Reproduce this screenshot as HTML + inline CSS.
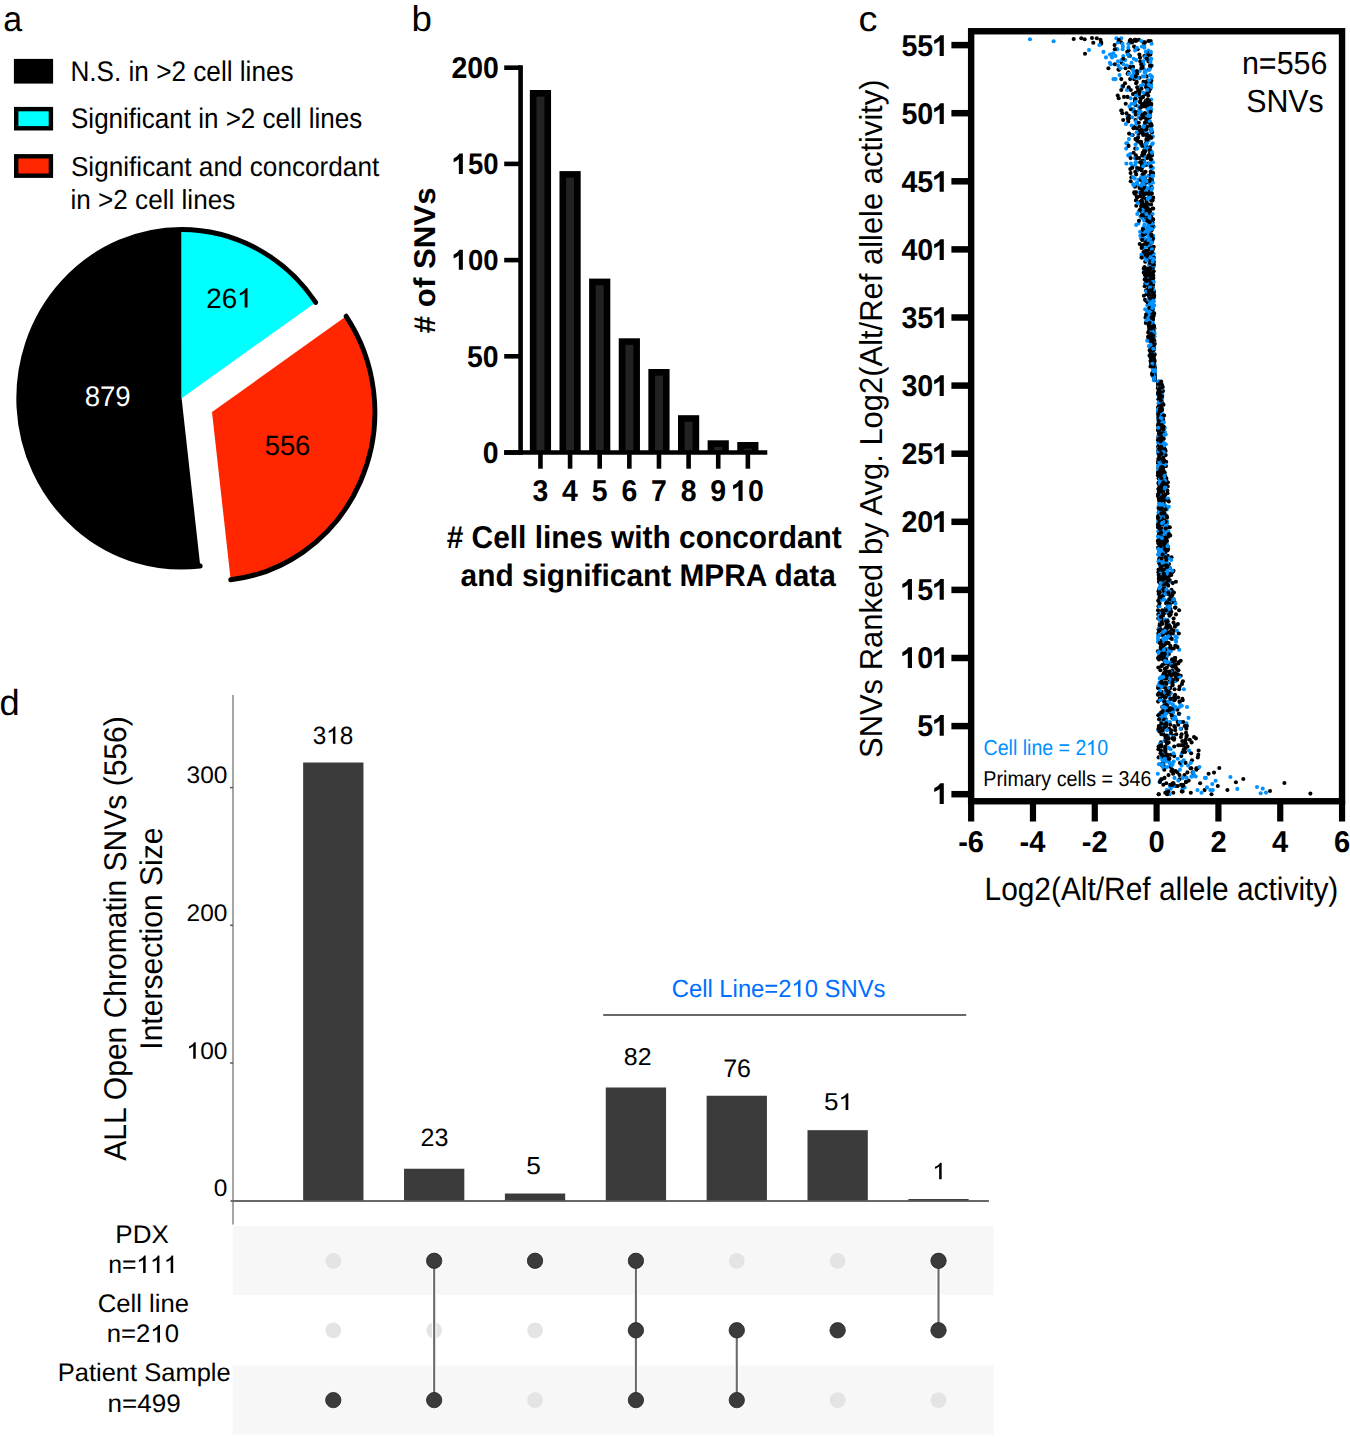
<!DOCTYPE html><html><head><meta charset="utf-8"><style>html,body{margin:0;padding:0;background:#fff;}body{width:1350px;height:1438px;overflow:hidden;}svg{display:block;}text{font-family:"Liberation Sans", sans-serif;text-rendering:geometricPrecision;}</style></head><body>
<svg width="1350" height="1438" viewBox="0 0 1350 1438">
<rect width="1350" height="1438" fill="#fff"/>
<text transform="translate(3.37,31.05) scale(0.9617,1)" font-size="35.27" font-weight="normal" fill="#000">a</text>
<text transform="translate(411.62,31.24) scale(1.0208,1)" font-size="35.92" font-weight="normal" fill="#000">b</text>
<text transform="translate(858.39,31.05) scale(1.0747,1)" font-size="35.27" font-weight="normal" fill="#000">c</text>
<text transform="translate(-0.55,715.34) scale(1.0009,1)" font-size="36.19" font-weight="normal" fill="#000">d</text>
<rect x="16" y="61" width="35" height="20.5" fill="#000" stroke="#000" stroke-width="4.2"/>
<rect x="16.2" y="109.1" width="34.7" height="19.2" fill="#00ffff" stroke="#000" stroke-width="4.4"/>
<rect x="16.2" y="156.3" width="34.7" height="19.4" fill="#ff2600" stroke="#000" stroke-width="4.4"/>
<text transform="translate(70.41,81.32) scale(0.9198,1)" font-size="28.44" font-weight="normal" fill="#000">N.S. in &gt;2 cell lines</text>
<text transform="translate(71.03,127.55) scale(0.9176,1)" font-size="28.34" font-weight="normal" fill="#000">Significant in &gt;2 cell lines</text>
<text transform="translate(70.92,175.55) scale(0.9555,1)" font-size="27.38" font-weight="normal" fill="#000">Significant and concordant</text>
<text transform="translate(70.40,208.73) scale(0.9515,1)" font-size="27.48" font-weight="normal" fill="#000">in &gt;2 cell lines</text>
<g transform="translate(181.6,398.3) scale(1,1.0363)">
<path d="M0.00,0.00 L18.67,161.83 A162.90,162.90 0 1 1 -0.00,-162.90 Z" fill="#000"/>
<path d="M18.67,161.83 A162.90,162.90 0 1 1 -0.00,-162.90" fill="none" stroke="#000" stroke-width="4.8" stroke-linecap="round"/>
<path d="M0.00,0.00 L0.00,-162.90 A162.90,162.90 0 0 1 134.09,-92.50 Z" fill="#00ffff"/>
<path d="M0.00,-162.90 A162.90,162.90 0 0 1 134.09,-92.50" fill="none" stroke="#000" stroke-width="4.8" stroke-linecap="round"/>
<path d="M30.41,13.32 L164.50,-79.18 A162.90,162.90 0 0 1 49.08,175.15 Z" fill="#ff2600"/>
<path d="M164.50,-79.18 A162.90,162.90 0 0 1 49.08,175.15" fill="none" stroke="#000" stroke-width="4.8" stroke-linecap="round"/>
</g>
<g transform="translate(206.21,307.62) scale(0.9921,1)" fill="#000">
<text font-size="28.03" font-weight="normal">26&#8199;</text>
<polygon points="38.75,-0.00 41.62,-0.00 41.62,-19.28 39.94,-19.28 39.09,-18.02 37.75,-16.72 35.97,-15.49 33.91,-14.46 33.91,-12.12 35.28,-12.64 36.72,-13.36 37.95,-14.15 38.75,-14.80"/>
</g>
<text transform="translate(84.66,405.92) scale(0.9756,1)" font-size="28.31" font-weight="normal" fill="#fff">879</text>
<text transform="translate(264.71,455.12) scale(0.9804,1)" font-size="27.89" font-weight="normal" fill="#000">556</text>
<line x1="520.6" y1="65.3" x2="520.6" y2="454.8" stroke="#000" stroke-width="4.6"/>
<line x1="504.2" y1="452.5" x2="767.3" y2="452.5" stroke="#000" stroke-width="4.5"/>
<line x1="504.2" y1="452.50" x2="520.6" y2="452.50" stroke="#000" stroke-width="4.6"/>
<line x1="504.2" y1="356.30" x2="520.6" y2="356.30" stroke="#000" stroke-width="4.6"/>
<line x1="504.2" y1="260.10" x2="520.6" y2="260.10" stroke="#000" stroke-width="4.6"/>
<line x1="504.2" y1="163.90" x2="520.6" y2="163.90" stroke="#000" stroke-width="4.6"/>
<line x1="504.2" y1="67.70" x2="520.6" y2="67.70" stroke="#000" stroke-width="4.6"/>
<rect x="529.85" y="90.00" width="21.20" height="362.50" fill="#000"/>
<rect x="536.45" y="96.60" width="8.00" height="353.60" fill="#222"/>
<line x1="540.45" y1="452.5" x2="540.45" y2="468.7" stroke="#000" stroke-width="4.6"/>
<rect x="559.48" y="171.10" width="21.20" height="281.40" fill="#000"/>
<rect x="566.08" y="177.70" width="8.00" height="272.50" fill="#222"/>
<line x1="570.08" y1="452.5" x2="570.08" y2="468.7" stroke="#000" stroke-width="4.6"/>
<rect x="589.11" y="278.60" width="21.20" height="173.90" fill="#000"/>
<rect x="595.71" y="285.20" width="8.00" height="165.00" fill="#222"/>
<line x1="599.71" y1="452.5" x2="599.71" y2="468.7" stroke="#000" stroke-width="4.6"/>
<rect x="618.74" y="338.30" width="21.20" height="114.20" fill="#000"/>
<rect x="625.34" y="344.90" width="8.00" height="105.30" fill="#222"/>
<line x1="629.34" y1="452.5" x2="629.34" y2="468.7" stroke="#000" stroke-width="4.6"/>
<rect x="648.37" y="369.00" width="21.20" height="83.50" fill="#000"/>
<rect x="654.97" y="375.60" width="8.00" height="74.60" fill="#222"/>
<line x1="658.97" y1="452.5" x2="658.97" y2="468.7" stroke="#000" stroke-width="4.6"/>
<rect x="678.00" y="415.20" width="21.20" height="37.30" fill="#000"/>
<rect x="684.60" y="421.80" width="8.00" height="28.40" fill="#222"/>
<line x1="688.60" y1="452.5" x2="688.60" y2="468.7" stroke="#000" stroke-width="4.6"/>
<rect x="707.63" y="440.30" width="21.20" height="12.20" fill="#000"/>
<rect x="714.23" y="446.90" width="8.00" height="3.30" fill="#222"/>
<line x1="718.23" y1="452.5" x2="718.23" y2="468.7" stroke="#000" stroke-width="4.6"/>
<rect x="737.26" y="442.00" width="21.20" height="10.50" fill="#000"/>
<rect x="743.86" y="448.60" width="8.00" height="1.60" fill="#222"/>
<line x1="747.86" y1="452.5" x2="747.86" y2="468.7" stroke="#000" stroke-width="4.6"/>
<text transform="translate(451.41,78.00) scale(0.9432,1)" font-size="30.14" font-weight="bold" fill="#000">200</text>
<g transform="translate(452.73,174.00) scale(0.9207,1)" fill="#000">
<text font-size="29.86" font-weight="bold">&#8199;50</text>
<polygon points="6.63,0.00 10.98,0.00 10.98,-20.54 7.41,-20.54 4.81,-17.71 0.95,-15.59 0.95,-11.71 4.23,-13.19 6.63,-14.89"/>
</g>
<g transform="translate(452.73,269.71) scale(0.9521,1)" fill="#000">
<text font-size="28.87" font-weight="bold">&#8199;00</text>
<polygon points="6.41,0.00 10.62,0.00 10.62,-19.86 7.16,-19.86 4.65,-17.13 0.92,-15.07 0.92,-11.32 4.09,-12.76 6.41,-14.39"/>
</g>
<text transform="translate(466.98,366.68) scale(0.9444,1)" font-size="30.10" font-weight="bold" fill="#000">50</text>
<text transform="translate(482.76,462.88) scale(0.9444,1)" font-size="30.10" font-weight="bold" fill="#000">0</text>
<text transform="translate(532.60,501.08) scale(0.9444,1)" font-size="30.10" font-weight="bold" fill="#000">3</text>
<text transform="translate(561.96,501.08) scale(0.9444,1)" font-size="30.10" font-weight="bold" fill="#000">4</text>
<text transform="translate(591.67,500.93) scale(0.9444,1)" font-size="30.10" font-weight="bold" fill="#000">5</text>
<text transform="translate(621.38,501.08) scale(0.9444,1)" font-size="30.10" font-weight="bold" fill="#000">6</text>
<text transform="translate(651.02,501.08) scale(0.9444,1)" font-size="30.10" font-weight="bold" fill="#000">7</text>
<text transform="translate(680.66,501.08) scale(0.9444,1)" font-size="30.10" font-weight="bold" fill="#000">8</text>
<text transform="translate(710.30,501.08) scale(0.9444,1)" font-size="30.10" font-weight="bold" fill="#000">9</text>
<g transform="translate(732.17,501.08) scale(0.9444,1)" fill="#000">
<text font-size="30.10" font-weight="bold">&#8199;0</text>
<polygon points="6.69,0.00 11.07,0.00 11.07,-20.71 7.47,-20.71 4.85,-17.86 0.96,-15.71 0.96,-11.80 4.26,-13.30 6.69,-15.01"/>
</g>
<text transform="translate(446.65,547.58) scale(0.9429,1)" font-size="31.70" font-weight="bold" fill="#000"># Cell lines with concordant</text>
<text transform="translate(460.60,585.74) scale(0.9559,1)" font-size="31.23" font-weight="bold" fill="#000">and significant MPRA data</text>
<text transform="translate(434.70,333.17) rotate(-90) scale(1.0381,1)" font-size="30.07" font-weight="bold" fill="#000"># of SNVs</text>
<g>
<circle cx="1152.4" cy="329.8" r="2.05" fill="#000"/>
<circle cx="1121.3" cy="79.1" r="2.05" fill="#000"/>
<circle cx="1145.6" cy="114.6" r="2.05" fill="#000"/>
<circle cx="1158.0" cy="638.9" r="2.05" fill="#0091ff"/>
<circle cx="1151.7" cy="321.6" r="2.05" fill="#0091ff"/>
<circle cx="1148.4" cy="50.5" r="2.05" fill="#0091ff"/>
<circle cx="1145.7" cy="163.6" r="2.05" fill="#0091ff"/>
<circle cx="1149.9" cy="117.3" r="2.05" fill="#000"/>
<circle cx="1138.3" cy="141.8" r="2.05" fill="#000"/>
<circle cx="1152.9" cy="325.7" r="2.05" fill="#000"/>
<circle cx="1182.9" cy="681.2" r="2.05" fill="#000"/>
<circle cx="1151.7" cy="252.1" r="2.05" fill="#000"/>
<circle cx="1140.6" cy="86.0" r="2.05" fill="#0091ff"/>
<circle cx="1175.6" cy="786.0" r="2.05" fill="#000"/>
<circle cx="1149.6" cy="306.6" r="2.05" fill="#000"/>
<circle cx="1160.6" cy="600.8" r="2.05" fill="#0091ff"/>
<circle cx="1110.8" cy="64.2" r="2.05" fill="#0091ff"/>
<circle cx="1165.8" cy="565.4" r="2.05" fill="#0091ff"/>
<circle cx="1174.6" cy="602.2" r="2.05" fill="#000"/>
<circle cx="1165.4" cy="674.3" r="2.05" fill="#000"/>
<circle cx="1162.2" cy="421.0" r="2.05" fill="#0091ff"/>
<circle cx="1160.9" cy="464.6" r="2.05" fill="#0091ff"/>
<circle cx="1159.0" cy="436.0" r="2.05" fill="#000"/>
<circle cx="1159.2" cy="542.2" r="2.05" fill="#000"/>
<circle cx="1159.6" cy="396.5" r="2.05" fill="#000"/>
<circle cx="1161.3" cy="531.3" r="2.05" fill="#000"/>
<circle cx="1152.4" cy="268.5" r="2.05" fill="#000"/>
<circle cx="1170.7" cy="765.6" r="2.05" fill="#0091ff"/>
<circle cx="1175.8" cy="673.0" r="2.05" fill="#000"/>
<circle cx="1126.4" cy="143.2" r="2.05" fill="#0091ff"/>
<circle cx="1148.0" cy="204.5" r="2.05" fill="#000"/>
<circle cx="1168.2" cy="585.8" r="2.05" fill="#000"/>
<circle cx="1161.2" cy="577.6" r="2.05" fill="#000"/>
<circle cx="1164.3" cy="564.0" r="2.05" fill="#000"/>
<circle cx="1158.2" cy="395.1" r="2.05" fill="#0091ff"/>
<circle cx="1185.8" cy="739.7" r="2.05" fill="#000"/>
<circle cx="1150.8" cy="350.2" r="2.05" fill="#0091ff"/>
<circle cx="1219.3" cy="768.0" r="2.05" fill="#000"/>
<circle cx="1149.8" cy="265.7" r="2.05" fill="#0091ff"/>
<circle cx="1172.9" cy="708.4" r="2.05" fill="#000"/>
<circle cx="1160.7" cy="389.7" r="2.05" fill="#000"/>
<circle cx="1151.1" cy="188.1" r="2.05" fill="#000"/>
<circle cx="1158.5" cy="606.2" r="2.05" fill="#000"/>
<circle cx="1260.7" cy="793.3" r="2.05" fill="#0091ff"/>
<circle cx="1133.5" cy="73.7" r="2.05" fill="#0091ff"/>
<circle cx="1158.1" cy="636.2" r="2.05" fill="#0091ff"/>
<circle cx="1145.5" cy="317.5" r="2.05" fill="#000"/>
<circle cx="1164.4" cy="613.1" r="2.05" fill="#000"/>
<circle cx="1196.4" cy="768.3" r="2.05" fill="#000"/>
<circle cx="1169.3" cy="758.8" r="2.05" fill="#000"/>
<circle cx="1177.4" cy="709.8" r="2.05" fill="#000"/>
<circle cx="1230.4" cy="777.0" r="2.05" fill="#0091ff"/>
<circle cx="1159.5" cy="404.7" r="2.05" fill="#000"/>
<circle cx="1152.1" cy="317.5" r="2.05" fill="#000"/>
<circle cx="1176.3" cy="645.7" r="2.05" fill="#0091ff"/>
<circle cx="1158.8" cy="393.8" r="2.05" fill="#000"/>
<circle cx="1159.8" cy="713.8" r="2.05" fill="#0091ff"/>
<circle cx="1151.5" cy="335.2" r="2.05" fill="#000"/>
<circle cx="1159.8" cy="624.0" r="2.05" fill="#000"/>
<circle cx="1148.4" cy="41.0" r="2.05" fill="#000"/>
<circle cx="1174.6" cy="689.3" r="2.05" fill="#000"/>
<circle cx="1161.3" cy="490.5" r="2.05" fill="#000"/>
<circle cx="1137.7" cy="185.4" r="2.05" fill="#0091ff"/>
<circle cx="1161.7" cy="519.1" r="2.05" fill="#000"/>
<circle cx="1154.1" cy="336.6" r="2.05" fill="#000"/>
<circle cx="1154.8" cy="365.2" r="2.05" fill="#0091ff"/>
<circle cx="1173.7" cy="786.0" r="2.05" fill="#0091ff"/>
<circle cx="1158.6" cy="629.4" r="2.05" fill="#000"/>
<circle cx="1146.4" cy="279.4" r="2.05" fill="#000"/>
<circle cx="1152.5" cy="320.2" r="2.05" fill="#000"/>
<circle cx="1158.2" cy="387.0" r="2.05" fill="#000"/>
<circle cx="1148.5" cy="107.8" r="2.05" fill="#0091ff"/>
<circle cx="1160.3" cy="397.9" r="2.05" fill="#000"/>
<circle cx="1143.7" cy="103.7" r="2.05" fill="#000"/>
<circle cx="1165.8" cy="538.1" r="2.05" fill="#0091ff"/>
<circle cx="1139.4" cy="54.6" r="2.05" fill="#000"/>
<circle cx="1165.8" cy="609.0" r="2.05" fill="#000"/>
<circle cx="1130.6" cy="98.2" r="2.05" fill="#0091ff"/>
<circle cx="1159.7" cy="437.4" r="2.05" fill="#000"/>
<circle cx="1159.0" cy="655.3" r="2.05" fill="#0091ff"/>
<circle cx="1154.5" cy="367.9" r="2.05" fill="#000"/>
<circle cx="1163.1" cy="634.8" r="2.05" fill="#000"/>
<circle cx="1150.6" cy="249.4" r="2.05" fill="#000"/>
<circle cx="1169.7" cy="573.6" r="2.05" fill="#000"/>
<circle cx="1161.5" cy="598.1" r="2.05" fill="#000"/>
<circle cx="1154.0" cy="369.3" r="2.05" fill="#000"/>
<circle cx="1139.0" cy="110.5" r="2.05" fill="#0091ff"/>
<circle cx="1160.0" cy="641.7" r="2.05" fill="#0091ff"/>
<circle cx="1168.9" cy="613.1" r="2.05" fill="#000"/>
<circle cx="1159.9" cy="510.9" r="2.05" fill="#0091ff"/>
<circle cx="1150.4" cy="88.7" r="2.05" fill="#000"/>
<circle cx="1149.3" cy="286.2" r="2.05" fill="#000"/>
<circle cx="1106.0" cy="57.4" r="2.05" fill="#0091ff"/>
<circle cx="1148.6" cy="241.2" r="2.05" fill="#0091ff"/>
<circle cx="1163.0" cy="449.6" r="2.05" fill="#0091ff"/>
<circle cx="1122.3" cy="86.0" r="2.05" fill="#0091ff"/>
<circle cx="1167.0" cy="517.7" r="2.05" fill="#000"/>
<circle cx="1153.3" cy="370.6" r="2.05" fill="#0091ff"/>
<circle cx="1152.7" cy="287.5" r="2.05" fill="#000"/>
<circle cx="1151.6" cy="305.2" r="2.05" fill="#0091ff"/>
<circle cx="1167.2" cy="523.2" r="2.05" fill="#0091ff"/>
<circle cx="1141.5" cy="207.2" r="2.05" fill="#000"/>
<circle cx="1149.0" cy="256.2" r="2.05" fill="#0091ff"/>
<circle cx="1151.1" cy="87.3" r="2.05" fill="#0091ff"/>
<circle cx="1205.9" cy="777.9" r="2.05" fill="#0091ff"/>
<circle cx="1151.3" cy="189.5" r="2.05" fill="#000"/>
<circle cx="1147.5" cy="133.6" r="2.05" fill="#0091ff"/>
<circle cx="1169.7" cy="711.1" r="2.05" fill="#0091ff"/>
<circle cx="1198.3" cy="754.7" r="2.05" fill="#000"/>
<circle cx="1159.9" cy="542.2" r="2.05" fill="#000"/>
<circle cx="1161.7" cy="397.9" r="2.05" fill="#000"/>
<circle cx="1149.8" cy="105.0" r="2.05" fill="#000"/>
<circle cx="1173.5" cy="622.6" r="2.05" fill="#000"/>
<circle cx="1170.2" cy="712.5" r="2.05" fill="#000"/>
<circle cx="1174.0" cy="630.8" r="2.05" fill="#000"/>
<circle cx="1166.1" cy="632.1" r="2.05" fill="#000"/>
<circle cx="1158.5" cy="506.8" r="2.05" fill="#0091ff"/>
<circle cx="1120.9" cy="110.5" r="2.05" fill="#0091ff"/>
<circle cx="1170.3" cy="688.0" r="2.05" fill="#000"/>
<circle cx="1158.3" cy="531.3" r="2.05" fill="#0091ff"/>
<circle cx="1171.7" cy="660.7" r="2.05" fill="#0091ff"/>
<circle cx="1162.0" cy="512.3" r="2.05" fill="#000"/>
<circle cx="1151.3" cy="193.6" r="2.05" fill="#000"/>
<circle cx="1154.4" cy="340.7" r="2.05" fill="#000"/>
<circle cx="1159.5" cy="498.6" r="2.05" fill="#000"/>
<circle cx="1158.8" cy="452.3" r="2.05" fill="#0091ff"/>
<circle cx="1152.5" cy="222.2" r="2.05" fill="#0091ff"/>
<circle cx="1145.0" cy="250.8" r="2.05" fill="#000"/>
<circle cx="1158.0" cy="516.4" r="2.05" fill="#000"/>
<circle cx="1134.0" cy="126.8" r="2.05" fill="#000"/>
<circle cx="1163.2" cy="686.6" r="2.05" fill="#000"/>
<circle cx="1146.3" cy="258.9" r="2.05" fill="#0091ff"/>
<circle cx="1152.9" cy="373.3" r="2.05" fill="#0091ff"/>
<circle cx="1143.8" cy="160.9" r="2.05" fill="#000"/>
<circle cx="1158.2" cy="384.2" r="2.05" fill="#000"/>
<circle cx="1153.5" cy="357.0" r="2.05" fill="#0091ff"/>
<circle cx="1138.1" cy="136.4" r="2.05" fill="#0091ff"/>
<circle cx="1142.5" cy="182.7" r="2.05" fill="#0091ff"/>
<circle cx="1150.8" cy="155.4" r="2.05" fill="#000"/>
<circle cx="1163.9" cy="523.2" r="2.05" fill="#0091ff"/>
<circle cx="1169.3" cy="711.1" r="2.05" fill="#0091ff"/>
<circle cx="1160.0" cy="412.8" r="2.05" fill="#000"/>
<circle cx="1118.7" cy="98.2" r="2.05" fill="#000"/>
<circle cx="1144.8" cy="145.9" r="2.05" fill="#000"/>
<circle cx="1152.9" cy="358.4" r="2.05" fill="#000"/>
<circle cx="1165.6" cy="451.0" r="2.05" fill="#000"/>
<circle cx="1165.5" cy="609.0" r="2.05" fill="#000"/>
<circle cx="1159.5" cy="682.5" r="2.05" fill="#0091ff"/>
<circle cx="1154.8" cy="372.0" r="2.05" fill="#000"/>
<circle cx="1205.0" cy="777.9" r="2.05" fill="#0091ff"/>
<circle cx="1179.2" cy="649.8" r="2.05" fill="#0091ff"/>
<circle cx="1158.6" cy="468.7" r="2.05" fill="#000"/>
<circle cx="1121.1" cy="42.4" r="2.05" fill="#000"/>
<circle cx="1165.2" cy="701.6" r="2.05" fill="#000"/>
<circle cx="1140.8" cy="167.7" r="2.05" fill="#0091ff"/>
<circle cx="1162.6" cy="583.1" r="2.05" fill="#000"/>
<circle cx="1160.9" cy="540.9" r="2.05" fill="#000"/>
<circle cx="1164.0" cy="585.8" r="2.05" fill="#000"/>
<circle cx="1166.2" cy="648.5" r="2.05" fill="#0091ff"/>
<circle cx="1162.4" cy="644.4" r="2.05" fill="#000"/>
<circle cx="1158.3" cy="633.5" r="2.05" fill="#000"/>
<circle cx="1163.6" cy="765.6" r="2.05" fill="#000"/>
<circle cx="1154.1" cy="380.2" r="2.05" fill="#0091ff"/>
<circle cx="1151.3" cy="248.0" r="2.05" fill="#000"/>
<circle cx="1179.9" cy="702.9" r="2.05" fill="#0091ff"/>
<circle cx="1164.7" cy="497.3" r="2.05" fill="#0091ff"/>
<circle cx="1151.1" cy="303.9" r="2.05" fill="#0091ff"/>
<circle cx="1144.5" cy="150.0" r="2.05" fill="#000"/>
<circle cx="1134.9" cy="100.9" r="2.05" fill="#000"/>
<circle cx="1160.4" cy="414.2" r="2.05" fill="#0091ff"/>
<circle cx="1160.1" cy="407.4" r="2.05" fill="#0091ff"/>
<circle cx="1161.9" cy="490.5" r="2.05" fill="#000"/>
<circle cx="1161.3" cy="523.2" r="2.05" fill="#000"/>
<circle cx="1143.2" cy="197.6" r="2.05" fill="#000"/>
<circle cx="1165.4" cy="553.1" r="2.05" fill="#0091ff"/>
<circle cx="1134.2" cy="192.2" r="2.05" fill="#000"/>
<circle cx="1168.3" cy="624.0" r="2.05" fill="#0091ff"/>
<circle cx="1175.7" cy="664.8" r="2.05" fill="#000"/>
<circle cx="1185.1" cy="752.0" r="2.05" fill="#000"/>
<circle cx="1165.7" cy="455.1" r="2.05" fill="#000"/>
<circle cx="1151.5" cy="297.1" r="2.05" fill="#000"/>
<circle cx="1158.4" cy="618.5" r="2.05" fill="#0091ff"/>
<circle cx="1153.0" cy="322.9" r="2.05" fill="#0091ff"/>
<circle cx="1137.2" cy="197.6" r="2.05" fill="#000"/>
<circle cx="1150.2" cy="258.9" r="2.05" fill="#000"/>
<circle cx="1167.1" cy="558.6" r="2.05" fill="#000"/>
<circle cx="1172.4" cy="717.9" r="2.05" fill="#000"/>
<circle cx="1154.9" cy="374.7" r="2.05" fill="#0091ff"/>
<circle cx="1145.4" cy="283.4" r="2.05" fill="#000"/>
<circle cx="1147.2" cy="126.8" r="2.05" fill="#000"/>
<circle cx="1166.8" cy="790.1" r="2.05" fill="#0091ff"/>
<circle cx="1168.5" cy="775.1" r="2.05" fill="#000"/>
<circle cx="1153.5" cy="376.1" r="2.05" fill="#000"/>
<circle cx="1138.2" cy="106.4" r="2.05" fill="#0091ff"/>
<circle cx="1172.9" cy="712.5" r="2.05" fill="#000"/>
<circle cx="1167.8" cy="584.5" r="2.05" fill="#000"/>
<circle cx="1143.9" cy="295.7" r="2.05" fill="#000"/>
<circle cx="1148.1" cy="190.8" r="2.05" fill="#000"/>
<circle cx="1150.3" cy="212.6" r="2.05" fill="#000"/>
<circle cx="1140.1" cy="196.3" r="2.05" fill="#000"/>
<circle cx="1163.3" cy="784.7" r="2.05" fill="#000"/>
<circle cx="1152.5" cy="199.0" r="2.05" fill="#000"/>
<circle cx="1153.4" cy="226.2" r="2.05" fill="#000"/>
<circle cx="1158.5" cy="591.3" r="2.05" fill="#000"/>
<circle cx="1165.3" cy="505.5" r="2.05" fill="#0091ff"/>
<circle cx="1153.4" cy="332.5" r="2.05" fill="#0091ff"/>
<circle cx="1137.2" cy="170.4" r="2.05" fill="#000"/>
<circle cx="1161.0" cy="489.1" r="2.05" fill="#000"/>
<circle cx="1146.9" cy="256.2" r="2.05" fill="#0091ff"/>
<circle cx="1152.5" cy="200.4" r="2.05" fill="#000"/>
<circle cx="1158.1" cy="641.7" r="2.05" fill="#0091ff"/>
<circle cx="1168.1" cy="689.3" r="2.05" fill="#000"/>
<circle cx="1144.8" cy="177.2" r="2.05" fill="#000"/>
<circle cx="1166.5" cy="568.1" r="2.05" fill="#000"/>
<circle cx="1161.8" cy="385.6" r="2.05" fill="#000"/>
<circle cx="1163.1" cy="485.0" r="2.05" fill="#0091ff"/>
<circle cx="1165.8" cy="719.3" r="2.05" fill="#000"/>
<circle cx="1130.2" cy="154.1" r="2.05" fill="#0091ff"/>
<circle cx="1162.5" cy="678.4" r="2.05" fill="#0091ff"/>
<circle cx="1149.2" cy="290.3" r="2.05" fill="#000"/>
<circle cx="1174.2" cy="756.1" r="2.05" fill="#000"/>
<circle cx="1141.8" cy="115.9" r="2.05" fill="#000"/>
<circle cx="1161.3" cy="746.5" r="2.05" fill="#000"/>
<circle cx="1173.5" cy="783.3" r="2.05" fill="#000"/>
<circle cx="1183.8" cy="749.3" r="2.05" fill="#000"/>
<circle cx="1159.0" cy="456.4" r="2.05" fill="#000"/>
<circle cx="1139.5" cy="188.1" r="2.05" fill="#000"/>
<circle cx="1162.5" cy="713.8" r="2.05" fill="#000"/>
<circle cx="1085.0" cy="53.7" r="2.05" fill="#000"/>
<circle cx="1141.2" cy="205.8" r="2.05" fill="#000"/>
<circle cx="1150.9" cy="174.5" r="2.05" fill="#000"/>
<circle cx="1176.3" cy="734.3" r="2.05" fill="#000"/>
<circle cx="1193.8" cy="775.1" r="2.05" fill="#000"/>
<circle cx="1159.9" cy="387.0" r="2.05" fill="#000"/>
<circle cx="1160.7" cy="716.6" r="2.05" fill="#000"/>
<circle cx="1151.5" cy="351.6" r="2.05" fill="#0091ff"/>
<circle cx="1153.6" cy="329.8" r="2.05" fill="#0091ff"/>
<circle cx="1162.4" cy="542.2" r="2.05" fill="#000"/>
<circle cx="1158.2" cy="463.2" r="2.05" fill="#000"/>
<circle cx="1151.2" cy="84.6" r="2.05" fill="#0091ff"/>
<circle cx="1158.3" cy="407.4" r="2.05" fill="#000"/>
<circle cx="1147.7" cy="148.6" r="2.05" fill="#000"/>
<circle cx="1170.3" cy="637.6" r="2.05" fill="#0091ff"/>
<circle cx="1182.4" cy="698.9" r="2.05" fill="#000"/>
<circle cx="1153.0" cy="219.4" r="2.05" fill="#000"/>
<circle cx="1148.1" cy="58.7" r="2.05" fill="#0091ff"/>
<circle cx="1158.7" cy="393.8" r="2.05" fill="#000"/>
<circle cx="1161.3" cy="475.5" r="2.05" fill="#000"/>
<circle cx="1135.3" cy="99.6" r="2.05" fill="#000"/>
<circle cx="1167.7" cy="486.4" r="2.05" fill="#000"/>
<circle cx="1163.8" cy="696.1" r="2.05" fill="#000"/>
<circle cx="1159.5" cy="606.2" r="2.05" fill="#0091ff"/>
<circle cx="1149.3" cy="303.9" r="2.05" fill="#0091ff"/>
<circle cx="1158.9" cy="445.5" r="2.05" fill="#000"/>
<circle cx="1150.6" cy="332.5" r="2.05" fill="#000"/>
<circle cx="1162.9" cy="591.3" r="2.05" fill="#0091ff"/>
<circle cx="1148.0" cy="53.3" r="2.05" fill="#000"/>
<circle cx="1145.5" cy="212.6" r="2.05" fill="#0091ff"/>
<circle cx="1152.0" cy="348.8" r="2.05" fill="#000"/>
<circle cx="1197.8" cy="757.4" r="2.05" fill="#000"/>
<circle cx="1148.9" cy="239.9" r="2.05" fill="#000"/>
<circle cx="1159.0" cy="407.4" r="2.05" fill="#0091ff"/>
<circle cx="1158.3" cy="459.1" r="2.05" fill="#000"/>
<circle cx="1172.4" cy="698.9" r="2.05" fill="#000"/>
<circle cx="1140.5" cy="216.7" r="2.05" fill="#0091ff"/>
<circle cx="1158.9" cy="406.0" r="2.05" fill="#000"/>
<circle cx="1161.3" cy="557.2" r="2.05" fill="#000"/>
<circle cx="1210.3" cy="790.1" r="2.05" fill="#0091ff"/>
<circle cx="1165.9" cy="629.4" r="2.05" fill="#000"/>
<circle cx="1149.9" cy="114.6" r="2.05" fill="#000"/>
<circle cx="1162.8" cy="498.6" r="2.05" fill="#000"/>
<circle cx="1162.8" cy="570.8" r="2.05" fill="#0091ff"/>
<circle cx="1159.0" cy="452.3" r="2.05" fill="#000"/>
<circle cx="1169.6" cy="762.9" r="2.05" fill="#0091ff"/>
<circle cx="1162.2" cy="621.2" r="2.05" fill="#0091ff"/>
<circle cx="1161.0" cy="401.9" r="2.05" fill="#000"/>
<circle cx="1157.9" cy="651.2" r="2.05" fill="#000"/>
<circle cx="1132.3" cy="166.3" r="2.05" fill="#0091ff"/>
<circle cx="1150.4" cy="339.3" r="2.05" fill="#000"/>
<circle cx="1168.9" cy="576.3" r="2.05" fill="#000"/>
<circle cx="1149.8" cy="226.2" r="2.05" fill="#000"/>
<circle cx="1143.2" cy="160.9" r="2.05" fill="#0091ff"/>
<circle cx="1140.1" cy="102.3" r="2.05" fill="#000"/>
<circle cx="1160.5" cy="429.2" r="2.05" fill="#000"/>
<circle cx="1144.5" cy="267.1" r="2.05" fill="#000"/>
<circle cx="1159.2" cy="436.0" r="2.05" fill="#0091ff"/>
<circle cx="1146.6" cy="203.1" r="2.05" fill="#0091ff"/>
<circle cx="1145.9" cy="218.1" r="2.05" fill="#0091ff"/>
<circle cx="1153.1" cy="263.0" r="2.05" fill="#000"/>
<circle cx="1166.4" cy="532.7" r="2.05" fill="#000"/>
<circle cx="1153.8" cy="337.9" r="2.05" fill="#0091ff"/>
<circle cx="1159.2" cy="504.1" r="2.05" fill="#0091ff"/>
<circle cx="1152.7" cy="280.7" r="2.05" fill="#000"/>
<circle cx="1139.9" cy="96.9" r="2.05" fill="#000"/>
<circle cx="1170.3" cy="693.4" r="2.05" fill="#000"/>
<circle cx="1158.8" cy="543.6" r="2.05" fill="#000"/>
<circle cx="1165.2" cy="554.5" r="2.05" fill="#000"/>
<circle cx="1153.3" cy="227.6" r="2.05" fill="#0091ff"/>
<circle cx="1160.6" cy="431.9" r="2.05" fill="#000"/>
<circle cx="1160.2" cy="574.9" r="2.05" fill="#000"/>
<circle cx="1153.9" cy="291.6" r="2.05" fill="#000"/>
<circle cx="1171.5" cy="589.9" r="2.05" fill="#000"/>
<circle cx="1142.4" cy="160.9" r="2.05" fill="#000"/>
<circle cx="1152.3" cy="329.8" r="2.05" fill="#000"/>
<circle cx="1159.1" cy="493.2" r="2.05" fill="#000"/>
<circle cx="1145.7" cy="278.0" r="2.05" fill="#0091ff"/>
<circle cx="1172.4" cy="769.7" r="2.05" fill="#000"/>
<circle cx="1167.0" cy="693.4" r="2.05" fill="#000"/>
<circle cx="1132.5" cy="77.8" r="2.05" fill="#000"/>
<circle cx="1160.4" cy="670.3" r="2.05" fill="#000"/>
<circle cx="1162.9" cy="613.1" r="2.05" fill="#000"/>
<circle cx="1149.9" cy="333.8" r="2.05" fill="#000"/>
<circle cx="1144.5" cy="178.6" r="2.05" fill="#000"/>
<circle cx="1150.2" cy="230.3" r="2.05" fill="#0091ff"/>
<circle cx="1153.2" cy="235.8" r="2.05" fill="#0091ff"/>
<circle cx="1171.7" cy="629.4" r="2.05" fill="#000"/>
<circle cx="1160.7" cy="448.3" r="2.05" fill="#000"/>
<circle cx="1147.2" cy="260.3" r="2.05" fill="#000"/>
<circle cx="1161.3" cy="490.5" r="2.05" fill="#000"/>
<circle cx="1159.0" cy="387.0" r="2.05" fill="#000"/>
<circle cx="1158.4" cy="652.6" r="2.05" fill="#0091ff"/>
<circle cx="1152.9" cy="269.8" r="2.05" fill="#0091ff"/>
<circle cx="1101.2" cy="42.4" r="2.05" fill="#000"/>
<circle cx="1138.5" cy="179.9" r="2.05" fill="#0091ff"/>
<circle cx="1173.5" cy="735.6" r="2.05" fill="#000"/>
<circle cx="1162.6" cy="644.4" r="2.05" fill="#000"/>
<circle cx="1145.2" cy="309.3" r="2.05" fill="#0091ff"/>
<circle cx="1151.9" cy="342.0" r="2.05" fill="#000"/>
<circle cx="1145.9" cy="219.4" r="2.05" fill="#000"/>
<circle cx="1170.5" cy="609.0" r="2.05" fill="#000"/>
<circle cx="1151.5" cy="288.9" r="2.05" fill="#000"/>
<circle cx="1146.8" cy="254.8" r="2.05" fill="#0091ff"/>
<circle cx="1164.6" cy="513.6" r="2.05" fill="#000"/>
<circle cx="1143.1" cy="96.9" r="2.05" fill="#000"/>
<circle cx="1127.6" cy="73.7" r="2.05" fill="#000"/>
<circle cx="1159.9" cy="446.9" r="2.05" fill="#000"/>
<circle cx="1164.4" cy="655.3" r="2.05" fill="#0091ff"/>
<circle cx="1158.7" cy="594.0" r="2.05" fill="#000"/>
<circle cx="1151.7" cy="342.0" r="2.05" fill="#000"/>
<circle cx="1135.4" cy="105.0" r="2.05" fill="#000"/>
<circle cx="1176.0" cy="719.3" r="2.05" fill="#0091ff"/>
<circle cx="1186.5" cy="723.4" r="2.05" fill="#0091ff"/>
<circle cx="1164.4" cy="702.9" r="2.05" fill="#0091ff"/>
<circle cx="1135.9" cy="200.4" r="2.05" fill="#000"/>
<circle cx="1151.2" cy="190.8" r="2.05" fill="#0091ff"/>
<circle cx="1145.5" cy="229.0" r="2.05" fill="#000"/>
<circle cx="1140.3" cy="235.8" r="2.05" fill="#0091ff"/>
<circle cx="1158.9" cy="581.7" r="2.05" fill="#000"/>
<circle cx="1128.2" cy="155.4" r="2.05" fill="#0091ff"/>
<circle cx="1145.2" cy="186.7" r="2.05" fill="#0091ff"/>
<circle cx="1103.5" cy="51.9" r="2.05" fill="#0091ff"/>
<circle cx="1139.6" cy="77.8" r="2.05" fill="#000"/>
<circle cx="1137.2" cy="87.3" r="2.05" fill="#000"/>
<circle cx="1135.4" cy="139.1" r="2.05" fill="#000"/>
<circle cx="1183.9" cy="689.3" r="2.05" fill="#0091ff"/>
<circle cx="1166.4" cy="720.7" r="2.05" fill="#0091ff"/>
<circle cx="1148.3" cy="288.9" r="2.05" fill="#000"/>
<circle cx="1140.3" cy="61.4" r="2.05" fill="#000"/>
<circle cx="1159.1" cy="430.5" r="2.05" fill="#0091ff"/>
<circle cx="1163.2" cy="613.1" r="2.05" fill="#000"/>
<circle cx="1165.3" cy="792.8" r="2.05" fill="#000"/>
<circle cx="1145.5" cy="171.8" r="2.05" fill="#000"/>
<circle cx="1142.0" cy="231.7" r="2.05" fill="#000"/>
<circle cx="1154.6" cy="333.8" r="2.05" fill="#0091ff"/>
<circle cx="1161.9" cy="595.3" r="2.05" fill="#0091ff"/>
<circle cx="1169.1" cy="625.3" r="2.05" fill="#000"/>
<circle cx="1159.6" cy="512.3" r="2.05" fill="#0091ff"/>
<circle cx="1159.3" cy="719.3" r="2.05" fill="#0091ff"/>
<circle cx="1144.4" cy="234.4" r="2.05" fill="#000"/>
<circle cx="1137.4" cy="170.4" r="2.05" fill="#0091ff"/>
<circle cx="1144.3" cy="173.1" r="2.05" fill="#000"/>
<circle cx="1134.7" cy="73.7" r="2.05" fill="#0091ff"/>
<circle cx="1144.4" cy="151.3" r="2.05" fill="#0091ff"/>
<circle cx="1180.7" cy="745.2" r="2.05" fill="#000"/>
<circle cx="1159.0" cy="589.9" r="2.05" fill="#000"/>
<circle cx="1160.4" cy="388.3" r="2.05" fill="#000"/>
<circle cx="1170.0" cy="604.9" r="2.05" fill="#0091ff"/>
<circle cx="1152.4" cy="174.5" r="2.05" fill="#000"/>
<circle cx="1150.9" cy="238.5" r="2.05" fill="#0091ff"/>
<circle cx="1180.9" cy="737.0" r="2.05" fill="#000"/>
<circle cx="1168.5" cy="735.6" r="2.05" fill="#0091ff"/>
<circle cx="1159.3" cy="554.5" r="2.05" fill="#000"/>
<circle cx="1152.0" cy="179.9" r="2.05" fill="#000"/>
<circle cx="1131.6" cy="125.5" r="2.05" fill="#0091ff"/>
<circle cx="1147.2" cy="158.1" r="2.05" fill="#000"/>
<circle cx="1131.5" cy="62.8" r="2.05" fill="#0091ff"/>
<circle cx="1169.4" cy="681.2" r="2.05" fill="#000"/>
<circle cx="1165.8" cy="574.9" r="2.05" fill="#0091ff"/>
<circle cx="1148.7" cy="317.5" r="2.05" fill="#0091ff"/>
<circle cx="1143.5" cy="252.1" r="2.05" fill="#000"/>
<circle cx="1148.8" cy="253.5" r="2.05" fill="#000"/>
<circle cx="1162.8" cy="630.8" r="2.05" fill="#000"/>
<circle cx="1164.9" cy="508.2" r="2.05" fill="#000"/>
<circle cx="1165.8" cy="652.6" r="2.05" fill="#0091ff"/>
<circle cx="1152.5" cy="223.5" r="2.05" fill="#0091ff"/>
<circle cx="1171.9" cy="715.2" r="2.05" fill="#0091ff"/>
<circle cx="1174.6" cy="660.7" r="2.05" fill="#000"/>
<circle cx="1114.9" cy="64.2" r="2.05" fill="#000"/>
<circle cx="1166.7" cy="653.9" r="2.05" fill="#000"/>
<circle cx="1161.8" cy="757.4" r="2.05" fill="#000"/>
<circle cx="1128.4" cy="43.7" r="2.05" fill="#0091ff"/>
<circle cx="1148.8" cy="204.5" r="2.05" fill="#000"/>
<circle cx="1164.1" cy="501.4" r="2.05" fill="#000"/>
<circle cx="1158.1" cy="412.8" r="2.05" fill="#0091ff"/>
<circle cx="1186.0" cy="781.9" r="2.05" fill="#000"/>
<circle cx="1176.9" cy="630.8" r="2.05" fill="#0091ff"/>
<circle cx="1172.1" cy="659.4" r="2.05" fill="#000"/>
<circle cx="1152.6" cy="214.0" r="2.05" fill="#0091ff"/>
<circle cx="1159.3" cy="510.9" r="2.05" fill="#000"/>
<circle cx="1154.3" cy="359.7" r="2.05" fill="#0091ff"/>
<circle cx="1161.8" cy="572.2" r="2.05" fill="#0091ff"/>
<circle cx="1166.3" cy="783.3" r="2.05" fill="#000"/>
<circle cx="1192.0" cy="760.2" r="2.05" fill="#000"/>
<circle cx="1109.9" cy="62.8" r="2.05" fill="#0091ff"/>
<circle cx="1168.9" cy="653.9" r="2.05" fill="#000"/>
<circle cx="1142.7" cy="162.2" r="2.05" fill="#0091ff"/>
<circle cx="1160.7" cy="483.7" r="2.05" fill="#000"/>
<circle cx="1133.6" cy="152.7" r="2.05" fill="#000"/>
<circle cx="1150.2" cy="273.9" r="2.05" fill="#000"/>
<circle cx="1161.9" cy="561.3" r="2.05" fill="#0091ff"/>
<circle cx="1172.0" cy="764.2" r="2.05" fill="#000"/>
<circle cx="1153.4" cy="294.3" r="2.05" fill="#000"/>
<circle cx="1158.6" cy="629.4" r="2.05" fill="#0091ff"/>
<circle cx="1162.4" cy="664.8" r="2.05" fill="#0091ff"/>
<circle cx="1165.8" cy="444.2" r="2.05" fill="#0091ff"/>
<circle cx="1149.4" cy="219.4" r="2.05" fill="#000"/>
<circle cx="1144.0" cy="272.6" r="2.05" fill="#000"/>
<circle cx="1158.3" cy="715.2" r="2.05" fill="#000"/>
<circle cx="1151.9" cy="152.7" r="2.05" fill="#000"/>
<circle cx="1159.4" cy="423.7" r="2.05" fill="#000"/>
<circle cx="1159.3" cy="395.1" r="2.05" fill="#000"/>
<circle cx="1159.5" cy="471.4" r="2.05" fill="#000"/>
<circle cx="1153.6" cy="363.8" r="2.05" fill="#0091ff"/>
<circle cx="1151.8" cy="283.4" r="2.05" fill="#0091ff"/>
<circle cx="1177.5" cy="647.1" r="2.05" fill="#000"/>
<circle cx="1158.4" cy="472.8" r="2.05" fill="#0091ff"/>
<circle cx="1184.7" cy="787.4" r="2.05" fill="#0091ff"/>
<circle cx="1165.5" cy="487.8" r="2.05" fill="#0091ff"/>
<circle cx="1150.6" cy="352.9" r="2.05" fill="#000"/>
<circle cx="1153.7" cy="294.3" r="2.05" fill="#000"/>
<circle cx="1160.1" cy="418.3" r="2.05" fill="#0091ff"/>
<circle cx="1158.1" cy="494.6" r="2.05" fill="#000"/>
<circle cx="1179.3" cy="713.8" r="2.05" fill="#000"/>
<circle cx="1152.9" cy="314.8" r="2.05" fill="#000"/>
<circle cx="1146.1" cy="208.5" r="2.05" fill="#000"/>
<circle cx="1161.7" cy="429.2" r="2.05" fill="#000"/>
<circle cx="1150.6" cy="346.1" r="2.05" fill="#0091ff"/>
<circle cx="1166.4" cy="589.9" r="2.05" fill="#0091ff"/>
<circle cx="1159.4" cy="408.8" r="2.05" fill="#0091ff"/>
<circle cx="1135.6" cy="144.5" r="2.05" fill="#0091ff"/>
<circle cx="1159.8" cy="500.0" r="2.05" fill="#000"/>
<circle cx="1154.9" cy="377.4" r="2.05" fill="#000"/>
<circle cx="1165.2" cy="651.2" r="2.05" fill="#0091ff"/>
<circle cx="1136.2" cy="174.5" r="2.05" fill="#000"/>
<circle cx="1164.8" cy="716.6" r="2.05" fill="#0091ff"/>
<circle cx="1143.6" cy="212.6" r="2.05" fill="#000"/>
<circle cx="1160.4" cy="505.5" r="2.05" fill="#0091ff"/>
<circle cx="1152.1" cy="227.6" r="2.05" fill="#000"/>
<circle cx="1164.8" cy="668.9" r="2.05" fill="#000"/>
<circle cx="1163.3" cy="547.7" r="2.05" fill="#0091ff"/>
<circle cx="1151.2" cy="105.0" r="2.05" fill="#000"/>
<circle cx="1158.1" cy="527.2" r="2.05" fill="#000"/>
<circle cx="1173.7" cy="599.4" r="2.05" fill="#000"/>
<circle cx="1151.5" cy="322.9" r="2.05" fill="#000"/>
<circle cx="1146.3" cy="199.0" r="2.05" fill="#000"/>
<circle cx="1147.7" cy="302.5" r="2.05" fill="#0091ff"/>
<circle cx="1122.9" cy="46.5" r="2.05" fill="#0091ff"/>
<circle cx="1159.7" cy="501.4" r="2.05" fill="#000"/>
<circle cx="1171.1" cy="648.5" r="2.05" fill="#0091ff"/>
<circle cx="1143.3" cy="257.6" r="2.05" fill="#0091ff"/>
<circle cx="1148.7" cy="233.1" r="2.05" fill="#000"/>
<circle cx="1175.3" cy="645.7" r="2.05" fill="#000"/>
<circle cx="1138.9" cy="117.3" r="2.05" fill="#0091ff"/>
<circle cx="1160.8" cy="656.6" r="2.05" fill="#000"/>
<circle cx="1284.4" cy="783.0" r="2.05" fill="#000"/>
<circle cx="1158.0" cy="688.0" r="2.05" fill="#000"/>
<circle cx="1141.0" cy="144.5" r="2.05" fill="#0091ff"/>
<circle cx="1160.9" cy="742.4" r="2.05" fill="#000"/>
<circle cx="1154.1" cy="305.2" r="2.05" fill="#0091ff"/>
<circle cx="1168.6" cy="580.4" r="2.05" fill="#000"/>
<circle cx="1122.6" cy="87.3" r="2.05" fill="#0091ff"/>
<circle cx="1144.3" cy="154.1" r="2.05" fill="#000"/>
<circle cx="1140.3" cy="100.9" r="2.05" fill="#000"/>
<circle cx="1170.1" cy="633.5" r="2.05" fill="#000"/>
<circle cx="1173.8" cy="648.5" r="2.05" fill="#000"/>
<circle cx="1158.9" cy="410.1" r="2.05" fill="#000"/>
<circle cx="1163.1" cy="584.5" r="2.05" fill="#000"/>
<circle cx="1171.3" cy="602.2" r="2.05" fill="#000"/>
<circle cx="1169.5" cy="615.8" r="2.05" fill="#000"/>
<circle cx="1169.8" cy="637.6" r="2.05" fill="#000"/>
<circle cx="1151.2" cy="152.7" r="2.05" fill="#0091ff"/>
<circle cx="1163.7" cy="535.4" r="2.05" fill="#000"/>
<circle cx="1153.0" cy="258.9" r="2.05" fill="#000"/>
<circle cx="1134.1" cy="46.5" r="2.05" fill="#000"/>
<circle cx="1208.6" cy="773.8" r="2.05" fill="#000"/>
<circle cx="1158.4" cy="471.4" r="2.05" fill="#000"/>
<circle cx="1150.4" cy="302.5" r="2.05" fill="#0091ff"/>
<circle cx="1163.9" cy="520.4" r="2.05" fill="#000"/>
<circle cx="1237.3" cy="788.9" r="2.05" fill="#0091ff"/>
<circle cx="1162.3" cy="438.7" r="2.05" fill="#000"/>
<circle cx="1162.1" cy="624.0" r="2.05" fill="#000"/>
<circle cx="1159.7" cy="508.2" r="2.05" fill="#000"/>
<circle cx="1158.9" cy="411.5" r="2.05" fill="#000"/>
<circle cx="1158.6" cy="569.5" r="2.05" fill="#000"/>
<circle cx="1154.9" cy="367.9" r="2.05" fill="#000"/>
<circle cx="1166.3" cy="478.2" r="2.05" fill="#000"/>
<circle cx="1160.2" cy="561.3" r="2.05" fill="#0091ff"/>
<circle cx="1151.3" cy="290.3" r="2.05" fill="#0091ff"/>
<circle cx="1170.2" cy="595.3" r="2.05" fill="#000"/>
<circle cx="1191.6" cy="742.4" r="2.05" fill="#000"/>
<circle cx="1160.4" cy="617.1" r="2.05" fill="#000"/>
<circle cx="1161.7" cy="502.7" r="2.05" fill="#000"/>
<circle cx="1161.6" cy="715.2" r="2.05" fill="#0091ff"/>
<circle cx="1162.4" cy="643.0" r="2.05" fill="#000"/>
<circle cx="1161.2" cy="422.4" r="2.05" fill="#000"/>
<circle cx="1167.9" cy="690.7" r="2.05" fill="#000"/>
<circle cx="1169.7" cy="648.5" r="2.05" fill="#000"/>
<circle cx="1152.5" cy="344.7" r="2.05" fill="#000"/>
<circle cx="1161.6" cy="400.6" r="2.05" fill="#000"/>
<circle cx="1163.7" cy="579.0" r="2.05" fill="#000"/>
<circle cx="1163.6" cy="433.3" r="2.05" fill="#0091ff"/>
<circle cx="1135.2" cy="148.6" r="2.05" fill="#000"/>
<circle cx="1160.8" cy="445.5" r="2.05" fill="#000"/>
<circle cx="1211.5" cy="794.2" r="2.05" fill="#000"/>
<circle cx="1160.2" cy="509.5" r="2.05" fill="#000"/>
<circle cx="1160.8" cy="479.6" r="2.05" fill="#000"/>
<circle cx="1153.3" cy="297.1" r="2.05" fill="#000"/>
<circle cx="1161.7" cy="681.2" r="2.05" fill="#000"/>
<circle cx="1159.3" cy="630.8" r="2.05" fill="#000"/>
<circle cx="1166.7" cy="653.9" r="2.05" fill="#0091ff"/>
<circle cx="1149.8" cy="111.8" r="2.05" fill="#0091ff"/>
<circle cx="1158.7" cy="508.2" r="2.05" fill="#000"/>
<circle cx="1173.8" cy="592.6" r="2.05" fill="#000"/>
<circle cx="1161.4" cy="692.1" r="2.05" fill="#0091ff"/>
<circle cx="1158.7" cy="794.2" r="2.05" fill="#000"/>
<circle cx="1152.5" cy="309.3" r="2.05" fill="#0091ff"/>
<circle cx="1151.1" cy="363.8" r="2.05" fill="#000"/>
<circle cx="1123.3" cy="56.0" r="2.05" fill="#0091ff"/>
<circle cx="1175.0" cy="716.6" r="2.05" fill="#0091ff"/>
<circle cx="1137.7" cy="49.2" r="2.05" fill="#000"/>
<circle cx="1153.1" cy="344.7" r="2.05" fill="#000"/>
<circle cx="1162.1" cy="692.1" r="2.05" fill="#000"/>
<circle cx="1145.5" cy="204.5" r="2.05" fill="#000"/>
<circle cx="1163.9" cy="455.1" r="2.05" fill="#000"/>
<circle cx="1169.8" cy="568.1" r="2.05" fill="#000"/>
<circle cx="1161.7" cy="640.3" r="2.05" fill="#000"/>
<circle cx="1158.1" cy="418.3" r="2.05" fill="#0091ff"/>
<circle cx="1161.4" cy="655.3" r="2.05" fill="#000"/>
<circle cx="1159.7" cy="385.6" r="2.05" fill="#000"/>
<circle cx="1163.7" cy="675.7" r="2.05" fill="#000"/>
<circle cx="1145.8" cy="100.9" r="2.05" fill="#000"/>
<circle cx="1179.7" cy="707.0" r="2.05" fill="#0091ff"/>
<circle cx="1158.6" cy="489.1" r="2.05" fill="#000"/>
<circle cx="1169.3" cy="728.8" r="2.05" fill="#000"/>
<circle cx="1151.2" cy="263.0" r="2.05" fill="#000"/>
<circle cx="1170.7" cy="651.2" r="2.05" fill="#0091ff"/>
<circle cx="1171.3" cy="611.7" r="2.05" fill="#000"/>
<circle cx="1159.2" cy="559.9" r="2.05" fill="#000"/>
<circle cx="1162.4" cy="585.8" r="2.05" fill="#000"/>
<circle cx="1164.5" cy="482.3" r="2.05" fill="#0091ff"/>
<circle cx="1113.4" cy="79.1" r="2.05" fill="#0091ff"/>
<circle cx="1127.4" cy="115.9" r="2.05" fill="#0091ff"/>
<circle cx="1173.6" cy="666.2" r="2.05" fill="#000"/>
<circle cx="1143.5" cy="81.9" r="2.05" fill="#000"/>
<circle cx="1149.5" cy="340.7" r="2.05" fill="#000"/>
<circle cx="1164.0" cy="434.6" r="2.05" fill="#000"/>
<circle cx="1166.6" cy="628.0" r="2.05" fill="#0091ff"/>
<circle cx="1136.0" cy="158.1" r="2.05" fill="#000"/>
<circle cx="1161.6" cy="551.8" r="2.05" fill="#000"/>
<circle cx="1197.7" cy="768.3" r="2.05" fill="#000"/>
<circle cx="1151.9" cy="65.5" r="2.05" fill="#0091ff"/>
<circle cx="1180.7" cy="675.7" r="2.05" fill="#000"/>
<circle cx="1157.9" cy="440.1" r="2.05" fill="#000"/>
<circle cx="1162.1" cy="656.6" r="2.05" fill="#000"/>
<circle cx="1134.6" cy="39.7" r="2.05" fill="#000"/>
<circle cx="1150.1" cy="152.7" r="2.05" fill="#000"/>
<circle cx="1141.1" cy="132.3" r="2.05" fill="#000"/>
<circle cx="1164.2" cy="768.3" r="2.05" fill="#0091ff"/>
<circle cx="1160.2" cy="780.6" r="2.05" fill="#0091ff"/>
<circle cx="1134.0" cy="79.1" r="2.05" fill="#000"/>
<circle cx="1160.4" cy="557.2" r="2.05" fill="#000"/>
<circle cx="1166.9" cy="649.8" r="2.05" fill="#0091ff"/>
<circle cx="1160.1" cy="574.9" r="2.05" fill="#000"/>
<circle cx="1175.3" cy="681.2" r="2.05" fill="#0091ff"/>
<circle cx="1164.8" cy="427.8" r="2.05" fill="#0091ff"/>
<circle cx="1165.5" cy="711.1" r="2.05" fill="#0091ff"/>
<circle cx="1161.6" cy="611.7" r="2.05" fill="#000"/>
<circle cx="1158.9" cy="513.6" r="2.05" fill="#000"/>
<circle cx="1153.0" cy="365.2" r="2.05" fill="#0091ff"/>
<circle cx="1150.7" cy="125.5" r="2.05" fill="#000"/>
<circle cx="1166.4" cy="609.0" r="2.05" fill="#0091ff"/>
<circle cx="1172.2" cy="595.3" r="2.05" fill="#000"/>
<circle cx="1160.1" cy="557.2" r="2.05" fill="#0091ff"/>
<circle cx="1161.3" cy="434.6" r="2.05" fill="#0091ff"/>
<circle cx="1160.8" cy="495.9" r="2.05" fill="#000"/>
<circle cx="1166.7" cy="566.7" r="2.05" fill="#000"/>
<circle cx="1150.2" cy="357.0" r="2.05" fill="#0091ff"/>
<circle cx="1146.8" cy="269.8" r="2.05" fill="#000"/>
<circle cx="1135.6" cy="92.8" r="2.05" fill="#000"/>
<circle cx="1159.2" cy="464.6" r="2.05" fill="#0091ff"/>
<circle cx="1153.7" cy="328.4" r="2.05" fill="#000"/>
<circle cx="1146.6" cy="76.4" r="2.05" fill="#000"/>
<circle cx="1147.3" cy="148.6" r="2.05" fill="#0091ff"/>
<circle cx="1159.2" cy="399.2" r="2.05" fill="#000"/>
<circle cx="1141.5" cy="203.1" r="2.05" fill="#000"/>
<circle cx="1172.6" cy="663.4" r="2.05" fill="#000"/>
<circle cx="1178.2" cy="663.4" r="2.05" fill="#000"/>
<circle cx="1168.5" cy="603.5" r="2.05" fill="#0091ff"/>
<circle cx="1161.6" cy="430.5" r="2.05" fill="#0091ff"/>
<circle cx="1152.5" cy="314.8" r="2.05" fill="#000"/>
<circle cx="1135.7" cy="114.6" r="2.05" fill="#000"/>
<circle cx="1163.1" cy="530.0" r="2.05" fill="#0091ff"/>
<circle cx="1167.0" cy="500.0" r="2.05" fill="#000"/>
<circle cx="1162.3" cy="444.2" r="2.05" fill="#0091ff"/>
<circle cx="1163.0" cy="588.5" r="2.05" fill="#0091ff"/>
<circle cx="1153.3" cy="352.9" r="2.05" fill="#0091ff"/>
<circle cx="1135.5" cy="120.0" r="2.05" fill="#000"/>
<circle cx="1159.7" cy="512.3" r="2.05" fill="#0091ff"/>
<circle cx="1148.4" cy="223.5" r="2.05" fill="#0091ff"/>
<circle cx="1170.8" cy="693.4" r="2.05" fill="#0091ff"/>
<circle cx="1154.9" cy="380.2" r="2.05" fill="#000"/>
<circle cx="1161.2" cy="422.4" r="2.05" fill="#000"/>
<circle cx="1186.0" cy="781.9" r="2.05" fill="#000"/>
<circle cx="1153.5" cy="359.7" r="2.05" fill="#000"/>
<circle cx="1167.9" cy="606.2" r="2.05" fill="#000"/>
<circle cx="1167.6" cy="600.8" r="2.05" fill="#000"/>
<circle cx="1159.4" cy="404.7" r="2.05" fill="#000"/>
<circle cx="1160.1" cy="596.7" r="2.05" fill="#000"/>
<circle cx="1167.7" cy="555.9" r="2.05" fill="#000"/>
<circle cx="1150.4" cy="216.7" r="2.05" fill="#000"/>
<circle cx="1158.9" cy="498.6" r="2.05" fill="#000"/>
<circle cx="1158.9" cy="534.1" r="2.05" fill="#000"/>
<circle cx="1159.6" cy="416.9" r="2.05" fill="#000"/>
<circle cx="1142.3" cy="245.3" r="2.05" fill="#000"/>
<circle cx="1166.2" cy="483.7" r="2.05" fill="#000"/>
<circle cx="1145.8" cy="143.2" r="2.05" fill="#000"/>
<circle cx="1125.7" cy="103.7" r="2.05" fill="#000"/>
<circle cx="1172.4" cy="670.3" r="2.05" fill="#000"/>
<circle cx="1125.3" cy="60.1" r="2.05" fill="#0091ff"/>
<circle cx="1153.4" cy="342.0" r="2.05" fill="#000"/>
<circle cx="1165.6" cy="697.5" r="2.05" fill="#000"/>
<circle cx="1145.6" cy="241.2" r="2.05" fill="#000"/>
<circle cx="1164.0" cy="415.6" r="2.05" fill="#000"/>
<circle cx="1150.3" cy="279.4" r="2.05" fill="#000"/>
<circle cx="1162.1" cy="482.3" r="2.05" fill="#000"/>
<circle cx="1162.2" cy="765.6" r="2.05" fill="#000"/>
<circle cx="1149.9" cy="269.8" r="2.05" fill="#000"/>
<circle cx="1147.7" cy="239.9" r="2.05" fill="#000"/>
<circle cx="1152.3" cy="253.5" r="2.05" fill="#000"/>
<circle cx="1158.1" cy="701.6" r="2.05" fill="#000"/>
<circle cx="1166.4" cy="737.0" r="2.05" fill="#000"/>
<circle cx="1162.3" cy="530.0" r="2.05" fill="#000"/>
<circle cx="1161.4" cy="508.2" r="2.05" fill="#000"/>
<circle cx="1161.0" cy="504.1" r="2.05" fill="#000"/>
<circle cx="1168.0" cy="643.0" r="2.05" fill="#000"/>
<circle cx="1146.2" cy="283.4" r="2.05" fill="#0091ff"/>
<circle cx="1151.9" cy="298.4" r="2.05" fill="#000"/>
<circle cx="1142.9" cy="212.6" r="2.05" fill="#000"/>
<circle cx="1147.4" cy="246.7" r="2.05" fill="#0091ff"/>
<circle cx="1161.4" cy="587.2" r="2.05" fill="#0091ff"/>
<circle cx="1167.9" cy="604.9" r="2.05" fill="#0091ff"/>
<circle cx="1163.2" cy="564.0" r="2.05" fill="#000"/>
<circle cx="1196.3" cy="769.7" r="2.05" fill="#000"/>
<circle cx="1170.9" cy="591.3" r="2.05" fill="#000"/>
<circle cx="1146.9" cy="103.7" r="2.05" fill="#000"/>
<circle cx="1168.0" cy="607.6" r="2.05" fill="#0091ff"/>
<circle cx="1165.7" cy="539.5" r="2.05" fill="#000"/>
<circle cx="1146.8" cy="106.4" r="2.05" fill="#0091ff"/>
<circle cx="1145.1" cy="275.3" r="2.05" fill="#000"/>
<circle cx="1159.5" cy="694.8" r="2.05" fill="#000"/>
<circle cx="1182.4" cy="788.8" r="2.05" fill="#0091ff"/>
<circle cx="1158.8" cy="715.2" r="2.05" fill="#000"/>
<circle cx="1158.7" cy="554.5" r="2.05" fill="#000"/>
<circle cx="1159.0" cy="525.9" r="2.05" fill="#000"/>
<circle cx="1129.9" cy="66.9" r="2.05" fill="#000"/>
<circle cx="1159.7" cy="678.4" r="2.05" fill="#0091ff"/>
<circle cx="1178.3" cy="745.2" r="2.05" fill="#000"/>
<circle cx="1163.5" cy="404.7" r="2.05" fill="#000"/>
<circle cx="1186.4" cy="737.0" r="2.05" fill="#000"/>
<circle cx="1164.2" cy="591.3" r="2.05" fill="#0091ff"/>
<circle cx="1136.2" cy="60.1" r="2.05" fill="#0091ff"/>
<circle cx="1173.5" cy="570.8" r="2.05" fill="#000"/>
<circle cx="1126.4" cy="163.6" r="2.05" fill="#0091ff"/>
<circle cx="1145.3" cy="126.8" r="2.05" fill="#000"/>
<circle cx="1175.0" cy="727.5" r="2.05" fill="#000"/>
<circle cx="1167.3" cy="490.5" r="2.05" fill="#000"/>
<circle cx="1143.9" cy="233.1" r="2.05" fill="#000"/>
<circle cx="1163.0" cy="659.4" r="2.05" fill="#000"/>
<circle cx="1150.2" cy="282.1" r="2.05" fill="#000"/>
<circle cx="1149.6" cy="237.1" r="2.05" fill="#0091ff"/>
<circle cx="1140.9" cy="211.3" r="2.05" fill="#000"/>
<circle cx="1143.3" cy="61.4" r="2.05" fill="#0091ff"/>
<circle cx="1150.4" cy="320.2" r="2.05" fill="#0091ff"/>
<circle cx="1151.5" cy="186.7" r="2.05" fill="#000"/>
<circle cx="1166.6" cy="735.6" r="2.05" fill="#000"/>
<circle cx="1160.3" cy="408.8" r="2.05" fill="#0091ff"/>
<circle cx="1160.1" cy="587.2" r="2.05" fill="#0091ff"/>
<circle cx="1160.3" cy="401.9" r="2.05" fill="#000"/>
<circle cx="1147.3" cy="83.2" r="2.05" fill="#000"/>
<circle cx="1144.4" cy="56.0" r="2.05" fill="#000"/>
<circle cx="1153.3" cy="254.8" r="2.05" fill="#0091ff"/>
<circle cx="1154.0" cy="369.3" r="2.05" fill="#0091ff"/>
<circle cx="1171.5" cy="557.2" r="2.05" fill="#000"/>
<circle cx="1133.0" cy="94.1" r="2.05" fill="#000"/>
<circle cx="1161.3" cy="509.5" r="2.05" fill="#000"/>
<circle cx="1148.6" cy="192.2" r="2.05" fill="#000"/>
<circle cx="1204.6" cy="790.1" r="2.05" fill="#000"/>
<circle cx="1137.0" cy="148.6" r="2.05" fill="#0091ff"/>
<circle cx="1158.9" cy="437.4" r="2.05" fill="#000"/>
<circle cx="1153.0" cy="278.0" r="2.05" fill="#0091ff"/>
<circle cx="1149.5" cy="355.6" r="2.05" fill="#000"/>
<circle cx="1174.3" cy="709.8" r="2.05" fill="#0091ff"/>
<circle cx="1150.4" cy="53.3" r="2.05" fill="#0091ff"/>
<circle cx="1217.8" cy="786.0" r="2.05" fill="#000"/>
<circle cx="1179.5" cy="779.2" r="2.05" fill="#000"/>
<circle cx="1162.8" cy="549.0" r="2.05" fill="#000"/>
<circle cx="1153.3" cy="365.2" r="2.05" fill="#0091ff"/>
<circle cx="1161.2" cy="460.5" r="2.05" fill="#000"/>
<circle cx="1160.6" cy="651.2" r="2.05" fill="#0091ff"/>
<circle cx="1138.2" cy="113.2" r="2.05" fill="#000"/>
<circle cx="1145.9" cy="215.4" r="2.05" fill="#0091ff"/>
<circle cx="1148.7" cy="256.2" r="2.05" fill="#0091ff"/>
<circle cx="1153.9" cy="362.4" r="2.05" fill="#000"/>
<circle cx="1151.7" cy="337.9" r="2.05" fill="#000"/>
<circle cx="1167.3" cy="705.7" r="2.05" fill="#0091ff"/>
<circle cx="1160.9" cy="727.5" r="2.05" fill="#0091ff"/>
<circle cx="1146.2" cy="290.3" r="2.05" fill="#000"/>
<circle cx="1162.2" cy="408.8" r="2.05" fill="#0091ff"/>
<circle cx="1159.4" cy="486.4" r="2.05" fill="#0091ff"/>
<circle cx="1151.0" cy="348.8" r="2.05" fill="#000"/>
<circle cx="1164.7" cy="431.9" r="2.05" fill="#0091ff"/>
<circle cx="1153.5" cy="299.8" r="2.05" fill="#0091ff"/>
<circle cx="1144.8" cy="244.0" r="2.05" fill="#000"/>
<circle cx="1160.7" cy="731.5" r="2.05" fill="#000"/>
<circle cx="1153.9" cy="291.6" r="2.05" fill="#000"/>
<circle cx="1160.3" cy="470.0" r="2.05" fill="#000"/>
<circle cx="1166.7" cy="693.4" r="2.05" fill="#000"/>
<circle cx="1160.7" cy="389.7" r="2.05" fill="#000"/>
<circle cx="1149.0" cy="324.3" r="2.05" fill="#000"/>
<circle cx="1148.4" cy="282.1" r="2.05" fill="#000"/>
<circle cx="1182.7" cy="788.8" r="2.05" fill="#0091ff"/>
<circle cx="1166.0" cy="466.0" r="2.05" fill="#000"/>
<circle cx="1152.0" cy="132.3" r="2.05" fill="#000"/>
<circle cx="1142.1" cy="192.2" r="2.05" fill="#000"/>
<circle cx="1140.0" cy="201.7" r="2.05" fill="#000"/>
<circle cx="1163.0" cy="391.0" r="2.05" fill="#000"/>
<circle cx="1161.0" cy="536.8" r="2.05" fill="#0091ff"/>
<circle cx="1160.1" cy="429.2" r="2.05" fill="#0091ff"/>
<circle cx="1148.8" cy="181.3" r="2.05" fill="#0091ff"/>
<circle cx="1161.3" cy="391.0" r="2.05" fill="#0091ff"/>
<circle cx="1172.9" cy="783.3" r="2.05" fill="#000"/>
<circle cx="1141.9" cy="46.5" r="2.05" fill="#0091ff"/>
<circle cx="1122.5" cy="43.7" r="2.05" fill="#0091ff"/>
<circle cx="1164.1" cy="587.2" r="2.05" fill="#0091ff"/>
<circle cx="1168.9" cy="696.1" r="2.05" fill="#000"/>
<circle cx="1133.1" cy="184.0" r="2.05" fill="#0091ff"/>
<circle cx="1148.4" cy="275.3" r="2.05" fill="#0091ff"/>
<circle cx="1142.8" cy="76.4" r="2.05" fill="#0091ff"/>
<circle cx="1166.0" cy="671.6" r="2.05" fill="#000"/>
<circle cx="1143.9" cy="165.0" r="2.05" fill="#000"/>
<circle cx="1172.4" cy="572.2" r="2.05" fill="#000"/>
<circle cx="1160.1" cy="743.8" r="2.05" fill="#0091ff"/>
<circle cx="1149.1" cy="280.7" r="2.05" fill="#000"/>
<circle cx="1163.3" cy="675.7" r="2.05" fill="#000"/>
<circle cx="1152.7" cy="354.3" r="2.05" fill="#000"/>
<circle cx="1160.5" cy="621.2" r="2.05" fill="#0091ff"/>
<circle cx="1152.5" cy="328.4" r="2.05" fill="#000"/>
<circle cx="1164.1" cy="591.3" r="2.05" fill="#000"/>
<circle cx="1163.7" cy="723.4" r="2.05" fill="#0091ff"/>
<circle cx="1167.7" cy="546.3" r="2.05" fill="#000"/>
<circle cx="1146.4" cy="220.8" r="2.05" fill="#0091ff"/>
<circle cx="1161.6" cy="436.0" r="2.05" fill="#000"/>
<circle cx="1179.5" cy="775.1" r="2.05" fill="#000"/>
<circle cx="1161.3" cy="494.6" r="2.05" fill="#000"/>
<circle cx="1133.5" cy="128.2" r="2.05" fill="#000"/>
<circle cx="1172.7" cy="716.6" r="2.05" fill="#0091ff"/>
<circle cx="1173.3" cy="792.8" r="2.05" fill="#000"/>
<circle cx="1160.0" cy="457.8" r="2.05" fill="#0091ff"/>
<circle cx="1145.1" cy="147.2" r="2.05" fill="#000"/>
<circle cx="1147.7" cy="102.3" r="2.05" fill="#000"/>
<circle cx="1176.1" cy="641.7" r="2.05" fill="#0091ff"/>
<circle cx="1168.7" cy="663.4" r="2.05" fill="#000"/>
<circle cx="1179.5" cy="701.6" r="2.05" fill="#000"/>
<circle cx="1148.0" cy="105.0" r="2.05" fill="#000"/>
<circle cx="1165.2" cy="619.9" r="2.05" fill="#000"/>
<circle cx="1158.4" cy="749.3" r="2.05" fill="#000"/>
<circle cx="1154.0" cy="369.3" r="2.05" fill="#0091ff"/>
<circle cx="1186.3" cy="728.8" r="2.05" fill="#000"/>
<circle cx="1164.9" cy="644.4" r="2.05" fill="#000"/>
<circle cx="1152.8" cy="361.1" r="2.05" fill="#000"/>
<circle cx="1145.4" cy="105.0" r="2.05" fill="#000"/>
<circle cx="1145.6" cy="83.2" r="2.05" fill="#000"/>
<circle cx="1162.9" cy="524.5" r="2.05" fill="#0091ff"/>
<circle cx="1164.5" cy="777.9" r="2.05" fill="#000"/>
<circle cx="1152.7" cy="362.4" r="2.05" fill="#000"/>
<circle cx="1129.1" cy="115.9" r="2.05" fill="#000"/>
<circle cx="1154.4" cy="328.4" r="2.05" fill="#000"/>
<circle cx="1200.1" cy="783.3" r="2.05" fill="#000"/>
<circle cx="1165.7" cy="434.6" r="2.05" fill="#0091ff"/>
<circle cx="1162.1" cy="696.1" r="2.05" fill="#000"/>
<circle cx="1183.2" cy="784.7" r="2.05" fill="#000"/>
<circle cx="1136.9" cy="182.7" r="2.05" fill="#0091ff"/>
<circle cx="1185.9" cy="743.8" r="2.05" fill="#000"/>
<circle cx="1147.2" cy="284.8" r="2.05" fill="#000"/>
<circle cx="1139.5" cy="126.8" r="2.05" fill="#000"/>
<circle cx="1128.6" cy="50.5" r="2.05" fill="#000"/>
<circle cx="1150.7" cy="276.6" r="2.05" fill="#000"/>
<circle cx="1138.9" cy="39.7" r="2.05" fill="#000"/>
<circle cx="1151.2" cy="178.6" r="2.05" fill="#0091ff"/>
<circle cx="1144.7" cy="273.9" r="2.05" fill="#000"/>
<circle cx="1150.6" cy="336.6" r="2.05" fill="#0091ff"/>
<circle cx="1073.7" cy="39.0" r="2.05" fill="#000"/>
<circle cx="1172.2" cy="648.5" r="2.05" fill="#000"/>
<circle cx="1171.0" cy="732.9" r="2.05" fill="#000"/>
<circle cx="1166.8" cy="633.5" r="2.05" fill="#000"/>
<circle cx="1161.6" cy="395.1" r="2.05" fill="#0091ff"/>
<circle cx="1135.6" cy="77.8" r="2.05" fill="#0091ff"/>
<circle cx="1160.5" cy="474.1" r="2.05" fill="#000"/>
<circle cx="1121.6" cy="62.8" r="2.05" fill="#000"/>
<circle cx="1172.2" cy="570.8" r="2.05" fill="#0091ff"/>
<circle cx="1152.1" cy="144.5" r="2.05" fill="#0091ff"/>
<circle cx="1138.8" cy="113.2" r="2.05" fill="#0091ff"/>
<circle cx="1081.3" cy="38.3" r="2.05" fill="#000"/>
<circle cx="1159.5" cy="781.9" r="2.05" fill="#0091ff"/>
<circle cx="1127.7" cy="118.6" r="2.05" fill="#000"/>
<circle cx="1153.7" cy="290.3" r="2.05" fill="#0091ff"/>
<circle cx="1142.7" cy="106.4" r="2.05" fill="#000"/>
<circle cx="1141.8" cy="185.4" r="2.05" fill="#000"/>
<circle cx="1158.1" cy="393.8" r="2.05" fill="#0091ff"/>
<circle cx="1170.0" cy="786.0" r="2.05" fill="#0091ff"/>
<circle cx="1151.8" cy="342.0" r="2.05" fill="#000"/>
<circle cx="1117.9" cy="42.4" r="2.05" fill="#0091ff"/>
<circle cx="1173.1" cy="602.2" r="2.05" fill="#000"/>
<circle cx="1159.8" cy="516.4" r="2.05" fill="#000"/>
<circle cx="1163.4" cy="448.3" r="2.05" fill="#000"/>
<circle cx="1175.1" cy="607.6" r="2.05" fill="#000"/>
<circle cx="1119.0" cy="69.6" r="2.05" fill="#000"/>
<circle cx="1116.4" cy="38.3" r="2.05" fill="#0091ff"/>
<circle cx="1160.1" cy="455.1" r="2.05" fill="#000"/>
<circle cx="1144.1" cy="220.8" r="2.05" fill="#0091ff"/>
<circle cx="1151.3" cy="151.3" r="2.05" fill="#0091ff"/>
<circle cx="1148.5" cy="320.2" r="2.05" fill="#0091ff"/>
<circle cx="1159.8" cy="656.6" r="2.05" fill="#000"/>
<circle cx="1163.2" cy="762.9" r="2.05" fill="#000"/>
<circle cx="1167.4" cy="619.9" r="2.05" fill="#0091ff"/>
<circle cx="1163.6" cy="700.2" r="2.05" fill="#0091ff"/>
<circle cx="1158.2" cy="451.0" r="2.05" fill="#000"/>
<circle cx="1186.9" cy="726.1" r="2.05" fill="#000"/>
<circle cx="1175.3" cy="658.0" r="2.05" fill="#0091ff"/>
<circle cx="1136.2" cy="224.9" r="2.05" fill="#0091ff"/>
<circle cx="1170.1" cy="688.0" r="2.05" fill="#000"/>
<circle cx="1163.2" cy="419.7" r="2.05" fill="#000"/>
<circle cx="1170.2" cy="535.4" r="2.05" fill="#000"/>
<circle cx="1149.9" cy="147.2" r="2.05" fill="#0091ff"/>
<circle cx="1137.1" cy="167.7" r="2.05" fill="#000"/>
<circle cx="1153.6" cy="336.6" r="2.05" fill="#000"/>
<circle cx="1159.3" cy="551.8" r="2.05" fill="#000"/>
<circle cx="1158.6" cy="757.4" r="2.05" fill="#000"/>
<circle cx="1163.0" cy="426.5" r="2.05" fill="#000"/>
<circle cx="1140.8" cy="87.3" r="2.05" fill="#0091ff"/>
<circle cx="1145.1" cy="113.2" r="2.05" fill="#000"/>
<circle cx="1162.2" cy="707.0" r="2.05" fill="#000"/>
<circle cx="1154.0" cy="378.8" r="2.05" fill="#000"/>
<circle cx="1159.5" cy="407.4" r="2.05" fill="#000"/>
<circle cx="1157.9" cy="425.1" r="2.05" fill="#000"/>
<circle cx="1182.6" cy="700.2" r="2.05" fill="#000"/>
<circle cx="1146.5" cy="294.3" r="2.05" fill="#000"/>
<circle cx="1145.0" cy="299.8" r="2.05" fill="#000"/>
<circle cx="1169.9" cy="580.4" r="2.05" fill="#000"/>
<circle cx="1159.0" cy="478.2" r="2.05" fill="#000"/>
<circle cx="1151.7" cy="273.9" r="2.05" fill="#000"/>
<circle cx="1154.6" cy="343.4" r="2.05" fill="#000"/>
<circle cx="1151.7" cy="76.4" r="2.05" fill="#0091ff"/>
<circle cx="1136.3" cy="124.1" r="2.05" fill="#0091ff"/>
<circle cx="1148.9" cy="331.1" r="2.05" fill="#000"/>
<circle cx="1123.2" cy="86.0" r="2.05" fill="#000"/>
<circle cx="1159.2" cy="611.7" r="2.05" fill="#0091ff"/>
<circle cx="1153.6" cy="265.7" r="2.05" fill="#000"/>
<circle cx="1163.3" cy="645.7" r="2.05" fill="#000"/>
<circle cx="1157.9" cy="495.9" r="2.05" fill="#000"/>
<circle cx="1160.8" cy="720.7" r="2.05" fill="#0091ff"/>
<circle cx="1168.7" cy="599.4" r="2.05" fill="#0091ff"/>
<circle cx="1159.7" cy="399.2" r="2.05" fill="#000"/>
<circle cx="1128.8" cy="43.7" r="2.05" fill="#0091ff"/>
<circle cx="1140.7" cy="192.2" r="2.05" fill="#000"/>
<circle cx="1138.8" cy="95.5" r="2.05" fill="#0091ff"/>
<circle cx="1153.2" cy="197.6" r="2.05" fill="#000"/>
<circle cx="1161.7" cy="596.7" r="2.05" fill="#000"/>
<circle cx="1150.8" cy="348.8" r="2.05" fill="#0091ff"/>
<circle cx="1159.0" cy="433.3" r="2.05" fill="#000"/>
<circle cx="1142.8" cy="237.1" r="2.05" fill="#000"/>
<circle cx="1147.0" cy="321.6" r="2.05" fill="#0091ff"/>
<circle cx="1127.3" cy="143.2" r="2.05" fill="#0091ff"/>
<circle cx="1150.2" cy="324.3" r="2.05" fill="#000"/>
<circle cx="1160.0" cy="487.8" r="2.05" fill="#000"/>
<circle cx="1169.9" cy="722.0" r="2.05" fill="#0091ff"/>
<circle cx="1153.2" cy="275.3" r="2.05" fill="#000"/>
<circle cx="1146.4" cy="139.1" r="2.05" fill="#000"/>
<circle cx="1126.2" cy="148.6" r="2.05" fill="#0091ff"/>
<circle cx="1166.3" cy="726.1" r="2.05" fill="#000"/>
<circle cx="1153.7" cy="348.8" r="2.05" fill="#000"/>
<circle cx="1150.4" cy="66.9" r="2.05" fill="#000"/>
<circle cx="1164.5" cy="550.4" r="2.05" fill="#000"/>
<circle cx="1165.1" cy="663.4" r="2.05" fill="#000"/>
<circle cx="1160.1" cy="596.7" r="2.05" fill="#000"/>
<circle cx="1165.2" cy="709.8" r="2.05" fill="#0091ff"/>
<circle cx="1150.2" cy="260.3" r="2.05" fill="#0091ff"/>
<circle cx="1197.5" cy="790.1" r="2.05" fill="#0091ff"/>
<circle cx="1149.5" cy="321.6" r="2.05" fill="#0091ff"/>
<circle cx="1121.5" cy="60.1" r="2.05" fill="#0091ff"/>
<circle cx="1144.4" cy="186.7" r="2.05" fill="#000"/>
<circle cx="1158.1" cy="393.8" r="2.05" fill="#000"/>
<circle cx="1135.9" cy="155.4" r="2.05" fill="#000"/>
<circle cx="1143.7" cy="179.9" r="2.05" fill="#0091ff"/>
<circle cx="1158.5" cy="399.2" r="2.05" fill="#000"/>
<circle cx="1146.9" cy="280.7" r="2.05" fill="#0091ff"/>
<circle cx="1174.9" cy="660.7" r="2.05" fill="#000"/>
<circle cx="1130.8" cy="90.0" r="2.05" fill="#000"/>
<circle cx="1166.2" cy="603.5" r="2.05" fill="#000"/>
<circle cx="1142.2" cy="167.7" r="2.05" fill="#000"/>
<circle cx="1151.2" cy="358.4" r="2.05" fill="#000"/>
<circle cx="1160.4" cy="579.0" r="2.05" fill="#0091ff"/>
<circle cx="1145.3" cy="151.3" r="2.05" fill="#000"/>
<circle cx="1159.0" cy="659.4" r="2.05" fill="#000"/>
<circle cx="1143.9" cy="151.3" r="2.05" fill="#000"/>
<circle cx="1149.7" cy="320.2" r="2.05" fill="#000"/>
<circle cx="1144.7" cy="286.2" r="2.05" fill="#000"/>
<circle cx="1133.4" cy="111.8" r="2.05" fill="#0091ff"/>
<circle cx="1152.8" cy="249.4" r="2.05" fill="#000"/>
<circle cx="1170.0" cy="708.4" r="2.05" fill="#000"/>
<circle cx="1150.0" cy="309.3" r="2.05" fill="#0091ff"/>
<circle cx="1151.7" cy="283.4" r="2.05" fill="#000"/>
<circle cx="1151.6" cy="321.6" r="2.05" fill="#0091ff"/>
<circle cx="1140.1" cy="231.7" r="2.05" fill="#0091ff"/>
<circle cx="1164.8" cy="538.1" r="2.05" fill="#000"/>
<circle cx="1165.1" cy="638.9" r="2.05" fill="#0091ff"/>
<circle cx="1170.6" cy="581.7" r="2.05" fill="#0091ff"/>
<circle cx="1160.6" cy="581.7" r="2.05" fill="#000"/>
<circle cx="1160.8" cy="559.9" r="2.05" fill="#0091ff"/>
<circle cx="1147.7" cy="56.0" r="2.05" fill="#000"/>
<circle cx="1158.3" cy="641.7" r="2.05" fill="#0091ff"/>
<circle cx="1152.5" cy="239.9" r="2.05" fill="#000"/>
<circle cx="1149.1" cy="69.6" r="2.05" fill="#000"/>
<circle cx="1162.2" cy="504.1" r="2.05" fill="#000"/>
<circle cx="1151.6" cy="230.3" r="2.05" fill="#000"/>
<circle cx="1164.8" cy="472.8" r="2.05" fill="#000"/>
<circle cx="1148.6" cy="140.4" r="2.05" fill="#0091ff"/>
<circle cx="1160.9" cy="520.4" r="2.05" fill="#000"/>
<circle cx="1149.0" cy="230.3" r="2.05" fill="#0091ff"/>
<circle cx="1148.0" cy="302.5" r="2.05" fill="#0091ff"/>
<circle cx="1150.3" cy="244.0" r="2.05" fill="#000"/>
<circle cx="1159.7" cy="491.8" r="2.05" fill="#000"/>
<circle cx="1144.2" cy="45.1" r="2.05" fill="#0091ff"/>
<circle cx="1148.6" cy="244.0" r="2.05" fill="#000"/>
<circle cx="1144.3" cy="114.6" r="2.05" fill="#0091ff"/>
<circle cx="1170.7" cy="788.8" r="2.05" fill="#0091ff"/>
<circle cx="1161.1" cy="726.1" r="2.05" fill="#0091ff"/>
<circle cx="1141.4" cy="162.2" r="2.05" fill="#000"/>
<circle cx="1189.8" cy="739.7" r="2.05" fill="#000"/>
<circle cx="1154.0" cy="331.1" r="2.05" fill="#000"/>
<circle cx="1144.4" cy="147.2" r="2.05" fill="#0091ff"/>
<circle cx="1160.8" cy="557.2" r="2.05" fill="#0091ff"/>
<circle cx="1152.7" cy="374.7" r="2.05" fill="#000"/>
<circle cx="1151.6" cy="267.1" r="2.05" fill="#000"/>
<circle cx="1160.1" cy="399.2" r="2.05" fill="#000"/>
<circle cx="1158.8" cy="726.1" r="2.05" fill="#000"/>
<circle cx="1162.5" cy="549.0" r="2.05" fill="#000"/>
<circle cx="1150.3" cy="298.4" r="2.05" fill="#000"/>
<circle cx="1161.8" cy="619.9" r="2.05" fill="#000"/>
<circle cx="1153.4" cy="238.5" r="2.05" fill="#0091ff"/>
<circle cx="1151.3" cy="130.9" r="2.05" fill="#000"/>
<circle cx="1167.5" cy="550.4" r="2.05" fill="#000"/>
<circle cx="1147.9" cy="253.5" r="2.05" fill="#0091ff"/>
<circle cx="1179.2" cy="689.3" r="2.05" fill="#000"/>
<circle cx="1132.7" cy="135.0" r="2.05" fill="#000"/>
<circle cx="1158.7" cy="794.2" r="2.05" fill="#000"/>
<circle cx="1131.7" cy="68.3" r="2.05" fill="#000"/>
<circle cx="1160.6" cy="530.0" r="2.05" fill="#000"/>
<circle cx="1158.9" cy="410.1" r="2.05" fill="#0091ff"/>
<circle cx="1164.3" cy="489.1" r="2.05" fill="#0091ff"/>
<circle cx="1158.6" cy="467.3" r="2.05" fill="#000"/>
<circle cx="1165.0" cy="449.6" r="2.05" fill="#000"/>
<circle cx="1153.2" cy="295.7" r="2.05" fill="#0091ff"/>
<circle cx="1162.8" cy="387.0" r="2.05" fill="#000"/>
<circle cx="1142.5" cy="174.5" r="2.05" fill="#000"/>
<circle cx="1151.1" cy="222.2" r="2.05" fill="#0091ff"/>
<circle cx="1151.4" cy="80.5" r="2.05" fill="#000"/>
<circle cx="1148.2" cy="163.6" r="2.05" fill="#000"/>
<circle cx="1184.5" cy="775.1" r="2.05" fill="#000"/>
<circle cx="1125.5" cy="68.3" r="2.05" fill="#000"/>
<circle cx="1160.2" cy="698.9" r="2.05" fill="#000"/>
<circle cx="1151.1" cy="204.5" r="2.05" fill="#000"/>
<circle cx="1145.9" cy="102.3" r="2.05" fill="#0091ff"/>
<circle cx="1165.2" cy="712.5" r="2.05" fill="#0091ff"/>
<circle cx="1163.6" cy="640.3" r="2.05" fill="#000"/>
<circle cx="1164.4" cy="735.6" r="2.05" fill="#0091ff"/>
<circle cx="1161.1" cy="562.7" r="2.05" fill="#0091ff"/>
<circle cx="1154.3" cy="369.3" r="2.05" fill="#000"/>
<circle cx="1121.3" cy="38.3" r="2.05" fill="#0091ff"/>
<circle cx="1144.0" cy="248.0" r="2.05" fill="#0091ff"/>
<circle cx="1146.0" cy="86.0" r="2.05" fill="#0091ff"/>
<circle cx="1159.8" cy="587.2" r="2.05" fill="#0091ff"/>
<circle cx="1153.6" cy="372.0" r="2.05" fill="#000"/>
<circle cx="1164.9" cy="629.4" r="2.05" fill="#000"/>
<circle cx="1158.6" cy="453.7" r="2.05" fill="#000"/>
<circle cx="1151.4" cy="284.8" r="2.05" fill="#000"/>
<circle cx="1181.8" cy="705.7" r="2.05" fill="#0091ff"/>
<circle cx="1176.5" cy="625.3" r="2.05" fill="#0091ff"/>
<circle cx="1181.3" cy="756.1" r="2.05" fill="#000"/>
<circle cx="1133.6" cy="109.1" r="2.05" fill="#0091ff"/>
<circle cx="1158.1" cy="446.9" r="2.05" fill="#000"/>
<circle cx="1165.2" cy="545.0" r="2.05" fill="#0091ff"/>
<circle cx="1158.4" cy="618.5" r="2.05" fill="#000"/>
<circle cx="1153.7" cy="373.3" r="2.05" fill="#0091ff"/>
<circle cx="1169.0" cy="664.8" r="2.05" fill="#000"/>
<circle cx="1140.4" cy="107.8" r="2.05" fill="#000"/>
<circle cx="1148.2" cy="294.3" r="2.05" fill="#000"/>
<circle cx="1159.0" cy="539.5" r="2.05" fill="#000"/>
<circle cx="1152.0" cy="343.4" r="2.05" fill="#000"/>
<circle cx="1153.5" cy="362.4" r="2.05" fill="#000"/>
<circle cx="1127.0" cy="90.0" r="2.05" fill="#0091ff"/>
<circle cx="1138.5" cy="223.5" r="2.05" fill="#0091ff"/>
<circle cx="1158.8" cy="688.0" r="2.05" fill="#000"/>
<circle cx="1158.7" cy="399.2" r="2.05" fill="#0091ff"/>
<circle cx="1151.4" cy="159.5" r="2.05" fill="#000"/>
<circle cx="1158.4" cy="416.9" r="2.05" fill="#000"/>
<circle cx="1227.4" cy="790.0" r="2.05" fill="#000"/>
<circle cx="1148.3" cy="118.6" r="2.05" fill="#000"/>
<circle cx="1158.0" cy="547.7" r="2.05" fill="#000"/>
<circle cx="1154.1" cy="378.8" r="2.05" fill="#0091ff"/>
<circle cx="1158.6" cy="426.5" r="2.05" fill="#000"/>
<circle cx="1141.2" cy="185.4" r="2.05" fill="#0091ff"/>
<circle cx="1165.0" cy="701.6" r="2.05" fill="#0091ff"/>
<circle cx="1139.7" cy="244.0" r="2.05" fill="#000"/>
<circle cx="1164.8" cy="727.5" r="2.05" fill="#000"/>
<circle cx="1160.8" cy="539.5" r="2.05" fill="#000"/>
<circle cx="1164.8" cy="551.8" r="2.05" fill="#000"/>
<circle cx="1158.3" cy="614.4" r="2.05" fill="#000"/>
<circle cx="1151.1" cy="200.4" r="2.05" fill="#000"/>
<circle cx="1153.7" cy="372.0" r="2.05" fill="#000"/>
<circle cx="1149.1" cy="83.2" r="2.05" fill="#000"/>
<circle cx="1167.7" cy="628.0" r="2.05" fill="#000"/>
<circle cx="1139.5" cy="130.9" r="2.05" fill="#000"/>
<circle cx="1199.4" cy="767.0" r="2.05" fill="#0091ff"/>
<circle cx="1158.8" cy="478.2" r="2.05" fill="#000"/>
<circle cx="1170.6" cy="787.4" r="2.05" fill="#0091ff"/>
<circle cx="1165.9" cy="720.7" r="2.05" fill="#0091ff"/>
<circle cx="1142.9" cy="207.2" r="2.05" fill="#000"/>
<circle cx="1163.4" cy="719.3" r="2.05" fill="#000"/>
<circle cx="1160.8" cy="397.9" r="2.05" fill="#0091ff"/>
<circle cx="1152.3" cy="327.0" r="2.05" fill="#000"/>
<circle cx="1158.0" cy="382.9" r="2.05" fill="#000"/>
<circle cx="1159.9" cy="565.4" r="2.05" fill="#0091ff"/>
<circle cx="1147.2" cy="268.5" r="2.05" fill="#000"/>
<circle cx="1153.0" cy="369.3" r="2.05" fill="#0091ff"/>
<circle cx="1132.3" cy="167.7" r="2.05" fill="#000"/>
<circle cx="1154.8" cy="376.1" r="2.05" fill="#0091ff"/>
<circle cx="1154.5" cy="336.6" r="2.05" fill="#0091ff"/>
<circle cx="1150.4" cy="347.5" r="2.05" fill="#0091ff"/>
<circle cx="1143.4" cy="117.3" r="2.05" fill="#000"/>
<circle cx="1151.9" cy="193.6" r="2.05" fill="#000"/>
<circle cx="1150.1" cy="175.9" r="2.05" fill="#0091ff"/>
<circle cx="1171.3" cy="771.0" r="2.05" fill="#000"/>
<circle cx="1163.4" cy="505.5" r="2.05" fill="#000"/>
<circle cx="1148.1" cy="80.5" r="2.05" fill="#000"/>
<circle cx="1159.5" cy="731.5" r="2.05" fill="#0091ff"/>
<circle cx="1172.8" cy="784.7" r="2.05" fill="#000"/>
<circle cx="1150.6" cy="361.1" r="2.05" fill="#000"/>
<circle cx="1164.0" cy="705.7" r="2.05" fill="#000"/>
<circle cx="1167.5" cy="493.2" r="2.05" fill="#000"/>
<circle cx="1159.3" cy="588.5" r="2.05" fill="#0091ff"/>
<circle cx="1160.4" cy="545.0" r="2.05" fill="#000"/>
<circle cx="1151.8" cy="77.8" r="2.05" fill="#0091ff"/>
<circle cx="1158.1" cy="442.8" r="2.05" fill="#0091ff"/>
<circle cx="1152.2" cy="280.7" r="2.05" fill="#000"/>
<circle cx="1166.1" cy="479.6" r="2.05" fill="#000"/>
<circle cx="1169.6" cy="604.9" r="2.05" fill="#000"/>
<circle cx="1161.2" cy="579.0" r="2.05" fill="#000"/>
<circle cx="1153.8" cy="359.7" r="2.05" fill="#000"/>
<circle cx="1169.5" cy="794.2" r="2.05" fill="#0091ff"/>
<circle cx="1159.0" cy="453.7" r="2.05" fill="#0091ff"/>
<circle cx="1145.7" cy="84.6" r="2.05" fill="#000"/>
<circle cx="1153.9" cy="314.8" r="2.05" fill="#0091ff"/>
<circle cx="1162.2" cy="395.1" r="2.05" fill="#000"/>
<circle cx="1116.5" cy="49.2" r="2.05" fill="#000"/>
<circle cx="1158.4" cy="411.5" r="2.05" fill="#000"/>
<circle cx="1147.3" cy="256.2" r="2.05" fill="#000"/>
<circle cx="1180.1" cy="722.0" r="2.05" fill="#000"/>
<circle cx="1148.0" cy="156.8" r="2.05" fill="#000"/>
<circle cx="1162.5" cy="456.4" r="2.05" fill="#0091ff"/>
<circle cx="1169.8" cy="636.2" r="2.05" fill="#000"/>
<circle cx="1139.2" cy="94.1" r="2.05" fill="#000"/>
<circle cx="1160.8" cy="442.8" r="2.05" fill="#0091ff"/>
<circle cx="1179.2" cy="713.8" r="2.05" fill="#0091ff"/>
<circle cx="1160.2" cy="397.9" r="2.05" fill="#000"/>
<circle cx="1154.1" cy="363.8" r="2.05" fill="#0091ff"/>
<circle cx="1148.8" cy="254.8" r="2.05" fill="#000"/>
<circle cx="1160.8" cy="445.5" r="2.05" fill="#000"/>
<circle cx="1153.7" cy="246.7" r="2.05" fill="#000"/>
<circle cx="1151.3" cy="254.8" r="2.05" fill="#0091ff"/>
<circle cx="1159.2" cy="618.5" r="2.05" fill="#0091ff"/>
<circle cx="1214.0" cy="772.6" r="2.05" fill="#000"/>
<circle cx="1124.0" cy="96.9" r="2.05" fill="#000"/>
<circle cx="1144.7" cy="113.2" r="2.05" fill="#000"/>
<circle cx="1149.9" cy="248.0" r="2.05" fill="#000"/>
<circle cx="1169.8" cy="697.5" r="2.05" fill="#0091ff"/>
<circle cx="1164.8" cy="516.4" r="2.05" fill="#0091ff"/>
<circle cx="1153.3" cy="361.1" r="2.05" fill="#0091ff"/>
<circle cx="1178.3" cy="780.6" r="2.05" fill="#0091ff"/>
<circle cx="1169.8" cy="527.2" r="2.05" fill="#000"/>
<circle cx="1163.7" cy="576.3" r="2.05" fill="#000"/>
<circle cx="1158.4" cy="554.5" r="2.05" fill="#0091ff"/>
<circle cx="1174.4" cy="697.5" r="2.05" fill="#000"/>
<circle cx="1160.6" cy="480.9" r="2.05" fill="#0091ff"/>
<circle cx="1153.3" cy="325.7" r="2.05" fill="#000"/>
<circle cx="1159.7" cy="698.9" r="2.05" fill="#000"/>
<circle cx="1159.6" cy="628.0" r="2.05" fill="#000"/>
<circle cx="1133.9" cy="73.7" r="2.05" fill="#0091ff"/>
<circle cx="1171.6" cy="673.0" r="2.05" fill="#000"/>
<circle cx="1149.0" cy="196.3" r="2.05" fill="#0091ff"/>
<circle cx="1186.8" cy="735.6" r="2.05" fill="#000"/>
<circle cx="1139.6" cy="91.4" r="2.05" fill="#000"/>
<circle cx="1158.9" cy="381.5" r="2.05" fill="#000"/>
<circle cx="1158.8" cy="579.0" r="2.05" fill="#000"/>
<circle cx="1161.9" cy="779.2" r="2.05" fill="#000"/>
<circle cx="1147.4" cy="165.0" r="2.05" fill="#0091ff"/>
<circle cx="1148.9" cy="175.9" r="2.05" fill="#0091ff"/>
<circle cx="1166.1" cy="659.4" r="2.05" fill="#000"/>
<circle cx="1173.6" cy="737.0" r="2.05" fill="#0091ff"/>
<circle cx="1167.3" cy="521.8" r="2.05" fill="#0091ff"/>
<circle cx="1168.8" cy="506.8" r="2.05" fill="#0091ff"/>
<circle cx="1160.7" cy="750.6" r="2.05" fill="#000"/>
<circle cx="1181.9" cy="753.3" r="2.05" fill="#0091ff"/>
<circle cx="1159.4" cy="459.1" r="2.05" fill="#0091ff"/>
<circle cx="1144.6" cy="189.5" r="2.05" fill="#000"/>
<circle cx="1152.8" cy="376.1" r="2.05" fill="#0091ff"/>
<circle cx="1136.0" cy="100.9" r="2.05" fill="#0091ff"/>
<circle cx="1151.3" cy="103.7" r="2.05" fill="#000"/>
<circle cx="1160.9" cy="485.0" r="2.05" fill="#000"/>
<circle cx="1151.8" cy="125.5" r="2.05" fill="#0091ff"/>
<circle cx="1162.4" cy="455.1" r="2.05" fill="#0091ff"/>
<circle cx="1188.7" cy="780.6" r="2.05" fill="#000"/>
<circle cx="1161.3" cy="392.4" r="2.05" fill="#000"/>
<circle cx="1163.3" cy="564.0" r="2.05" fill="#000"/>
<circle cx="1145.9" cy="145.9" r="2.05" fill="#000"/>
<circle cx="1169.8" cy="602.2" r="2.05" fill="#0091ff"/>
<circle cx="1148.4" cy="337.9" r="2.05" fill="#000"/>
<circle cx="1146.5" cy="272.6" r="2.05" fill="#000"/>
<circle cx="1164.9" cy="662.1" r="2.05" fill="#000"/>
<circle cx="1152.1" cy="351.6" r="2.05" fill="#000"/>
<circle cx="1139.7" cy="71.0" r="2.05" fill="#0091ff"/>
<circle cx="1191.4" cy="776.5" r="2.05" fill="#0091ff"/>
<circle cx="1149.1" cy="312.1" r="2.05" fill="#000"/>
<circle cx="1161.2" cy="415.6" r="2.05" fill="#000"/>
<circle cx="1174.2" cy="666.2" r="2.05" fill="#000"/>
<circle cx="1150.4" cy="309.3" r="2.05" fill="#000"/>
<circle cx="1159.2" cy="419.7" r="2.05" fill="#000"/>
<circle cx="1154.7" cy="369.3" r="2.05" fill="#0091ff"/>
<circle cx="1159.7" cy="427.8" r="2.05" fill="#000"/>
<circle cx="1110.0" cy="54.6" r="2.05" fill="#0091ff"/>
<circle cx="1154.1" cy="331.1" r="2.05" fill="#0091ff"/>
<circle cx="1181.9" cy="722.0" r="2.05" fill="#0091ff"/>
<circle cx="1166.9" cy="705.7" r="2.05" fill="#000"/>
<circle cx="1160.8" cy="542.2" r="2.05" fill="#000"/>
<circle cx="1163.1" cy="753.3" r="2.05" fill="#0091ff"/>
<circle cx="1145.4" cy="165.0" r="2.05" fill="#000"/>
<circle cx="1160.6" cy="401.9" r="2.05" fill="#000"/>
<circle cx="1171.6" cy="679.8" r="2.05" fill="#0091ff"/>
<circle cx="1151.7" cy="310.7" r="2.05" fill="#000"/>
<circle cx="1181.5" cy="765.6" r="2.05" fill="#0091ff"/>
<circle cx="1163.3" cy="581.7" r="2.05" fill="#000"/>
<circle cx="1169.7" cy="711.1" r="2.05" fill="#0091ff"/>
<circle cx="1169.0" cy="564.0" r="2.05" fill="#000"/>
<circle cx="1160.1" cy="547.7" r="2.05" fill="#0091ff"/>
<circle cx="1153.3" cy="367.9" r="2.05" fill="#0091ff"/>
<circle cx="1154.3" cy="378.8" r="2.05" fill="#000"/>
<circle cx="1178.1" cy="697.5" r="2.05" fill="#000"/>
<circle cx="1148.4" cy="175.9" r="2.05" fill="#0091ff"/>
<circle cx="1147.0" cy="283.4" r="2.05" fill="#0091ff"/>
<circle cx="1158.7" cy="448.3" r="2.05" fill="#0091ff"/>
<circle cx="1150.3" cy="136.4" r="2.05" fill="#000"/>
<circle cx="1153.2" cy="267.1" r="2.05" fill="#000"/>
<circle cx="1166.9" cy="693.4" r="2.05" fill="#000"/>
<circle cx="1164.2" cy="678.4" r="2.05" fill="#0091ff"/>
<circle cx="1164.5" cy="540.9" r="2.05" fill="#000"/>
<circle cx="1146.9" cy="252.1" r="2.05" fill="#000"/>
<circle cx="1147.7" cy="139.1" r="2.05" fill="#000"/>
<circle cx="1154.1" cy="344.7" r="2.05" fill="#000"/>
<circle cx="1148.8" cy="122.7" r="2.05" fill="#000"/>
<circle cx="1158.6" cy="512.3" r="2.05" fill="#0091ff"/>
<circle cx="1141.4" cy="66.9" r="2.05" fill="#0091ff"/>
<circle cx="1142.8" cy="234.4" r="2.05" fill="#000"/>
<circle cx="1145.9" cy="81.9" r="2.05" fill="#000"/>
<circle cx="1159.4" cy="400.6" r="2.05" fill="#000"/>
<circle cx="1128.3" cy="47.8" r="2.05" fill="#0091ff"/>
<circle cx="1162.6" cy="561.3" r="2.05" fill="#0091ff"/>
<circle cx="1166.8" cy="656.6" r="2.05" fill="#0091ff"/>
<circle cx="1146.0" cy="233.1" r="2.05" fill="#000"/>
<circle cx="1151.9" cy="249.4" r="2.05" fill="#000"/>
<circle cx="1160.5" cy="414.2" r="2.05" fill="#000"/>
<circle cx="1126.5" cy="113.2" r="2.05" fill="#000"/>
<circle cx="1144.2" cy="156.8" r="2.05" fill="#0091ff"/>
<circle cx="1185.1" cy="742.4" r="2.05" fill="#000"/>
<circle cx="1159.7" cy="626.7" r="2.05" fill="#0091ff"/>
<circle cx="1160.3" cy="764.2" r="2.05" fill="#000"/>
<circle cx="1150.1" cy="218.1" r="2.05" fill="#000"/>
<circle cx="1170.8" cy="767.0" r="2.05" fill="#000"/>
<circle cx="1181.8" cy="791.5" r="2.05" fill="#000"/>
<circle cx="1150.7" cy="81.9" r="2.05" fill="#000"/>
<circle cx="1158.3" cy="407.4" r="2.05" fill="#000"/>
<circle cx="1158.6" cy="686.6" r="2.05" fill="#000"/>
<circle cx="1149.8" cy="184.0" r="2.05" fill="#0091ff"/>
<circle cx="1136.7" cy="128.2" r="2.05" fill="#000"/>
<circle cx="1164.5" cy="535.4" r="2.05" fill="#000"/>
<circle cx="1167.0" cy="760.2" r="2.05" fill="#0091ff"/>
<circle cx="1151.1" cy="331.1" r="2.05" fill="#0091ff"/>
<circle cx="1173.5" cy="719.3" r="2.05" fill="#0091ff"/>
<circle cx="1166.9" cy="573.6" r="2.05" fill="#0091ff"/>
<circle cx="1133.7" cy="58.7" r="2.05" fill="#0091ff"/>
<circle cx="1158.7" cy="449.6" r="2.05" fill="#000"/>
<circle cx="1160.9" cy="652.6" r="2.05" fill="#0091ff"/>
<circle cx="1151.2" cy="335.2" r="2.05" fill="#0091ff"/>
<circle cx="1140.7" cy="111.8" r="2.05" fill="#0091ff"/>
<circle cx="1149.0" cy="80.5" r="2.05" fill="#0091ff"/>
<circle cx="1154.0" cy="325.7" r="2.05" fill="#000"/>
<circle cx="1135.4" cy="98.2" r="2.05" fill="#000"/>
<circle cx="1158.9" cy="468.7" r="2.05" fill="#000"/>
<circle cx="1162.9" cy="565.4" r="2.05" fill="#000"/>
<circle cx="1167.9" cy="757.4" r="2.05" fill="#000"/>
<circle cx="1121.6" cy="110.5" r="2.05" fill="#000"/>
<circle cx="1123.5" cy="64.2" r="2.05" fill="#0091ff"/>
<circle cx="1151.0" cy="110.5" r="2.05" fill="#0091ff"/>
<circle cx="1159.1" cy="456.4" r="2.05" fill="#0091ff"/>
<circle cx="1160.4" cy="457.8" r="2.05" fill="#0091ff"/>
<circle cx="1165.7" cy="521.8" r="2.05" fill="#000"/>
<circle cx="1118.5" cy="69.6" r="2.05" fill="#000"/>
<circle cx="1161.3" cy="479.6" r="2.05" fill="#000"/>
<circle cx="1172.4" cy="683.9" r="2.05" fill="#000"/>
<circle cx="1161.6" cy="516.4" r="2.05" fill="#000"/>
<circle cx="1143.9" cy="227.6" r="2.05" fill="#0091ff"/>
<circle cx="1131.6" cy="135.0" r="2.05" fill="#0091ff"/>
<circle cx="1142.8" cy="117.3" r="2.05" fill="#000"/>
<circle cx="1151.3" cy="362.4" r="2.05" fill="#000"/>
<circle cx="1166.1" cy="705.7" r="2.05" fill="#000"/>
<circle cx="1152.9" cy="374.7" r="2.05" fill="#0091ff"/>
<circle cx="1154.4" cy="378.8" r="2.05" fill="#0091ff"/>
<circle cx="1136.0" cy="162.2" r="2.05" fill="#0091ff"/>
<circle cx="1162.4" cy="588.5" r="2.05" fill="#000"/>
<circle cx="1145.5" cy="124.1" r="2.05" fill="#0091ff"/>
<circle cx="1165.0" cy="521.8" r="2.05" fill="#000"/>
<circle cx="1166.5" cy="579.0" r="2.05" fill="#000"/>
<circle cx="1158.7" cy="391.0" r="2.05" fill="#000"/>
<circle cx="1150.0" cy="147.2" r="2.05" fill="#000"/>
<circle cx="1160.3" cy="449.6" r="2.05" fill="#000"/>
<circle cx="1160.9" cy="622.6" r="2.05" fill="#0091ff"/>
<circle cx="1158.8" cy="408.8" r="2.05" fill="#0091ff"/>
<circle cx="1172.3" cy="671.6" r="2.05" fill="#000"/>
<circle cx="1162.2" cy="551.8" r="2.05" fill="#0091ff"/>
<circle cx="1190.6" cy="768.3" r="2.05" fill="#000"/>
<circle cx="1170.2" cy="678.4" r="2.05" fill="#0091ff"/>
<circle cx="1161.8" cy="622.6" r="2.05" fill="#000"/>
<circle cx="1159.3" cy="494.6" r="2.05" fill="#0091ff"/>
<circle cx="1183.8" cy="760.2" r="2.05" fill="#0091ff"/>
<circle cx="1164.6" cy="692.1" r="2.05" fill="#0091ff"/>
<circle cx="1168.2" cy="613.1" r="2.05" fill="#000"/>
<circle cx="1146.5" cy="201.7" r="2.05" fill="#000"/>
<circle cx="1148.8" cy="181.3" r="2.05" fill="#000"/>
<circle cx="1164.2" cy="573.6" r="2.05" fill="#0091ff"/>
<circle cx="1168.5" cy="738.4" r="2.05" fill="#000"/>
<circle cx="1235.9" cy="782.2" r="2.05" fill="#000"/>
<circle cx="1166.6" cy="611.7" r="2.05" fill="#0091ff"/>
<circle cx="1167.8" cy="600.8" r="2.05" fill="#0091ff"/>
<circle cx="1146.5" cy="118.6" r="2.05" fill="#000"/>
<circle cx="1161.2" cy="577.6" r="2.05" fill="#000"/>
<circle cx="1167.7" cy="754.7" r="2.05" fill="#000"/>
<circle cx="1177.4" cy="772.4" r="2.05" fill="#000"/>
<circle cx="1152.8" cy="136.4" r="2.05" fill="#0091ff"/>
<circle cx="1150.7" cy="41.0" r="2.05" fill="#000"/>
<circle cx="1172.5" cy="592.6" r="2.05" fill="#000"/>
<circle cx="1151.2" cy="128.2" r="2.05" fill="#0091ff"/>
<circle cx="1163.0" cy="472.8" r="2.05" fill="#000"/>
<circle cx="1162.3" cy="570.8" r="2.05" fill="#0091ff"/>
<circle cx="1163.4" cy="542.2" r="2.05" fill="#000"/>
<circle cx="1179.4" cy="677.1" r="2.05" fill="#0091ff"/>
<circle cx="1151.7" cy="357.0" r="2.05" fill="#000"/>
<circle cx="1164.8" cy="555.9" r="2.05" fill="#0091ff"/>
<circle cx="1161.1" cy="712.5" r="2.05" fill="#000"/>
<circle cx="1152.9" cy="219.4" r="2.05" fill="#000"/>
<circle cx="1150.8" cy="312.1" r="2.05" fill="#0091ff"/>
<circle cx="1167.5" cy="758.8" r="2.05" fill="#000"/>
<circle cx="1177.9" cy="674.3" r="2.05" fill="#000"/>
<circle cx="1163.3" cy="524.5" r="2.05" fill="#000"/>
<circle cx="1188.5" cy="717.9" r="2.05" fill="#0091ff"/>
<circle cx="1164.3" cy="502.7" r="2.05" fill="#0091ff"/>
<circle cx="1161.6" cy="404.7" r="2.05" fill="#000"/>
<circle cx="1146.1" cy="87.3" r="2.05" fill="#000"/>
<circle cx="1158.5" cy="403.3" r="2.05" fill="#0091ff"/>
<circle cx="1166.6" cy="638.9" r="2.05" fill="#0091ff"/>
<circle cx="1178.2" cy="724.7" r="2.05" fill="#000"/>
<circle cx="1089.0" cy="50.0" r="2.05" fill="#0091ff"/>
<circle cx="1144.2" cy="212.6" r="2.05" fill="#000"/>
<circle cx="1164.8" cy="574.9" r="2.05" fill="#0091ff"/>
<circle cx="1159.3" cy="598.1" r="2.05" fill="#000"/>
<circle cx="1167.9" cy="603.5" r="2.05" fill="#0091ff"/>
<circle cx="1153.9" cy="358.4" r="2.05" fill="#000"/>
<circle cx="1140.1" cy="162.2" r="2.05" fill="#000"/>
<circle cx="1152.9" cy="182.7" r="2.05" fill="#0091ff"/>
<circle cx="1160.1" cy="467.3" r="2.05" fill="#000"/>
<circle cx="1161.2" cy="423.7" r="2.05" fill="#0091ff"/>
<circle cx="1149.3" cy="301.2" r="2.05" fill="#0091ff"/>
<circle cx="1153.3" cy="367.9" r="2.05" fill="#0091ff"/>
<circle cx="1143.5" cy="42.4" r="2.05" fill="#000"/>
<circle cx="1164.1" cy="480.9" r="2.05" fill="#000"/>
<circle cx="1145.9" cy="126.8" r="2.05" fill="#000"/>
<circle cx="1164.3" cy="448.3" r="2.05" fill="#000"/>
<circle cx="1165.4" cy="707.0" r="2.05" fill="#0091ff"/>
<circle cx="1153.0" cy="312.1" r="2.05" fill="#0091ff"/>
<circle cx="1136.0" cy="41.0" r="2.05" fill="#000"/>
<circle cx="1161.6" cy="460.5" r="2.05" fill="#000"/>
<circle cx="1159.9" cy="440.1" r="2.05" fill="#0091ff"/>
<circle cx="1160.4" cy="553.1" r="2.05" fill="#0091ff"/>
<circle cx="1175.8" cy="707.0" r="2.05" fill="#0091ff"/>
<circle cx="1147.7" cy="99.6" r="2.05" fill="#000"/>
<circle cx="1162.6" cy="403.3" r="2.05" fill="#000"/>
<circle cx="1165.0" cy="466.0" r="2.05" fill="#000"/>
<circle cx="1163.2" cy="487.8" r="2.05" fill="#000"/>
<circle cx="1168.8" cy="609.0" r="2.05" fill="#000"/>
<circle cx="1149.3" cy="327.0" r="2.05" fill="#0091ff"/>
<circle cx="1175.1" cy="694.8" r="2.05" fill="#000"/>
<circle cx="1143.6" cy="227.6" r="2.05" fill="#0091ff"/>
<circle cx="1127.5" cy="96.9" r="2.05" fill="#000"/>
<circle cx="1149.8" cy="279.4" r="2.05" fill="#000"/>
<circle cx="1158.0" cy="658.0" r="2.05" fill="#000"/>
<circle cx="1153.2" cy="347.5" r="2.05" fill="#0091ff"/>
<circle cx="1163.9" cy="471.4" r="2.05" fill="#000"/>
<circle cx="1174.0" cy="739.7" r="2.05" fill="#000"/>
<circle cx="1162.6" cy="448.3" r="2.05" fill="#000"/>
<circle cx="1158.4" cy="429.2" r="2.05" fill="#000"/>
<circle cx="1149.0" cy="91.4" r="2.05" fill="#000"/>
<circle cx="1137.9" cy="77.8" r="2.05" fill="#0091ff"/>
<circle cx="1141.8" cy="246.7" r="2.05" fill="#000"/>
<circle cx="1173.6" cy="599.4" r="2.05" fill="#0091ff"/>
<circle cx="1141.2" cy="143.2" r="2.05" fill="#000"/>
<circle cx="1154.0" cy="380.2" r="2.05" fill="#0091ff"/>
<circle cx="1257.0" cy="787.0" r="2.05" fill="#0091ff"/>
<circle cx="1153.6" cy="367.9" r="2.05" fill="#0091ff"/>
<circle cx="1266.0" cy="792.6" r="2.05" fill="#0091ff"/>
<circle cx="1151.1" cy="314.8" r="2.05" fill="#000"/>
<circle cx="1157.8" cy="773.8" r="2.05" fill="#0091ff"/>
<circle cx="1144.8" cy="205.8" r="2.05" fill="#000"/>
<circle cx="1148.7" cy="84.6" r="2.05" fill="#0091ff"/>
<circle cx="1158.3" cy="470.0" r="2.05" fill="#0091ff"/>
<circle cx="1166.8" cy="667.5" r="2.05" fill="#000"/>
<circle cx="1163.4" cy="446.9" r="2.05" fill="#000"/>
<circle cx="1158.6" cy="652.6" r="2.05" fill="#0091ff"/>
<circle cx="1159.3" cy="425.1" r="2.05" fill="#000"/>
<circle cx="1166.9" cy="756.1" r="2.05" fill="#000"/>
<circle cx="1144.6" cy="207.2" r="2.05" fill="#000"/>
<circle cx="1175.8" cy="677.1" r="2.05" fill="#000"/>
<circle cx="1165.9" cy="724.7" r="2.05" fill="#000"/>
<circle cx="1147.7" cy="269.8" r="2.05" fill="#000"/>
<circle cx="1169.3" cy="673.0" r="2.05" fill="#000"/>
<circle cx="1182.6" cy="791.5" r="2.05" fill="#000"/>
<circle cx="1177.7" cy="722.0" r="2.05" fill="#000"/>
<circle cx="1161.2" cy="515.0" r="2.05" fill="#0091ff"/>
<circle cx="1150.7" cy="361.1" r="2.05" fill="#000"/>
<circle cx="1170.4" cy="598.1" r="2.05" fill="#0091ff"/>
<circle cx="1149.3" cy="306.6" r="2.05" fill="#000"/>
<circle cx="1160.2" cy="455.1" r="2.05" fill="#000"/>
<circle cx="1128.4" cy="72.3" r="2.05" fill="#000"/>
<circle cx="1133.1" cy="66.9" r="2.05" fill="#000"/>
<circle cx="1165.9" cy="761.5" r="2.05" fill="#0091ff"/>
<circle cx="1160.4" cy="412.8" r="2.05" fill="#0091ff"/>
<circle cx="1195.7" cy="776.5" r="2.05" fill="#0091ff"/>
<circle cx="1148.5" cy="224.9" r="2.05" fill="#0091ff"/>
<circle cx="1169.0" cy="709.8" r="2.05" fill="#000"/>
<circle cx="1164.3" cy="520.4" r="2.05" fill="#000"/>
<circle cx="1142.2" cy="189.5" r="2.05" fill="#000"/>
<circle cx="1165.6" cy="659.4" r="2.05" fill="#000"/>
<circle cx="1133.1" cy="41.0" r="2.05" fill="#000"/>
<circle cx="1173.6" cy="618.5" r="2.05" fill="#000"/>
<circle cx="1185.6" cy="762.9" r="2.05" fill="#000"/>
<circle cx="1122.3" cy="113.2" r="2.05" fill="#000"/>
<circle cx="1129.9" cy="56.0" r="2.05" fill="#000"/>
<circle cx="1158.4" cy="730.2" r="2.05" fill="#0091ff"/>
<circle cx="1147.4" cy="305.2" r="2.05" fill="#0091ff"/>
<circle cx="1152.0" cy="286.2" r="2.05" fill="#0091ff"/>
<circle cx="1151.3" cy="256.2" r="2.05" fill="#0091ff"/>
<circle cx="1150.0" cy="65.5" r="2.05" fill="#000"/>
<circle cx="1163.0" cy="512.3" r="2.05" fill="#000"/>
<circle cx="1145.2" cy="57.4" r="2.05" fill="#0091ff"/>
<circle cx="1310.4" cy="793.6" r="2.05" fill="#000"/>
<circle cx="1178.8" cy="713.8" r="2.05" fill="#000"/>
<circle cx="1151.0" cy="290.3" r="2.05" fill="#000"/>
<circle cx="1161.2" cy="467.3" r="2.05" fill="#000"/>
<circle cx="1158.3" cy="381.5" r="2.05" fill="#0091ff"/>
<circle cx="1162.1" cy="570.8" r="2.05" fill="#000"/>
<circle cx="1147.9" cy="235.8" r="2.05" fill="#0091ff"/>
<circle cx="1152.2" cy="200.4" r="2.05" fill="#000"/>
<circle cx="1180.7" cy="660.7" r="2.05" fill="#000"/>
<circle cx="1149.4" cy="339.3" r="2.05" fill="#000"/>
<circle cx="1168.2" cy="549.0" r="2.05" fill="#000"/>
<circle cx="1161.2" cy="446.9" r="2.05" fill="#000"/>
<circle cx="1146.3" cy="280.7" r="2.05" fill="#000"/>
<circle cx="1158.3" cy="453.7" r="2.05" fill="#0091ff"/>
<circle cx="1169.6" cy="591.3" r="2.05" fill="#0091ff"/>
<circle cx="1166.2" cy="461.9" r="2.05" fill="#000"/>
<circle cx="1270.0" cy="791.0" r="2.05" fill="#000"/>
<circle cx="1161.4" cy="545.0" r="2.05" fill="#000"/>
<circle cx="1170.9" cy="754.7" r="2.05" fill="#000"/>
<circle cx="1171.8" cy="671.6" r="2.05" fill="#000"/>
<circle cx="1169.0" cy="603.5" r="2.05" fill="#000"/>
<circle cx="1113.4" cy="53.3" r="2.05" fill="#0091ff"/>
<circle cx="1150.2" cy="242.6" r="2.05" fill="#000"/>
<circle cx="1148.2" cy="95.5" r="2.05" fill="#000"/>
<circle cx="1141.2" cy="41.0" r="2.05" fill="#0091ff"/>
<circle cx="1148.9" cy="291.6" r="2.05" fill="#0091ff"/>
<circle cx="1136.2" cy="95.5" r="2.05" fill="#0091ff"/>
<circle cx="1181.1" cy="728.8" r="2.05" fill="#000"/>
<circle cx="1136.1" cy="121.4" r="2.05" fill="#0091ff"/>
<circle cx="1170.6" cy="749.3" r="2.05" fill="#0091ff"/>
<circle cx="1160.4" cy="403.3" r="2.05" fill="#000"/>
<circle cx="1159.9" cy="445.5" r="2.05" fill="#000"/>
<circle cx="1154.2" cy="355.6" r="2.05" fill="#000"/>
<circle cx="1163.2" cy="502.7" r="2.05" fill="#000"/>
<circle cx="1140.9" cy="141.8" r="2.05" fill="#000"/>
<circle cx="1162.2" cy="506.8" r="2.05" fill="#0091ff"/>
<circle cx="1145.8" cy="51.9" r="2.05" fill="#0091ff"/>
<circle cx="1160.4" cy="471.4" r="2.05" fill="#000"/>
<circle cx="1148.4" cy="88.7" r="2.05" fill="#000"/>
<circle cx="1139.3" cy="169.0" r="2.05" fill="#000"/>
<circle cx="1135.1" cy="165.0" r="2.05" fill="#0091ff"/>
<circle cx="1149.2" cy="61.4" r="2.05" fill="#0091ff"/>
<circle cx="1131.4" cy="177.2" r="2.05" fill="#000"/>
<circle cx="1143.3" cy="64.2" r="2.05" fill="#0091ff"/>
<circle cx="1160.7" cy="647.1" r="2.05" fill="#000"/>
<circle cx="1147.3" cy="139.1" r="2.05" fill="#000"/>
<circle cx="1135.5" cy="47.8" r="2.05" fill="#000"/>
<circle cx="1164.3" cy="495.9" r="2.05" fill="#000"/>
<circle cx="1161.9" cy="433.3" r="2.05" fill="#000"/>
<circle cx="1160.5" cy="382.9" r="2.05" fill="#000"/>
<circle cx="1148.6" cy="312.1" r="2.05" fill="#0091ff"/>
<circle cx="1135.3" cy="171.8" r="2.05" fill="#000"/>
<circle cx="1175.2" cy="730.2" r="2.05" fill="#000"/>
<circle cx="1161.5" cy="510.9" r="2.05" fill="#0091ff"/>
<circle cx="1161.9" cy="757.4" r="2.05" fill="#0091ff"/>
<circle cx="1150.6" cy="249.4" r="2.05" fill="#000"/>
<circle cx="1165.7" cy="756.1" r="2.05" fill="#000"/>
<circle cx="1147.7" cy="214.0" r="2.05" fill="#000"/>
<circle cx="1150.7" cy="308.0" r="2.05" fill="#0091ff"/>
<circle cx="1146.0" cy="133.6" r="2.05" fill="#000"/>
<circle cx="1160.0" cy="406.0" r="2.05" fill="#000"/>
<circle cx="1144.2" cy="184.0" r="2.05" fill="#0091ff"/>
<circle cx="1162.6" cy="475.5" r="2.05" fill="#000"/>
<circle cx="1153.6" cy="329.8" r="2.05" fill="#000"/>
<circle cx="1151.2" cy="357.0" r="2.05" fill="#000"/>
<circle cx="1160.1" cy="451.0" r="2.05" fill="#0091ff"/>
<circle cx="1153.9" cy="257.6" r="2.05" fill="#000"/>
<circle cx="1162.0" cy="549.0" r="2.05" fill="#0091ff"/>
<circle cx="1145.5" cy="230.3" r="2.05" fill="#0091ff"/>
<circle cx="1173.6" cy="705.7" r="2.05" fill="#0091ff"/>
<circle cx="1152.9" cy="167.7" r="2.05" fill="#0091ff"/>
<circle cx="1132.9" cy="69.6" r="2.05" fill="#0091ff"/>
<circle cx="1158.7" cy="427.8" r="2.05" fill="#000"/>
<circle cx="1147.7" cy="199.0" r="2.05" fill="#0091ff"/>
<circle cx="1162.2" cy="610.3" r="2.05" fill="#000"/>
<circle cx="1145.7" cy="204.5" r="2.05" fill="#000"/>
<circle cx="1144.0" cy="130.9" r="2.05" fill="#000"/>
<circle cx="1163.2" cy="459.1" r="2.05" fill="#000"/>
<circle cx="1153.9" cy="305.2" r="2.05" fill="#0091ff"/>
<circle cx="1150.6" cy="178.6" r="2.05" fill="#000"/>
<circle cx="1152.1" cy="373.3" r="2.05" fill="#000"/>
<circle cx="1172.8" cy="583.1" r="2.05" fill="#000"/>
<circle cx="1151.4" cy="293.0" r="2.05" fill="#0091ff"/>
<circle cx="1161.0" cy="745.2" r="2.05" fill="#000"/>
<circle cx="1167.3" cy="564.0" r="2.05" fill="#000"/>
<circle cx="1152.5" cy="339.3" r="2.05" fill="#000"/>
<circle cx="1159.4" cy="558.6" r="2.05" fill="#000"/>
<circle cx="1159.3" cy="393.8" r="2.05" fill="#000"/>
<circle cx="1158.0" cy="388.3" r="2.05" fill="#000"/>
<circle cx="1168.2" cy="636.2" r="2.05" fill="#0091ff"/>
<circle cx="1162.0" cy="457.8" r="2.05" fill="#000"/>
<circle cx="1180.5" cy="728.8" r="2.05" fill="#0091ff"/>
<circle cx="1160.1" cy="392.4" r="2.05" fill="#000"/>
<circle cx="1159.8" cy="393.8" r="2.05" fill="#000"/>
<circle cx="1170.7" cy="671.6" r="2.05" fill="#0091ff"/>
<circle cx="1168.9" cy="677.1" r="2.05" fill="#0091ff"/>
<circle cx="1162.5" cy="414.2" r="2.05" fill="#0091ff"/>
<circle cx="1118.1" cy="65.5" r="2.05" fill="#0091ff"/>
<circle cx="1149.6" cy="209.9" r="2.05" fill="#000"/>
<circle cx="1151.6" cy="310.7" r="2.05" fill="#0091ff"/>
<circle cx="1161.0" cy="617.1" r="2.05" fill="#000"/>
<circle cx="1151.7" cy="242.6" r="2.05" fill="#000"/>
<circle cx="1164.3" cy="769.7" r="2.05" fill="#000"/>
<circle cx="1172.2" cy="784.7" r="2.05" fill="#000"/>
<circle cx="1142.4" cy="218.1" r="2.05" fill="#0091ff"/>
<circle cx="1194.0" cy="737.0" r="2.05" fill="#000"/>
<circle cx="1169.0" cy="609.0" r="2.05" fill="#0091ff"/>
<circle cx="1165.6" cy="738.4" r="2.05" fill="#000"/>
<circle cx="1165.8" cy="515.0" r="2.05" fill="#0091ff"/>
<circle cx="1166.4" cy="641.7" r="2.05" fill="#0091ff"/>
<circle cx="1158.3" cy="466.0" r="2.05" fill="#0091ff"/>
<circle cx="1166.7" cy="543.6" r="2.05" fill="#0091ff"/>
<circle cx="1161.8" cy="539.5" r="2.05" fill="#000"/>
<circle cx="1150.5" cy="318.9" r="2.05" fill="#000"/>
<circle cx="1149.1" cy="260.3" r="2.05" fill="#0091ff"/>
<circle cx="1159.4" cy="559.9" r="2.05" fill="#000"/>
<circle cx="1193.8" cy="775.1" r="2.05" fill="#0091ff"/>
<circle cx="1148.1" cy="214.0" r="2.05" fill="#0091ff"/>
<circle cx="1150.6" cy="278.0" r="2.05" fill="#000"/>
<circle cx="1159.0" cy="419.7" r="2.05" fill="#0091ff"/>
<circle cx="1170.5" cy="708.4" r="2.05" fill="#000"/>
<circle cx="1160.0" cy="396.5" r="2.05" fill="#000"/>
<circle cx="1144.9" cy="42.4" r="2.05" fill="#000"/>
<circle cx="1153.6" cy="327.0" r="2.05" fill="#000"/>
<circle cx="1148.0" cy="91.4" r="2.05" fill="#000"/>
<circle cx="1144.0" cy="125.5" r="2.05" fill="#0091ff"/>
<circle cx="1165.2" cy="747.9" r="2.05" fill="#000"/>
<circle cx="1159.9" cy="456.4" r="2.05" fill="#000"/>
<circle cx="1177.9" cy="624.0" r="2.05" fill="#000"/>
<circle cx="1160.3" cy="543.6" r="2.05" fill="#000"/>
<circle cx="1159.7" cy="592.6" r="2.05" fill="#000"/>
<circle cx="1163.5" cy="535.4" r="2.05" fill="#000"/>
<circle cx="1161.3" cy="779.2" r="2.05" fill="#000"/>
<circle cx="1141.7" cy="200.4" r="2.05" fill="#000"/>
<circle cx="1146.1" cy="182.7" r="2.05" fill="#000"/>
<circle cx="1148.5" cy="245.3" r="2.05" fill="#0091ff"/>
<circle cx="1143.3" cy="133.6" r="2.05" fill="#000"/>
<circle cx="1168.0" cy="527.2" r="2.05" fill="#000"/>
<circle cx="1153.8" cy="264.4" r="2.05" fill="#000"/>
<circle cx="1175.5" cy="603.5" r="2.05" fill="#0091ff"/>
<circle cx="1141.8" cy="165.0" r="2.05" fill="#000"/>
<circle cx="1145.2" cy="102.3" r="2.05" fill="#000"/>
<circle cx="1146.1" cy="199.0" r="2.05" fill="#000"/>
<circle cx="1135.3" cy="111.8" r="2.05" fill="#000"/>
<circle cx="1158.4" cy="423.7" r="2.05" fill="#000"/>
<circle cx="1142.6" cy="239.9" r="2.05" fill="#0091ff"/>
<circle cx="1147.5" cy="109.1" r="2.05" fill="#0091ff"/>
<circle cx="1186.6" cy="777.9" r="2.05" fill="#0091ff"/>
<circle cx="1161.3" cy="416.9" r="2.05" fill="#000"/>
<circle cx="1160.9" cy="509.5" r="2.05" fill="#000"/>
<circle cx="1158.2" cy="517.7" r="2.05" fill="#000"/>
<circle cx="1153.0" cy="162.2" r="2.05" fill="#0091ff"/>
<circle cx="1169.5" cy="671.6" r="2.05" fill="#000"/>
<circle cx="1151.1" cy="216.7" r="2.05" fill="#000"/>
<circle cx="1164.4" cy="588.5" r="2.05" fill="#000"/>
<circle cx="1160.9" cy="505.5" r="2.05" fill="#0091ff"/>
<circle cx="1166.0" cy="610.3" r="2.05" fill="#000"/>
<circle cx="1142.1" cy="201.7" r="2.05" fill="#000"/>
<circle cx="1146.5" cy="301.2" r="2.05" fill="#000"/>
<circle cx="1165.0" cy="583.1" r="2.05" fill="#0091ff"/>
<circle cx="1167.2" cy="651.2" r="2.05" fill="#0091ff"/>
<circle cx="1144.5" cy="69.6" r="2.05" fill="#0091ff"/>
<circle cx="1172.3" cy="709.8" r="2.05" fill="#000"/>
<circle cx="1139.6" cy="211.3" r="2.05" fill="#000"/>
<circle cx="1138.8" cy="122.7" r="2.05" fill="#000"/>
<circle cx="1172.8" cy="704.3" r="2.05" fill="#0091ff"/>
<circle cx="1160.2" cy="430.5" r="2.05" fill="#000"/>
<circle cx="1160.8" cy="629.4" r="2.05" fill="#000"/>
<circle cx="1154.1" cy="370.6" r="2.05" fill="#0091ff"/>
<circle cx="1101.2" cy="43.7" r="2.05" fill="#000"/>
<circle cx="1158.3" cy="519.1" r="2.05" fill="#000"/>
<circle cx="1162.1" cy="532.7" r="2.05" fill="#0091ff"/>
<circle cx="1153.3" cy="265.7" r="2.05" fill="#0091ff"/>
<circle cx="1148.0" cy="316.1" r="2.05" fill="#0091ff"/>
<circle cx="1160.0" cy="694.8" r="2.05" fill="#0091ff"/>
<circle cx="1159.3" cy="412.8" r="2.05" fill="#0091ff"/>
<circle cx="1163.6" cy="426.5" r="2.05" fill="#000"/>
<circle cx="1166.2" cy="628.0" r="2.05" fill="#000"/>
<circle cx="1165.1" cy="569.5" r="2.05" fill="#000"/>
<circle cx="1190.8" cy="762.9" r="2.05" fill="#0091ff"/>
<circle cx="1158.2" cy="392.4" r="2.05" fill="#000"/>
<circle cx="1159.1" cy="502.7" r="2.05" fill="#0091ff"/>
<circle cx="1149.2" cy="181.3" r="2.05" fill="#000"/>
<circle cx="1153.4" cy="278.0" r="2.05" fill="#000"/>
<circle cx="1144.9" cy="211.3" r="2.05" fill="#0091ff"/>
<circle cx="1149.5" cy="110.5" r="2.05" fill="#0091ff"/>
<circle cx="1152.0" cy="169.0" r="2.05" fill="#0091ff"/>
<circle cx="1167.2" cy="562.7" r="2.05" fill="#0091ff"/>
<circle cx="1169.2" cy="692.1" r="2.05" fill="#000"/>
<circle cx="1162.3" cy="486.4" r="2.05" fill="#000"/>
<circle cx="1186.0" cy="732.9" r="2.05" fill="#000"/>
<circle cx="1159.8" cy="486.4" r="2.05" fill="#000"/>
<circle cx="1147.8" cy="294.3" r="2.05" fill="#000"/>
<circle cx="1167.0" cy="743.8" r="2.05" fill="#000"/>
<circle cx="1175.7" cy="667.5" r="2.05" fill="#000"/>
<circle cx="1163.9" cy="543.6" r="2.05" fill="#0091ff"/>
<circle cx="1146.3" cy="291.6" r="2.05" fill="#0091ff"/>
<circle cx="1158.6" cy="399.2" r="2.05" fill="#000"/>
<circle cx="1092.0" cy="38.0" r="2.05" fill="#000"/>
<circle cx="1150.9" cy="137.7" r="2.05" fill="#000"/>
<circle cx="1158.0" cy="461.9" r="2.05" fill="#000"/>
<circle cx="1173.8" cy="700.2" r="2.05" fill="#0091ff"/>
<circle cx="1169.8" cy="632.1" r="2.05" fill="#000"/>
<circle cx="1159.1" cy="463.2" r="2.05" fill="#000"/>
<circle cx="1182.2" cy="741.1" r="2.05" fill="#000"/>
<circle cx="1164.0" cy="673.0" r="2.05" fill="#000"/>
<circle cx="1167.0" cy="704.3" r="2.05" fill="#000"/>
<circle cx="1153.8" cy="337.9" r="2.05" fill="#0091ff"/>
<circle cx="1160.7" cy="418.3" r="2.05" fill="#0091ff"/>
<circle cx="1153.8" cy="301.2" r="2.05" fill="#0091ff"/>
<circle cx="1147.3" cy="92.8" r="2.05" fill="#000"/>
<circle cx="1147.1" cy="250.8" r="2.05" fill="#000"/>
<circle cx="1118.8" cy="39.7" r="2.05" fill="#000"/>
<circle cx="1145.9" cy="57.4" r="2.05" fill="#0091ff"/>
<circle cx="1149.1" cy="264.4" r="2.05" fill="#0091ff"/>
<circle cx="1171.8" cy="638.9" r="2.05" fill="#000"/>
<circle cx="1152.6" cy="208.5" r="2.05" fill="#000"/>
<circle cx="1174.9" cy="658.0" r="2.05" fill="#000"/>
<circle cx="1163.4" cy="674.3" r="2.05" fill="#000"/>
<circle cx="1153.6" cy="372.0" r="2.05" fill="#0091ff"/>
<circle cx="1163.0" cy="615.8" r="2.05" fill="#000"/>
<circle cx="1164.8" cy="653.9" r="2.05" fill="#000"/>
<circle cx="1179.6" cy="722.0" r="2.05" fill="#0091ff"/>
<circle cx="1151.3" cy="58.7" r="2.05" fill="#0091ff"/>
<circle cx="1147.0" cy="313.4" r="2.05" fill="#0091ff"/>
<circle cx="1160.0" cy="587.2" r="2.05" fill="#0091ff"/>
<circle cx="1163.5" cy="512.3" r="2.05" fill="#000"/>
<circle cx="1163.2" cy="638.9" r="2.05" fill="#0091ff"/>
<circle cx="1170.6" cy="614.4" r="2.05" fill="#000"/>
<circle cx="1147.9" cy="148.6" r="2.05" fill="#0091ff"/>
<circle cx="1162.9" cy="732.9" r="2.05" fill="#000"/>
<circle cx="1148.5" cy="61.4" r="2.05" fill="#000"/>
<circle cx="1167.7" cy="621.2" r="2.05" fill="#000"/>
<circle cx="1146.9" cy="280.7" r="2.05" fill="#000"/>
<circle cx="1160.0" cy="583.1" r="2.05" fill="#000"/>
<circle cx="1163.7" cy="595.3" r="2.05" fill="#000"/>
<circle cx="1150.2" cy="115.9" r="2.05" fill="#0091ff"/>
<circle cx="1140.8" cy="118.6" r="2.05" fill="#000"/>
<circle cx="1151.2" cy="109.1" r="2.05" fill="#0091ff"/>
<circle cx="1177.8" cy="786.0" r="2.05" fill="#000"/>
<circle cx="1148.7" cy="242.6" r="2.05" fill="#000"/>
<circle cx="1141.4" cy="254.8" r="2.05" fill="#0091ff"/>
<circle cx="1153.7" cy="363.8" r="2.05" fill="#0091ff"/>
<circle cx="1148.7" cy="325.7" r="2.05" fill="#000"/>
<circle cx="1146.8" cy="276.6" r="2.05" fill="#000"/>
<circle cx="1158.9" cy="746.5" r="2.05" fill="#000"/>
<circle cx="1162.5" cy="521.8" r="2.05" fill="#0091ff"/>
<circle cx="1160.2" cy="497.3" r="2.05" fill="#000"/>
<circle cx="1153.4" cy="313.4" r="2.05" fill="#000"/>
<circle cx="1162.7" cy="438.7" r="2.05" fill="#000"/>
<circle cx="1148.5" cy="339.3" r="2.05" fill="#000"/>
<circle cx="1135.9" cy="139.1" r="2.05" fill="#000"/>
<circle cx="1164.7" cy="678.4" r="2.05" fill="#000"/>
<circle cx="1151.6" cy="297.1" r="2.05" fill="#000"/>
<circle cx="1149.4" cy="268.5" r="2.05" fill="#000"/>
<circle cx="1145.2" cy="261.7" r="2.05" fill="#000"/>
<circle cx="1141.1" cy="177.2" r="2.05" fill="#0091ff"/>
<circle cx="1168.4" cy="791.5" r="2.05" fill="#000"/>
<circle cx="1147.3" cy="100.9" r="2.05" fill="#0091ff"/>
<circle cx="1150.5" cy="61.4" r="2.05" fill="#0091ff"/>
<circle cx="1154.0" cy="329.8" r="2.05" fill="#0091ff"/>
<circle cx="1146.8" cy="313.4" r="2.05" fill="#0091ff"/>
<circle cx="1167.7" cy="677.1" r="2.05" fill="#0091ff"/>
<circle cx="1162.9" cy="753.3" r="2.05" fill="#0091ff"/>
<circle cx="1150.3" cy="107.8" r="2.05" fill="#0091ff"/>
<circle cx="1180.0" cy="762.9" r="2.05" fill="#000"/>
<circle cx="1187.5" cy="746.5" r="2.05" fill="#000"/>
<circle cx="1164.1" cy="584.5" r="2.05" fill="#000"/>
<circle cx="1117.3" cy="49.2" r="2.05" fill="#0091ff"/>
<circle cx="1147.5" cy="321.6" r="2.05" fill="#0091ff"/>
<circle cx="1116.8" cy="49.2" r="2.05" fill="#0091ff"/>
<circle cx="1148.2" cy="332.5" r="2.05" fill="#000"/>
<circle cx="1149.3" cy="297.1" r="2.05" fill="#000"/>
<circle cx="1140.1" cy="169.0" r="2.05" fill="#000"/>
<circle cx="1147.0" cy="245.3" r="2.05" fill="#0091ff"/>
<circle cx="1162.3" cy="634.8" r="2.05" fill="#000"/>
<circle cx="1175.5" cy="607.6" r="2.05" fill="#000"/>
<circle cx="1163.3" cy="521.8" r="2.05" fill="#0091ff"/>
<circle cx="1093.3" cy="42.7" r="2.05" fill="#000"/>
<circle cx="1152.9" cy="329.8" r="2.05" fill="#000"/>
<circle cx="1144.7" cy="72.3" r="2.05" fill="#0091ff"/>
<circle cx="1053.6" cy="41.3" r="2.05" fill="#0091ff"/>
<circle cx="1144.5" cy="145.9" r="2.05" fill="#0091ff"/>
<circle cx="1158.4" cy="437.4" r="2.05" fill="#000"/>
<circle cx="1153.4" cy="293.0" r="2.05" fill="#000"/>
<circle cx="1154.3" cy="377.4" r="2.05" fill="#000"/>
<circle cx="1128.3" cy="118.6" r="2.05" fill="#000"/>
<circle cx="1128.8" cy="73.7" r="2.05" fill="#0091ff"/>
<circle cx="1161.1" cy="478.2" r="2.05" fill="#000"/>
<circle cx="1142.8" cy="152.7" r="2.05" fill="#000"/>
<circle cx="1159.1" cy="445.5" r="2.05" fill="#000"/>
<circle cx="1145.9" cy="271.2" r="2.05" fill="#000"/>
<circle cx="1136.1" cy="83.2" r="2.05" fill="#000"/>
<circle cx="1133.6" cy="75.1" r="2.05" fill="#0091ff"/>
<circle cx="1145.2" cy="106.4" r="2.05" fill="#000"/>
<circle cx="1162.5" cy="760.2" r="2.05" fill="#0091ff"/>
<circle cx="1160.8" cy="440.1" r="2.05" fill="#000"/>
<circle cx="1161.3" cy="495.9" r="2.05" fill="#000"/>
<circle cx="1129.7" cy="41.0" r="2.05" fill="#000"/>
<circle cx="1148.4" cy="216.7" r="2.05" fill="#000"/>
<circle cx="1162.6" cy="731.5" r="2.05" fill="#0091ff"/>
<circle cx="1158.8" cy="489.1" r="2.05" fill="#000"/>
<circle cx="1129.6" cy="66.9" r="2.05" fill="#000"/>
<circle cx="1135.7" cy="76.4" r="2.05" fill="#000"/>
<circle cx="1165.4" cy="494.6" r="2.05" fill="#000"/>
<circle cx="1152.6" cy="305.2" r="2.05" fill="#0091ff"/>
<circle cx="1192.0" cy="776.5" r="2.05" fill="#0091ff"/>
<circle cx="1161.2" cy="382.9" r="2.05" fill="#0091ff"/>
<circle cx="1149.8" cy="150.0" r="2.05" fill="#0091ff"/>
<circle cx="1145.2" cy="233.1" r="2.05" fill="#000"/>
<circle cx="1165.7" cy="525.9" r="2.05" fill="#0091ff"/>
<circle cx="1165.5" cy="752.0" r="2.05" fill="#000"/>
<circle cx="1159.4" cy="414.2" r="2.05" fill="#0091ff"/>
<circle cx="1144.2" cy="271.2" r="2.05" fill="#0091ff"/>
<circle cx="1153.2" cy="264.4" r="2.05" fill="#000"/>
<circle cx="1192.6" cy="772.4" r="2.05" fill="#000"/>
<circle cx="1185.5" cy="747.9" r="2.05" fill="#000"/>
<circle cx="1100.5" cy="39.7" r="2.05" fill="#000"/>
<circle cx="1166.4" cy="626.7" r="2.05" fill="#000"/>
<circle cx="1167.1" cy="767.0" r="2.05" fill="#0091ff"/>
<circle cx="1159.3" cy="461.9" r="2.05" fill="#0091ff"/>
<circle cx="1162.1" cy="410.1" r="2.05" fill="#000"/>
<circle cx="1128.6" cy="145.9" r="2.05" fill="#000"/>
<circle cx="1166.1" cy="550.4" r="2.05" fill="#000"/>
<circle cx="1182.9" cy="745.2" r="2.05" fill="#000"/>
<circle cx="1096.8" cy="38.3" r="2.05" fill="#000"/>
<circle cx="1139.0" cy="220.8" r="2.05" fill="#000"/>
<circle cx="1162.4" cy="532.7" r="2.05" fill="#0091ff"/>
<circle cx="1153.8" cy="350.2" r="2.05" fill="#0091ff"/>
<circle cx="1159.5" cy="600.8" r="2.05" fill="#0091ff"/>
<circle cx="1151.1" cy="287.5" r="2.05" fill="#0091ff"/>
<circle cx="1145.0" cy="122.7" r="2.05" fill="#0091ff"/>
<circle cx="1170.1" cy="682.5" r="2.05" fill="#0091ff"/>
<circle cx="1159.0" cy="453.7" r="2.05" fill="#000"/>
<circle cx="1159.8" cy="643.0" r="2.05" fill="#000"/>
<circle cx="1159.9" cy="493.2" r="2.05" fill="#0091ff"/>
<circle cx="1177.7" cy="758.8" r="2.05" fill="#0091ff"/>
<circle cx="1166.0" cy="562.7" r="2.05" fill="#0091ff"/>
<circle cx="1154.1" cy="377.4" r="2.05" fill="#000"/>
<circle cx="1158.7" cy="489.1" r="2.05" fill="#0091ff"/>
<circle cx="1147.1" cy="229.0" r="2.05" fill="#0091ff"/>
<circle cx="1163.2" cy="613.1" r="2.05" fill="#000"/>
<circle cx="1164.3" cy="727.5" r="2.05" fill="#000"/>
<circle cx="1153.0" cy="318.9" r="2.05" fill="#000"/>
<circle cx="1161.3" cy="407.4" r="2.05" fill="#000"/>
<circle cx="1152.3" cy="331.1" r="2.05" fill="#0091ff"/>
<circle cx="1159.4" cy="494.6" r="2.05" fill="#0091ff"/>
<circle cx="1148.1" cy="215.4" r="2.05" fill="#000"/>
<circle cx="1162.2" cy="598.1" r="2.05" fill="#000"/>
<circle cx="1161.7" cy="410.1" r="2.05" fill="#000"/>
<circle cx="1150.1" cy="75.1" r="2.05" fill="#0091ff"/>
<circle cx="1168.3" cy="531.3" r="2.05" fill="#0091ff"/>
<circle cx="1165.1" cy="637.6" r="2.05" fill="#0091ff"/>
<circle cx="1159.5" cy="603.5" r="2.05" fill="#000"/>
<circle cx="1158.8" cy="685.2" r="2.05" fill="#000"/>
<circle cx="1158.9" cy="764.2" r="2.05" fill="#0091ff"/>
<circle cx="1163.6" cy="599.4" r="2.05" fill="#0091ff"/>
<circle cx="1169.5" cy="606.2" r="2.05" fill="#0091ff"/>
<circle cx="1161.8" cy="449.6" r="2.05" fill="#000"/>
<circle cx="1143.1" cy="132.3" r="2.05" fill="#0091ff"/>
<circle cx="1135.7" cy="162.2" r="2.05" fill="#0091ff"/>
<circle cx="1160.4" cy="546.3" r="2.05" fill="#000"/>
<circle cx="1149.6" cy="324.3" r="2.05" fill="#000"/>
<circle cx="1169.9" cy="762.9" r="2.05" fill="#0091ff"/>
<circle cx="1163.1" cy="491.8" r="2.05" fill="#000"/>
<circle cx="1152.7" cy="337.9" r="2.05" fill="#000"/>
<circle cx="1167.0" cy="540.9" r="2.05" fill="#000"/>
<circle cx="1146.6" cy="129.5" r="2.05" fill="#000"/>
<circle cx="1148.7" cy="155.4" r="2.05" fill="#000"/>
<circle cx="1160.2" cy="618.5" r="2.05" fill="#0091ff"/>
<circle cx="1131.5" cy="77.8" r="2.05" fill="#0091ff"/>
<circle cx="1164.2" cy="741.1" r="2.05" fill="#0091ff"/>
<circle cx="1172.6" cy="685.2" r="2.05" fill="#000"/>
<circle cx="1152.5" cy="305.2" r="2.05" fill="#0091ff"/>
<circle cx="1145.8" cy="71.0" r="2.05" fill="#0091ff"/>
<circle cx="1166.1" cy="538.1" r="2.05" fill="#000"/>
<circle cx="1137.1" cy="192.2" r="2.05" fill="#0091ff"/>
<circle cx="1164.6" cy="464.6" r="2.05" fill="#0091ff"/>
<circle cx="1154.8" cy="372.0" r="2.05" fill="#0091ff"/>
<circle cx="1152.9" cy="308.0" r="2.05" fill="#0091ff"/>
<circle cx="1141.5" cy="88.7" r="2.05" fill="#000"/>
<circle cx="1161.6" cy="528.6" r="2.05" fill="#0091ff"/>
<circle cx="1170.3" cy="645.7" r="2.05" fill="#000"/>
<circle cx="1160.2" cy="727.5" r="2.05" fill="#000"/>
<circle cx="1151.6" cy="43.7" r="2.05" fill="#0091ff"/>
<circle cx="1142.8" cy="114.6" r="2.05" fill="#000"/>
<circle cx="1152.8" cy="273.9" r="2.05" fill="#000"/>
<circle cx="1181.1" cy="784.7" r="2.05" fill="#000"/>
<circle cx="1190.8" cy="792.8" r="2.05" fill="#000"/>
<circle cx="1160.0" cy="781.9" r="2.05" fill="#000"/>
<circle cx="1165.8" cy="671.6" r="2.05" fill="#000"/>
<circle cx="1170.3" cy="784.7" r="2.05" fill="#000"/>
<circle cx="1174.4" cy="700.2" r="2.05" fill="#000"/>
<circle cx="1158.3" cy="436.0" r="2.05" fill="#0091ff"/>
<circle cx="1150.6" cy="253.5" r="2.05" fill="#000"/>
<circle cx="1150.2" cy="346.1" r="2.05" fill="#000"/>
<circle cx="1148.5" cy="309.3" r="2.05" fill="#0091ff"/>
<circle cx="1181.6" cy="734.3" r="2.05" fill="#000"/>
<circle cx="1145.8" cy="211.3" r="2.05" fill="#000"/>
<circle cx="1143.6" cy="184.0" r="2.05" fill="#0091ff"/>
<circle cx="1143.4" cy="154.1" r="2.05" fill="#000"/>
<circle cx="1160.7" cy="441.4" r="2.05" fill="#000"/>
<circle cx="1163.0" cy="468.7" r="2.05" fill="#000"/>
<circle cx="1160.2" cy="440.1" r="2.05" fill="#000"/>
<circle cx="1149.6" cy="350.2" r="2.05" fill="#000"/>
<circle cx="1149.0" cy="233.1" r="2.05" fill="#0091ff"/>
<circle cx="1149.5" cy="216.7" r="2.05" fill="#0091ff"/>
<circle cx="1158.6" cy="421.0" r="2.05" fill="#0091ff"/>
<circle cx="1158.1" cy="521.8" r="2.05" fill="#0091ff"/>
<circle cx="1158.4" cy="572.2" r="2.05" fill="#000"/>
<circle cx="1160.7" cy="568.1" r="2.05" fill="#000"/>
<circle cx="1150.2" cy="258.9" r="2.05" fill="#0091ff"/>
<circle cx="1161.5" cy="649.8" r="2.05" fill="#000"/>
<circle cx="1163.3" cy="686.6" r="2.05" fill="#0091ff"/>
<circle cx="1164.9" cy="697.5" r="2.05" fill="#000"/>
<circle cx="1153.5" cy="376.1" r="2.05" fill="#0091ff"/>
<circle cx="1173.5" cy="592.6" r="2.05" fill="#000"/>
<circle cx="1138.1" cy="137.7" r="2.05" fill="#000"/>
<circle cx="1153.1" cy="350.2" r="2.05" fill="#000"/>
<circle cx="1158.7" cy="482.3" r="2.05" fill="#000"/>
<circle cx="1160.9" cy="425.1" r="2.05" fill="#000"/>
<circle cx="1142.8" cy="229.0" r="2.05" fill="#000"/>
<circle cx="1132.2" cy="117.3" r="2.05" fill="#0091ff"/>
<circle cx="1183.3" cy="722.0" r="2.05" fill="#000"/>
<circle cx="1162.7" cy="711.1" r="2.05" fill="#000"/>
<circle cx="1134.7" cy="158.1" r="2.05" fill="#0091ff"/>
<circle cx="1148.8" cy="291.6" r="2.05" fill="#0091ff"/>
<circle cx="1114.6" cy="45.1" r="2.05" fill="#000"/>
<circle cx="1147.8" cy="302.5" r="2.05" fill="#000"/>
<circle cx="1167.0" cy="594.0" r="2.05" fill="#000"/>
<circle cx="1149.6" cy="69.6" r="2.05" fill="#0091ff"/>
<circle cx="1111.5" cy="54.6" r="2.05" fill="#0091ff"/>
<circle cx="1158.2" cy="600.8" r="2.05" fill="#000"/>
<circle cx="1161.2" cy="381.5" r="2.05" fill="#000"/>
<circle cx="1144.6" cy="76.4" r="2.05" fill="#0091ff"/>
<circle cx="1163.9" cy="573.6" r="2.05" fill="#0091ff"/>
<circle cx="1151.4" cy="137.7" r="2.05" fill="#000"/>
<circle cx="1152.7" cy="143.2" r="2.05" fill="#0091ff"/>
<circle cx="1160.6" cy="649.8" r="2.05" fill="#0091ff"/>
<circle cx="1147.1" cy="310.7" r="2.05" fill="#0091ff"/>
<circle cx="1151.3" cy="235.8" r="2.05" fill="#000"/>
<circle cx="1161.8" cy="468.7" r="2.05" fill="#000"/>
<circle cx="1130.1" cy="79.1" r="2.05" fill="#000"/>
<circle cx="1145.1" cy="133.6" r="2.05" fill="#0091ff"/>
<circle cx="1153.1" cy="339.3" r="2.05" fill="#000"/>
<circle cx="1159.9" cy="476.9" r="2.05" fill="#000"/>
<circle cx="1161.4" cy="566.7" r="2.05" fill="#000"/>
<circle cx="1173.5" cy="753.3" r="2.05" fill="#0091ff"/>
<circle cx="1145.2" cy="72.3" r="2.05" fill="#0091ff"/>
<circle cx="1148.1" cy="226.2" r="2.05" fill="#0091ff"/>
<circle cx="1153.2" cy="327.0" r="2.05" fill="#000"/>
<circle cx="1140.9" cy="179.9" r="2.05" fill="#000"/>
<circle cx="1160.1" cy="615.8" r="2.05" fill="#000"/>
<circle cx="1160.1" cy="479.6" r="2.05" fill="#0091ff"/>
<circle cx="1115.4" cy="56.0" r="2.05" fill="#0091ff"/>
<circle cx="1154.7" cy="374.7" r="2.05" fill="#000"/>
<circle cx="1154.7" cy="354.3" r="2.05" fill="#000"/>
<circle cx="1150.4" cy="54.6" r="2.05" fill="#000"/>
<circle cx="1149.4" cy="136.4" r="2.05" fill="#000"/>
<circle cx="1165.1" cy="475.5" r="2.05" fill="#0091ff"/>
<circle cx="1158.9" cy="389.7" r="2.05" fill="#000"/>
<circle cx="1262.7" cy="788.6" r="2.05" fill="#0091ff"/>
<circle cx="1159.3" cy="441.4" r="2.05" fill="#000"/>
<circle cx="1151.3" cy="129.5" r="2.05" fill="#000"/>
<circle cx="1141.5" cy="68.3" r="2.05" fill="#000"/>
<circle cx="1141.6" cy="215.4" r="2.05" fill="#000"/>
<circle cx="1158.2" cy="554.5" r="2.05" fill="#0091ff"/>
<circle cx="1212.3" cy="784.0" r="2.05" fill="#0091ff"/>
<circle cx="1141.5" cy="257.6" r="2.05" fill="#000"/>
<circle cx="1161.3" cy="666.2" r="2.05" fill="#000"/>
<circle cx="1164.9" cy="543.6" r="2.05" fill="#000"/>
<circle cx="1128.8" cy="118.6" r="2.05" fill="#000"/>
<circle cx="1160.0" cy="690.7" r="2.05" fill="#0091ff"/>
<circle cx="1167.9" cy="482.3" r="2.05" fill="#000"/>
<circle cx="1161.4" cy="577.6" r="2.05" fill="#000"/>
<circle cx="1154.9" cy="377.4" r="2.05" fill="#000"/>
<circle cx="1136.6" cy="158.1" r="2.05" fill="#000"/>
<circle cx="1158.9" cy="562.7" r="2.05" fill="#000"/>
<circle cx="1164.4" cy="549.0" r="2.05" fill="#000"/>
<circle cx="1161.7" cy="384.2" r="2.05" fill="#000"/>
<circle cx="1153.2" cy="352.9" r="2.05" fill="#0091ff"/>
<circle cx="1157.9" cy="524.5" r="2.05" fill="#000"/>
<circle cx="1158.5" cy="385.6" r="2.05" fill="#000"/>
<circle cx="1168.1" cy="688.0" r="2.05" fill="#0091ff"/>
<circle cx="1084.7" cy="39.3" r="2.05" fill="#000"/>
<circle cx="1168.1" cy="498.6" r="2.05" fill="#0091ff"/>
<circle cx="1144.1" cy="194.9" r="2.05" fill="#000"/>
<circle cx="1170.0" cy="674.3" r="2.05" fill="#000"/>
<circle cx="1148.5" cy="320.2" r="2.05" fill="#0091ff"/>
<circle cx="1150.1" cy="263.0" r="2.05" fill="#000"/>
<circle cx="1164.2" cy="576.3" r="2.05" fill="#000"/>
<circle cx="1147.5" cy="209.9" r="2.05" fill="#000"/>
<circle cx="1163.1" cy="653.9" r="2.05" fill="#000"/>
<circle cx="1154.6" cy="378.8" r="2.05" fill="#000"/>
<circle cx="1167.3" cy="704.3" r="2.05" fill="#000"/>
<circle cx="1144.4" cy="47.8" r="2.05" fill="#0091ff"/>
<circle cx="1140.8" cy="194.9" r="2.05" fill="#000"/>
<circle cx="1160.0" cy="456.4" r="2.05" fill="#0091ff"/>
<circle cx="1139.3" cy="158.1" r="2.05" fill="#000"/>
<circle cx="1122.6" cy="49.2" r="2.05" fill="#0091ff"/>
<circle cx="1162.5" cy="431.9" r="2.05" fill="#0091ff"/>
<circle cx="1136.3" cy="205.8" r="2.05" fill="#000"/>
<circle cx="1146.6" cy="244.0" r="2.05" fill="#000"/>
<circle cx="1158.6" cy="419.7" r="2.05" fill="#000"/>
<circle cx="1134.6" cy="193.6" r="2.05" fill="#000"/>
<circle cx="1146.2" cy="190.8" r="2.05" fill="#0091ff"/>
<circle cx="1136.9" cy="47.8" r="2.05" fill="#0091ff"/>
<circle cx="1153.4" cy="316.1" r="2.05" fill="#0091ff"/>
<circle cx="1160.3" cy="453.7" r="2.05" fill="#0091ff"/>
<circle cx="1161.7" cy="497.3" r="2.05" fill="#000"/>
<circle cx="1141.6" cy="248.0" r="2.05" fill="#000"/>
<circle cx="1158.5" cy="483.7" r="2.05" fill="#000"/>
<circle cx="1158.5" cy="561.3" r="2.05" fill="#0091ff"/>
<circle cx="1151.4" cy="130.9" r="2.05" fill="#0091ff"/>
<circle cx="1153.4" cy="362.4" r="2.05" fill="#000"/>
<circle cx="1161.3" cy="410.1" r="2.05" fill="#000"/>
<circle cx="1137.8" cy="203.1" r="2.05" fill="#0091ff"/>
<circle cx="1146.2" cy="120.0" r="2.05" fill="#000"/>
<circle cx="1184.7" cy="726.1" r="2.05" fill="#000"/>
<circle cx="1141.1" cy="98.2" r="2.05" fill="#000"/>
<circle cx="1168.2" cy="701.6" r="2.05" fill="#0091ff"/>
<circle cx="1161.3" cy="517.7" r="2.05" fill="#000"/>
<circle cx="1154.5" cy="370.6" r="2.05" fill="#0091ff"/>
<circle cx="1166.4" cy="675.7" r="2.05" fill="#000"/>
<circle cx="1175.6" cy="636.2" r="2.05" fill="#0091ff"/>
<circle cx="1128.8" cy="56.0" r="2.05" fill="#0091ff"/>
<circle cx="1166.3" cy="678.4" r="2.05" fill="#000"/>
<circle cx="1152.4" cy="351.6" r="2.05" fill="#0091ff"/>
<circle cx="1167.5" cy="711.1" r="2.05" fill="#000"/>
<circle cx="1170.9" cy="709.8" r="2.05" fill="#000"/>
<circle cx="1172.5" cy="764.2" r="2.05" fill="#0091ff"/>
<circle cx="1143.7" cy="268.5" r="2.05" fill="#000"/>
<circle cx="1159.5" cy="551.8" r="2.05" fill="#0091ff"/>
<circle cx="1143.9" cy="272.6" r="2.05" fill="#000"/>
<circle cx="1152.8" cy="318.9" r="2.05" fill="#000"/>
<circle cx="1141.6" cy="170.4" r="2.05" fill="#000"/>
<circle cx="1151.4" cy="242.6" r="2.05" fill="#0091ff"/>
<circle cx="1125.0" cy="83.2" r="2.05" fill="#000"/>
<circle cx="1164.3" cy="641.7" r="2.05" fill="#0091ff"/>
<circle cx="1173.9" cy="674.3" r="2.05" fill="#000"/>
<circle cx="1164.1" cy="545.0" r="2.05" fill="#000"/>
<circle cx="1148.8" cy="346.1" r="2.05" fill="#0091ff"/>
<circle cx="1163.7" cy="506.8" r="2.05" fill="#0091ff"/>
<circle cx="1145.3" cy="254.8" r="2.05" fill="#000"/>
<circle cx="1161.8" cy="686.6" r="2.05" fill="#000"/>
<circle cx="1154.4" cy="377.4" r="2.05" fill="#0091ff"/>
<circle cx="1136.7" cy="196.3" r="2.05" fill="#000"/>
<circle cx="1148.2" cy="316.1" r="2.05" fill="#0091ff"/>
<circle cx="1157.9" cy="475.5" r="2.05" fill="#000"/>
<circle cx="1150.6" cy="321.6" r="2.05" fill="#0091ff"/>
<circle cx="1161.9" cy="528.6" r="2.05" fill="#000"/>
<circle cx="1114.8" cy="49.2" r="2.05" fill="#000"/>
<circle cx="1148.2" cy="336.6" r="2.05" fill="#000"/>
<circle cx="1159.5" cy="438.7" r="2.05" fill="#000"/>
<circle cx="1119.6" cy="75.1" r="2.05" fill="#0091ff"/>
<circle cx="1158.8" cy="694.8" r="2.05" fill="#0091ff"/>
<circle cx="1182.9" cy="786.0" r="2.05" fill="#000"/>
<circle cx="1149.7" cy="209.9" r="2.05" fill="#000"/>
<circle cx="1159.0" cy="519.1" r="2.05" fill="#000"/>
<circle cx="1138.7" cy="211.3" r="2.05" fill="#0091ff"/>
<circle cx="1128.9" cy="139.1" r="2.05" fill="#0091ff"/>
<circle cx="1148.4" cy="294.3" r="2.05" fill="#000"/>
<circle cx="1151.7" cy="229.0" r="2.05" fill="#0091ff"/>
<circle cx="1153.0" cy="354.3" r="2.05" fill="#000"/>
<circle cx="1150.0" cy="288.9" r="2.05" fill="#000"/>
<circle cx="1172.3" cy="738.4" r="2.05" fill="#000"/>
<circle cx="1151.0" cy="65.5" r="2.05" fill="#000"/>
<circle cx="1162.7" cy="540.9" r="2.05" fill="#000"/>
<circle cx="1149.6" cy="317.5" r="2.05" fill="#0091ff"/>
<circle cx="1158.3" cy="387.0" r="2.05" fill="#000"/>
<circle cx="1162.1" cy="463.2" r="2.05" fill="#000"/>
<circle cx="1165.4" cy="555.9" r="2.05" fill="#0091ff"/>
<circle cx="1152.9" cy="238.5" r="2.05" fill="#000"/>
<circle cx="1158.6" cy="525.9" r="2.05" fill="#000"/>
<circle cx="1154.7" cy="361.1" r="2.05" fill="#000"/>
<circle cx="1165.3" cy="746.5" r="2.05" fill="#000"/>
<circle cx="1150.9" cy="322.9" r="2.05" fill="#0091ff"/>
<circle cx="1160.5" cy="470.0" r="2.05" fill="#000"/>
<circle cx="1160.0" cy="406.0" r="2.05" fill="#000"/>
<circle cx="1150.9" cy="51.9" r="2.05" fill="#0091ff"/>
<circle cx="1189.0" cy="750.6" r="2.05" fill="#0091ff"/>
<circle cx="1132.0" cy="42.4" r="2.05" fill="#000"/>
<circle cx="1191.3" cy="768.3" r="2.05" fill="#000"/>
<circle cx="1187.4" cy="772.4" r="2.05" fill="#000"/>
<circle cx="1161.4" cy="579.0" r="2.05" fill="#000"/>
<circle cx="1170.9" cy="596.7" r="2.05" fill="#000"/>
<circle cx="1161.6" cy="515.0" r="2.05" fill="#0091ff"/>
<circle cx="1165.2" cy="476.9" r="2.05" fill="#000"/>
<circle cx="1145.8" cy="322.9" r="2.05" fill="#000"/>
<circle cx="1161.3" cy="433.3" r="2.05" fill="#000"/>
<circle cx="1151.2" cy="234.4" r="2.05" fill="#000"/>
<circle cx="1141.8" cy="129.5" r="2.05" fill="#000"/>
<circle cx="1143.5" cy="64.2" r="2.05" fill="#0091ff"/>
<circle cx="1160.8" cy="583.1" r="2.05" fill="#0091ff"/>
<circle cx="1166.6" cy="602.2" r="2.05" fill="#000"/>
<circle cx="1150.1" cy="260.3" r="2.05" fill="#000"/>
<circle cx="1153.8" cy="343.4" r="2.05" fill="#0091ff"/>
<circle cx="1145.0" cy="122.7" r="2.05" fill="#000"/>
<circle cx="1160.4" cy="573.6" r="2.05" fill="#0091ff"/>
<circle cx="1158.8" cy="491.8" r="2.05" fill="#000"/>
<circle cx="1159.4" cy="429.2" r="2.05" fill="#000"/>
<circle cx="1160.9" cy="757.4" r="2.05" fill="#0091ff"/>
<circle cx="1146.2" cy="250.8" r="2.05" fill="#000"/>
<circle cx="1166.2" cy="583.1" r="2.05" fill="#000"/>
<circle cx="1147.2" cy="214.0" r="2.05" fill="#0091ff"/>
<circle cx="1133.4" cy="71.0" r="2.05" fill="#0091ff"/>
<circle cx="1157.8" cy="540.9" r="2.05" fill="#000"/>
<circle cx="1158.3" cy="549.0" r="2.05" fill="#0091ff"/>
<circle cx="1167.5" cy="570.8" r="2.05" fill="#0091ff"/>
<circle cx="1168.5" cy="634.8" r="2.05" fill="#000"/>
<circle cx="1135.7" cy="192.2" r="2.05" fill="#000"/>
<circle cx="1123.3" cy="58.7" r="2.05" fill="#000"/>
<circle cx="1128.2" cy="121.4" r="2.05" fill="#000"/>
<circle cx="1158.6" cy="440.1" r="2.05" fill="#000"/>
<circle cx="1147.6" cy="99.6" r="2.05" fill="#000"/>
<circle cx="1153.1" cy="173.1" r="2.05" fill="#000"/>
<circle cx="1158.7" cy="392.4" r="2.05" fill="#000"/>
<circle cx="1167.1" cy="794.2" r="2.05" fill="#000"/>
<circle cx="1147.2" cy="340.7" r="2.05" fill="#0091ff"/>
<circle cx="1167.1" cy="730.2" r="2.05" fill="#0091ff"/>
<circle cx="1151.4" cy="125.5" r="2.05" fill="#000"/>
<circle cx="1165.0" cy="480.9" r="2.05" fill="#0091ff"/>
<circle cx="1162.5" cy="707.0" r="2.05" fill="#0091ff"/>
<circle cx="1191.2" cy="753.3" r="2.05" fill="#000"/>
<circle cx="1150.6" cy="328.4" r="2.05" fill="#000"/>
<circle cx="1144.7" cy="177.2" r="2.05" fill="#0091ff"/>
<circle cx="1193.1" cy="772.4" r="2.05" fill="#0091ff"/>
<circle cx="1121.3" cy="90.0" r="2.05" fill="#000"/>
<circle cx="1164.1" cy="460.5" r="2.05" fill="#000"/>
<circle cx="1160.1" cy="446.9" r="2.05" fill="#000"/>
<circle cx="1153.9" cy="363.8" r="2.05" fill="#000"/>
<circle cx="1158.9" cy="527.2" r="2.05" fill="#000"/>
<circle cx="1154.1" cy="297.1" r="2.05" fill="#000"/>
<circle cx="1148.7" cy="314.8" r="2.05" fill="#0091ff"/>
<circle cx="1151.5" cy="288.9" r="2.05" fill="#000"/>
<circle cx="1142.1" cy="155.4" r="2.05" fill="#000"/>
<circle cx="1161.6" cy="451.0" r="2.05" fill="#0091ff"/>
<circle cx="1148.1" cy="212.6" r="2.05" fill="#000"/>
<circle cx="1138.1" cy="90.0" r="2.05" fill="#000"/>
<circle cx="1133.1" cy="177.2" r="2.05" fill="#0091ff"/>
<circle cx="1149.6" cy="322.9" r="2.05" fill="#000"/>
<circle cx="1154.4" cy="344.7" r="2.05" fill="#000"/>
<circle cx="1168.7" cy="558.6" r="2.05" fill="#0091ff"/>
<circle cx="1176.8" cy="637.6" r="2.05" fill="#0091ff"/>
<circle cx="1144.1" cy="215.4" r="2.05" fill="#000"/>
<circle cx="1163.8" cy="422.4" r="2.05" fill="#0091ff"/>
<circle cx="1151.9" cy="308.0" r="2.05" fill="#000"/>
<circle cx="1171.2" cy="559.9" r="2.05" fill="#0091ff"/>
<circle cx="1149.5" cy="308.0" r="2.05" fill="#000"/>
<circle cx="1178.4" cy="670.3" r="2.05" fill="#000"/>
<circle cx="1158.6" cy="535.4" r="2.05" fill="#000"/>
<circle cx="1150.8" cy="159.5" r="2.05" fill="#0091ff"/>
<circle cx="1160.5" cy="470.0" r="2.05" fill="#000"/>
<circle cx="1099.3" cy="45.1" r="2.05" fill="#0091ff"/>
<circle cx="1164.2" cy="530.0" r="2.05" fill="#0091ff"/>
<circle cx="1148.4" cy="299.8" r="2.05" fill="#0091ff"/>
<circle cx="1146.6" cy="140.4" r="2.05" fill="#000"/>
<circle cx="1166.3" cy="577.6" r="2.05" fill="#000"/>
<circle cx="1142.6" cy="211.3" r="2.05" fill="#0091ff"/>
<circle cx="1165.4" cy="532.7" r="2.05" fill="#0091ff"/>
<circle cx="1166.8" cy="516.4" r="2.05" fill="#000"/>
<circle cx="1171.7" cy="765.6" r="2.05" fill="#0091ff"/>
<circle cx="1153.0" cy="335.2" r="2.05" fill="#000"/>
<circle cx="1159.5" cy="384.2" r="2.05" fill="#000"/>
<circle cx="1145.1" cy="94.1" r="2.05" fill="#000"/>
<circle cx="1160.5" cy="392.4" r="2.05" fill="#000"/>
<circle cx="1150.8" cy="167.7" r="2.05" fill="#0091ff"/>
<circle cx="1147.1" cy="135.0" r="2.05" fill="#000"/>
<circle cx="1151.5" cy="317.5" r="2.05" fill="#000"/>
<circle cx="1159.3" cy="523.2" r="2.05" fill="#000"/>
<circle cx="1173.7" cy="761.5" r="2.05" fill="#0091ff"/>
<circle cx="1150.8" cy="128.2" r="2.05" fill="#0091ff"/>
<circle cx="1152.9" cy="346.1" r="2.05" fill="#000"/>
<circle cx="1171.1" cy="730.2" r="2.05" fill="#000"/>
<circle cx="1178.8" cy="633.5" r="2.05" fill="#000"/>
<circle cx="1149.8" cy="194.9" r="2.05" fill="#000"/>
<circle cx="1163.0" cy="448.3" r="2.05" fill="#000"/>
<circle cx="1159.6" cy="731.5" r="2.05" fill="#000"/>
<circle cx="1144.4" cy="238.5" r="2.05" fill="#0091ff"/>
<circle cx="1158.6" cy="693.4" r="2.05" fill="#000"/>
<circle cx="1140.8" cy="141.8" r="2.05" fill="#000"/>
<circle cx="1159.1" cy="630.8" r="2.05" fill="#000"/>
<circle cx="1141.1" cy="132.3" r="2.05" fill="#000"/>
<circle cx="1159.0" cy="500.0" r="2.05" fill="#000"/>
<circle cx="1141.1" cy="238.5" r="2.05" fill="#0091ff"/>
<circle cx="1159.8" cy="520.4" r="2.05" fill="#000"/>
<circle cx="1153.2" cy="284.8" r="2.05" fill="#000"/>
<circle cx="1165.8" cy="547.7" r="2.05" fill="#000"/>
<circle cx="1152.3" cy="339.3" r="2.05" fill="#000"/>
<circle cx="1152.4" cy="293.0" r="2.05" fill="#000"/>
<circle cx="1168.7" cy="742.4" r="2.05" fill="#000"/>
<circle cx="1212.8" cy="790.1" r="2.05" fill="#0091ff"/>
<circle cx="1153.9" cy="261.7" r="2.05" fill="#000"/>
<circle cx="1154.1" cy="378.8" r="2.05" fill="#0091ff"/>
<circle cx="1165.1" cy="649.8" r="2.05" fill="#000"/>
<circle cx="1160.2" cy="478.2" r="2.05" fill="#0091ff"/>
<circle cx="1143.8" cy="165.0" r="2.05" fill="#000"/>
<circle cx="1161.1" cy="634.8" r="2.05" fill="#000"/>
<circle cx="1158.9" cy="387.0" r="2.05" fill="#0091ff"/>
<circle cx="1159.0" cy="401.9" r="2.05" fill="#0091ff"/>
<circle cx="1145.8" cy="135.0" r="2.05" fill="#000"/>
<circle cx="1158.9" cy="408.8" r="2.05" fill="#0091ff"/>
<circle cx="1172.8" cy="712.5" r="2.05" fill="#0091ff"/>
<circle cx="1159.0" cy="412.8" r="2.05" fill="#0091ff"/>
<circle cx="1158.8" cy="421.0" r="2.05" fill="#000"/>
<circle cx="1159.7" cy="388.3" r="2.05" fill="#000"/>
<circle cx="1149.6" cy="163.6" r="2.05" fill="#0091ff"/>
<circle cx="1158.1" cy="472.8" r="2.05" fill="#000"/>
<circle cx="1159.0" cy="459.1" r="2.05" fill="#000"/>
<circle cx="1151.9" cy="249.4" r="2.05" fill="#0091ff"/>
<circle cx="1152.5" cy="355.6" r="2.05" fill="#000"/>
<circle cx="1163.8" cy="415.6" r="2.05" fill="#000"/>
<circle cx="1148.6" cy="111.8" r="2.05" fill="#0091ff"/>
<circle cx="1174.9" cy="626.7" r="2.05" fill="#000"/>
<circle cx="1151.2" cy="99.6" r="2.05" fill="#0091ff"/>
<circle cx="1207.0" cy="787.4" r="2.05" fill="#0091ff"/>
<circle cx="1148.6" cy="288.9" r="2.05" fill="#000"/>
<circle cx="1143.6" cy="126.8" r="2.05" fill="#0091ff"/>
<circle cx="1161.0" cy="644.4" r="2.05" fill="#000"/>
<circle cx="1165.6" cy="682.5" r="2.05" fill="#000"/>
<circle cx="1144.9" cy="193.6" r="2.05" fill="#000"/>
<circle cx="1149.7" cy="150.0" r="2.05" fill="#000"/>
<circle cx="1159.3" cy="397.9" r="2.05" fill="#000"/>
<circle cx="1152.0" cy="155.4" r="2.05" fill="#000"/>
<circle cx="1161.6" cy="519.1" r="2.05" fill="#000"/>
<circle cx="1159.5" cy="442.8" r="2.05" fill="#0091ff"/>
<circle cx="1170.5" cy="698.9" r="2.05" fill="#000"/>
<circle cx="1162.8" cy="664.8" r="2.05" fill="#000"/>
<circle cx="1182.8" cy="777.9" r="2.05" fill="#0091ff"/>
<circle cx="1158.6" cy="746.5" r="2.05" fill="#000"/>
<circle cx="1131.5" cy="103.7" r="2.05" fill="#0091ff"/>
<circle cx="1148.0" cy="253.5" r="2.05" fill="#000"/>
<circle cx="1159.6" cy="525.9" r="2.05" fill="#000"/>
<circle cx="1164.2" cy="476.9" r="2.05" fill="#0091ff"/>
<circle cx="1134.5" cy="103.7" r="2.05" fill="#0091ff"/>
<circle cx="1160.8" cy="452.3" r="2.05" fill="#000"/>
<circle cx="1163.1" cy="756.1" r="2.05" fill="#000"/>
<circle cx="1151.6" cy="332.5" r="2.05" fill="#0091ff"/>
<circle cx="1159.8" cy="480.9" r="2.05" fill="#0091ff"/>
<circle cx="1150.1" cy="238.5" r="2.05" fill="#0091ff"/>
<circle cx="1195.9" cy="738.4" r="2.05" fill="#000"/>
<circle cx="1147.7" cy="207.2" r="2.05" fill="#0091ff"/>
<circle cx="1165.1" cy="735.6" r="2.05" fill="#000"/>
<circle cx="1175.6" cy="771.0" r="2.05" fill="#000"/>
<circle cx="1163.1" cy="433.3" r="2.05" fill="#000"/>
<circle cx="1163.3" cy="429.2" r="2.05" fill="#000"/>
<circle cx="1158.1" cy="414.2" r="2.05" fill="#000"/>
<circle cx="1174.5" cy="696.1" r="2.05" fill="#000"/>
<circle cx="1117.7" cy="95.5" r="2.05" fill="#000"/>
<circle cx="1160.6" cy="491.8" r="2.05" fill="#000"/>
<circle cx="1168.6" cy="643.0" r="2.05" fill="#000"/>
<circle cx="1137.2" cy="73.7" r="2.05" fill="#000"/>
<circle cx="1153.2" cy="208.5" r="2.05" fill="#000"/>
<circle cx="1167.8" cy="662.1" r="2.05" fill="#0091ff"/>
<circle cx="1160.7" cy="559.9" r="2.05" fill="#0091ff"/>
<circle cx="1030.0" cy="39.3" r="2.05" fill="#0091ff"/>
<circle cx="1146.8" cy="58.7" r="2.05" fill="#0091ff"/>
<circle cx="1147.3" cy="241.2" r="2.05" fill="#000"/>
<circle cx="1176.0" cy="614.4" r="2.05" fill="#000"/>
<circle cx="1152.4" cy="279.4" r="2.05" fill="#000"/>
<circle cx="1149.3" cy="276.6" r="2.05" fill="#0091ff"/>
<circle cx="1130.6" cy="173.1" r="2.05" fill="#000"/>
<circle cx="1149.9" cy="121.4" r="2.05" fill="#0091ff"/>
<circle cx="1163.7" cy="442.8" r="2.05" fill="#0091ff"/>
<circle cx="1215.6" cy="780.7" r="2.05" fill="#0091ff"/>
<circle cx="1166.2" cy="559.9" r="2.05" fill="#000"/>
<circle cx="1175.1" cy="625.3" r="2.05" fill="#000"/>
<circle cx="1153.0" cy="175.9" r="2.05" fill="#0091ff"/>
<circle cx="1159.3" cy="457.8" r="2.05" fill="#000"/>
<circle cx="1130.3" cy="169.0" r="2.05" fill="#000"/>
<circle cx="1136.8" cy="71.0" r="2.05" fill="#000"/>
<circle cx="1174.5" cy="777.9" r="2.05" fill="#0091ff"/>
<circle cx="1141.2" cy="64.2" r="2.05" fill="#000"/>
<circle cx="1178.9" cy="662.1" r="2.05" fill="#000"/>
<circle cx="1149.2" cy="295.7" r="2.05" fill="#000"/>
<circle cx="1162.6" cy="764.2" r="2.05" fill="#0091ff"/>
<circle cx="1153.9" cy="366.5" r="2.05" fill="#0091ff"/>
<circle cx="1158.3" cy="472.8" r="2.05" fill="#000"/>
<circle cx="1165.4" cy="749.3" r="2.05" fill="#000"/>
<circle cx="1129.1" cy="133.6" r="2.05" fill="#000"/>
<circle cx="1162.2" cy="395.1" r="2.05" fill="#0091ff"/>
<circle cx="1170.0" cy="702.9" r="2.05" fill="#0091ff"/>
<circle cx="1150.6" cy="111.8" r="2.05" fill="#000"/>
<circle cx="1164.6" cy="749.3" r="2.05" fill="#0091ff"/>
<circle cx="1149.7" cy="197.6" r="2.05" fill="#0091ff"/>
<circle cx="1162.5" cy="463.2" r="2.05" fill="#0091ff"/>
<circle cx="1165.3" cy="688.0" r="2.05" fill="#000"/>
<circle cx="1163.0" cy="632.1" r="2.05" fill="#0091ff"/>
<circle cx="1179.9" cy="769.7" r="2.05" fill="#0091ff"/>
<circle cx="1243.3" cy="779.0" r="2.05" fill="#000"/>
<circle cx="1152.6" cy="282.1" r="2.05" fill="#0091ff"/>
<circle cx="1142.5" cy="132.3" r="2.05" fill="#000"/>
<circle cx="1161.2" cy="444.2" r="2.05" fill="#0091ff"/>
<circle cx="1120.6" cy="68.3" r="2.05" fill="#0091ff"/>
<circle cx="1145.4" cy="163.6" r="2.05" fill="#0091ff"/>
<circle cx="1142.3" cy="145.9" r="2.05" fill="#000"/>
<circle cx="1142.7" cy="66.9" r="2.05" fill="#000"/>
<circle cx="1158.1" cy="430.5" r="2.05" fill="#000"/>
<circle cx="1153.6" cy="347.5" r="2.05" fill="#000"/>
<circle cx="1149.0" cy="227.6" r="2.05" fill="#0091ff"/>
<circle cx="1108.4" cy="68.3" r="2.05" fill="#000"/>
<circle cx="1161.7" cy="480.9" r="2.05" fill="#0091ff"/>
<circle cx="1131.9" cy="76.4" r="2.05" fill="#0091ff"/>
<circle cx="1158.5" cy="489.1" r="2.05" fill="#000"/>
<circle cx="1146.1" cy="271.2" r="2.05" fill="#000"/>
<circle cx="1153.6" cy="253.5" r="2.05" fill="#0091ff"/>
<circle cx="1134.7" cy="178.6" r="2.05" fill="#0091ff"/>
<circle cx="1130.7" cy="181.3" r="2.05" fill="#000"/>
<circle cx="1158.3" cy="667.5" r="2.05" fill="#000"/>
<circle cx="1143.1" cy="135.0" r="2.05" fill="#000"/>
<circle cx="1150.8" cy="159.5" r="2.05" fill="#000"/>
<circle cx="1158.0" cy="610.3" r="2.05" fill="#000"/>
<circle cx="1146.8" cy="193.6" r="2.05" fill="#000"/>
<circle cx="1162.0" cy="523.2" r="2.05" fill="#0091ff"/>
<circle cx="1159.3" cy="434.6" r="2.05" fill="#000"/>
<circle cx="1142.2" cy="209.9" r="2.05" fill="#0091ff"/>
<circle cx="1157.9" cy="410.1" r="2.05" fill="#0091ff"/>
<circle cx="1149.1" cy="287.5" r="2.05" fill="#000"/>
<circle cx="1147.3" cy="181.3" r="2.05" fill="#000"/>
<circle cx="1140.0" cy="209.9" r="2.05" fill="#000"/>
<circle cx="1150.7" cy="174.5" r="2.05" fill="#000"/>
<circle cx="1160.0" cy="483.7" r="2.05" fill="#0091ff"/>
<circle cx="1162.3" cy="422.4" r="2.05" fill="#0091ff"/>
<circle cx="1130.6" cy="158.1" r="2.05" fill="#000"/>
<circle cx="1130.7" cy="109.1" r="2.05" fill="#000"/>
<circle cx="1162.0" cy="645.7" r="2.05" fill="#000"/>
<circle cx="1152.8" cy="348.8" r="2.05" fill="#000"/>
<circle cx="1149.2" cy="100.9" r="2.05" fill="#000"/>
<circle cx="1143.0" cy="84.6" r="2.05" fill="#0091ff"/>
<circle cx="1165.0" cy="724.7" r="2.05" fill="#000"/>
<circle cx="1137.2" cy="182.7" r="2.05" fill="#0091ff"/>
<circle cx="1151.1" cy="336.6" r="2.05" fill="#000"/>
<circle cx="1158.2" cy="451.0" r="2.05" fill="#0091ff"/>
<circle cx="1159.0" cy="577.6" r="2.05" fill="#000"/>
<circle cx="1166.2" cy="713.8" r="2.05" fill="#0091ff"/>
<circle cx="1146.0" cy="314.8" r="2.05" fill="#000"/>
<circle cx="1158.4" cy="543.6" r="2.05" fill="#000"/>
<circle cx="1135.7" cy="39.7" r="2.05" fill="#000"/>
<circle cx="1162.8" cy="767.0" r="2.05" fill="#0091ff"/>
<circle cx="1153.4" cy="306.6" r="2.05" fill="#0091ff"/>
<circle cx="1152.6" cy="309.3" r="2.05" fill="#000"/>
<circle cx="1166.3" cy="589.9" r="2.05" fill="#0091ff"/>
<circle cx="1163.8" cy="438.7" r="2.05" fill="#000"/>
<circle cx="1160.8" cy="418.3" r="2.05" fill="#0091ff"/>
<circle cx="1160.7" cy="440.1" r="2.05" fill="#000"/>
<circle cx="1174.2" cy="746.5" r="2.05" fill="#000"/>
<circle cx="1161.6" cy="401.9" r="2.05" fill="#000"/>
<circle cx="1169.5" cy="568.1" r="2.05" fill="#0091ff"/>
<circle cx="1165.0" cy="758.8" r="2.05" fill="#0091ff"/>
<circle cx="1128.4" cy="54.6" r="2.05" fill="#000"/>
<circle cx="1160.9" cy="750.6" r="2.05" fill="#000"/>
<circle cx="1163.3" cy="457.8" r="2.05" fill="#000"/>
<circle cx="1166.8" cy="675.7" r="2.05" fill="#000"/>
<circle cx="1169.4" cy="599.4" r="2.05" fill="#000"/>
<circle cx="1166.5" cy="690.7" r="2.05" fill="#000"/>
<circle cx="1142.2" cy="239.9" r="2.05" fill="#000"/>
<circle cx="1175.9" cy="581.7" r="2.05" fill="#000"/>
<circle cx="1184.9" cy="741.1" r="2.05" fill="#000"/>
<circle cx="1150.1" cy="298.4" r="2.05" fill="#0091ff"/>
<circle cx="1165.2" cy="619.9" r="2.05" fill="#0091ff"/>
<circle cx="1166.5" cy="792.8" r="2.05" fill="#000"/>
<circle cx="1164.9" cy="483.7" r="2.05" fill="#000"/>
<circle cx="1167.3" cy="566.7" r="2.05" fill="#000"/>
<circle cx="1127.2" cy="51.9" r="2.05" fill="#000"/>
<circle cx="1166.8" cy="509.5" r="2.05" fill="#0091ff"/>
<circle cx="1162.7" cy="683.9" r="2.05" fill="#000"/>
<circle cx="1143.3" cy="179.9" r="2.05" fill="#0091ff"/>
<circle cx="1159.0" cy="475.5" r="2.05" fill="#000"/>
<circle cx="1137.3" cy="214.0" r="2.05" fill="#0091ff"/>
<circle cx="1149.7" cy="327.0" r="2.05" fill="#000"/>
<circle cx="1159.9" cy="564.0" r="2.05" fill="#000"/>
<circle cx="1160.0" cy="408.8" r="2.05" fill="#000"/>
<circle cx="1159.6" cy="449.6" r="2.05" fill="#000"/>
<circle cx="1153.8" cy="366.5" r="2.05" fill="#000"/>
<circle cx="1176.6" cy="668.9" r="2.05" fill="#000"/>
<circle cx="1179.1" cy="610.3" r="2.05" fill="#000"/>
<circle cx="1164.0" cy="445.5" r="2.05" fill="#0091ff"/>
<circle cx="1161.3" cy="686.6" r="2.05" fill="#0091ff"/>
<circle cx="1152.9" cy="343.4" r="2.05" fill="#000"/>
<circle cx="1151.4" cy="357.0" r="2.05" fill="#000"/>
<circle cx="1160.5" cy="753.3" r="2.05" fill="#000"/>
<circle cx="1163.5" cy="500.0" r="2.05" fill="#000"/>
<circle cx="1167.5" cy="546.3" r="2.05" fill="#0091ff"/>
<circle cx="1127.9" cy="54.6" r="2.05" fill="#0091ff"/>
<circle cx="1152.4" cy="343.4" r="2.05" fill="#000"/>
<circle cx="1143.7" cy="231.7" r="2.05" fill="#0091ff"/>
<circle cx="1187.0" cy="707.0" r="2.05" fill="#0091ff"/>
<circle cx="1151.8" cy="337.9" r="2.05" fill="#000"/>
<circle cx="1177.2" cy="679.8" r="2.05" fill="#000"/>
<circle cx="1161.3" cy="723.4" r="2.05" fill="#000"/>
<circle cx="1151.0" cy="278.0" r="2.05" fill="#000"/>
<circle cx="1147.0" cy="102.3" r="2.05" fill="#000"/>
<circle cx="1165.1" cy="527.2" r="2.05" fill="#0091ff"/>
<circle cx="1152.3" cy="222.2" r="2.05" fill="#000"/>
<circle cx="1160.5" cy="441.4" r="2.05" fill="#000"/>
<circle cx="1157.9" cy="694.8" r="2.05" fill="#000"/>
<circle cx="1164.3" cy="701.6" r="2.05" fill="#000"/>
<circle cx="1143.3" cy="230.3" r="2.05" fill="#000"/>
<circle cx="1158.7" cy="574.9" r="2.05" fill="#000"/>
<circle cx="1146.5" cy="320.2" r="2.05" fill="#0091ff"/>
<circle cx="1182.8" cy="752.0" r="2.05" fill="#000"/>
<circle cx="1150.9" cy="166.3" r="2.05" fill="#000"/>
<circle cx="1165.7" cy="662.1" r="2.05" fill="#0091ff"/>
<circle cx="1163.8" cy="452.3" r="2.05" fill="#0091ff"/>
<circle cx="1152.0" cy="152.7" r="2.05" fill="#0091ff"/>
<circle cx="1160.8" cy="717.9" r="2.05" fill="#0091ff"/>
<circle cx="1161.9" cy="400.6" r="2.05" fill="#0091ff"/>
<circle cx="1161.8" cy="508.2" r="2.05" fill="#000"/>
<circle cx="1140.9" cy="193.6" r="2.05" fill="#000"/>
<circle cx="1165.3" cy="747.9" r="2.05" fill="#000"/>
<circle cx="1160.1" cy="464.6" r="2.05" fill="#0091ff"/>
<circle cx="1162.7" cy="538.1" r="2.05" fill="#000"/>
<circle cx="1150.0" cy="268.5" r="2.05" fill="#000"/>
<circle cx="1159.8" cy="517.7" r="2.05" fill="#0091ff"/>
<circle cx="1166.0" cy="741.1" r="2.05" fill="#000"/>
<circle cx="1136.7" cy="81.9" r="2.05" fill="#000"/>
<circle cx="1163.9" cy="534.1" r="2.05" fill="#0091ff"/>
<circle cx="1130.4" cy="39.7" r="2.05" fill="#000"/>
<circle cx="1141.9" cy="105.0" r="2.05" fill="#000"/>
<circle cx="1165.1" cy="660.7" r="2.05" fill="#0091ff"/>
<circle cx="1173.1" cy="773.8" r="2.05" fill="#000"/>
<circle cx="1173.0" cy="679.8" r="2.05" fill="#000"/>
<circle cx="1182.6" cy="745.2" r="2.05" fill="#000"/>
<circle cx="1138.7" cy="133.6" r="2.05" fill="#000"/>
<circle cx="1159.4" cy="487.8" r="2.05" fill="#000"/>
<circle cx="1115.6" cy="79.1" r="2.05" fill="#0091ff"/>
<circle cx="1153.7" cy="271.2" r="2.05" fill="#000"/>
<circle cx="1160.8" cy="474.1" r="2.05" fill="#000"/>
<circle cx="1147.6" cy="188.1" r="2.05" fill="#0091ff"/>
<circle cx="1182.2" cy="761.5" r="2.05" fill="#0091ff"/>
<circle cx="1135.0" cy="186.7" r="2.05" fill="#000"/>
<circle cx="1158.3" cy="494.6" r="2.05" fill="#000"/>
<circle cx="1160.4" cy="395.1" r="2.05" fill="#000"/>
<circle cx="1145.5" cy="144.5" r="2.05" fill="#0091ff"/>
<circle cx="1153.3" cy="374.7" r="2.05" fill="#0091ff"/>
<circle cx="1172.9" cy="633.5" r="2.05" fill="#000"/>
<circle cx="1143.3" cy="92.8" r="2.05" fill="#0091ff"/>
<circle cx="1154.0" cy="295.7" r="2.05" fill="#000"/>
<circle cx="1158.8" cy="474.1" r="2.05" fill="#000"/>
<circle cx="1164.9" cy="464.6" r="2.05" fill="#0091ff"/>
<circle cx="1165.7" cy="557.2" r="2.05" fill="#000"/>
<circle cx="1148.3" cy="239.9" r="2.05" fill="#0091ff"/>
<circle cx="1160.2" cy="700.2" r="2.05" fill="#0091ff"/>
<circle cx="1162.1" cy="396.5" r="2.05" fill="#000"/>
<circle cx="1161.6" cy="453.7" r="2.05" fill="#000"/>
<circle cx="1162.7" cy="504.1" r="2.05" fill="#0091ff"/>
<circle cx="1164.1" cy="460.5" r="2.05" fill="#000"/>
<circle cx="1165.2" cy="750.6" r="2.05" fill="#000"/>
<circle cx="1165.5" cy="594.0" r="2.05" fill="#0091ff"/>
<circle cx="1147.2" cy="90.0" r="2.05" fill="#0091ff"/>
<circle cx="1150.7" cy="171.8" r="2.05" fill="#000"/>
<circle cx="1142.4" cy="178.6" r="2.05" fill="#0091ff"/>
<circle cx="1188.2" cy="765.6" r="2.05" fill="#0091ff"/>
<circle cx="1158.3" cy="466.0" r="2.05" fill="#0091ff"/>
<circle cx="1149.5" cy="218.1" r="2.05" fill="#0091ff"/>
<circle cx="1175.5" cy="640.3" r="2.05" fill="#0091ff"/>
<circle cx="1168.4" cy="592.6" r="2.05" fill="#000"/>
<circle cx="1161.8" cy="647.1" r="2.05" fill="#000"/>
<circle cx="1165.8" cy="528.6" r="2.05" fill="#000"/>
<circle cx="1150.6" cy="125.5" r="2.05" fill="#000"/>
<circle cx="1161.7" cy="558.6" r="2.05" fill="#000"/>
<circle cx="1166.1" cy="643.0" r="2.05" fill="#000"/>
<circle cx="1163.0" cy="553.1" r="2.05" fill="#0091ff"/>
<circle cx="1201.5" cy="792.8" r="2.05" fill="#0091ff"/>
<circle cx="1165.6" cy="509.5" r="2.05" fill="#000"/>
<circle cx="1135.1" cy="50.5" r="2.05" fill="#0091ff"/>
<circle cx="1160.6" cy="400.6" r="2.05" fill="#000"/>
<circle cx="1152.6" cy="261.7" r="2.05" fill="#0091ff"/>
<circle cx="1152.2" cy="374.7" r="2.05" fill="#000"/>
<circle cx="1146.4" cy="260.3" r="2.05" fill="#0091ff"/>
<circle cx="1163.5" cy="461.9" r="2.05" fill="#000"/>
<circle cx="1145.4" cy="231.7" r="2.05" fill="#0091ff"/>
<circle cx="1159.7" cy="397.9" r="2.05" fill="#000"/>
<circle cx="1174.2" cy="726.1" r="2.05" fill="#000"/>
<circle cx="1164.1" cy="599.4" r="2.05" fill="#0091ff"/>
<circle cx="1153.6" cy="258.9" r="2.05" fill="#0091ff"/>
<circle cx="1171.7" cy="715.2" r="2.05" fill="#000"/>
<circle cx="1173.5" cy="772.4" r="2.05" fill="#000"/>
<circle cx="1159.1" cy="615.8" r="2.05" fill="#0091ff"/>
<circle cx="1146.7" cy="207.2" r="2.05" fill="#000"/>
<circle cx="1137.0" cy="140.4" r="2.05" fill="#000"/>
<circle cx="1149.7" cy="272.6" r="2.05" fill="#000"/>
<circle cx="1170.1" cy="626.7" r="2.05" fill="#000"/>
<circle cx="1152.2" cy="188.1" r="2.05" fill="#0091ff"/>
<circle cx="1150.6" cy="257.6" r="2.05" fill="#0091ff"/>
<circle cx="1182.0" cy="683.9" r="2.05" fill="#000"/>
<circle cx="1171.4" cy="664.8" r="2.05" fill="#0091ff"/>
<circle cx="1158.2" cy="427.8" r="2.05" fill="#0091ff"/>
<circle cx="1153.8" cy="282.1" r="2.05" fill="#0091ff"/>
<circle cx="1172.0" cy="771.0" r="2.05" fill="#000"/>
<circle cx="1159.1" cy="719.3" r="2.05" fill="#000"/>
<circle cx="1142.6" cy="204.5" r="2.05" fill="#000"/>
<circle cx="1129.5" cy="106.4" r="2.05" fill="#0091ff"/>
<circle cx="1164.4" cy="434.6" r="2.05" fill="#0091ff"/>
<circle cx="1161.2" cy="467.3" r="2.05" fill="#000"/>
<circle cx="1146.7" cy="58.7" r="2.05" fill="#000"/>
<circle cx="1158.8" cy="421.0" r="2.05" fill="#000"/>
<circle cx="1152.3" cy="363.8" r="2.05" fill="#0091ff"/>
<circle cx="1161.1" cy="677.1" r="2.05" fill="#0091ff"/>
<circle cx="1175.1" cy="658.0" r="2.05" fill="#000"/>
<circle cx="1167.7" cy="643.0" r="2.05" fill="#000"/>
<circle cx="1150.6" cy="344.7" r="2.05" fill="#0091ff"/>
<circle cx="1160.8" cy="648.5" r="2.05" fill="#000"/>
<circle cx="1152.2" cy="175.9" r="2.05" fill="#0091ff"/>
<circle cx="1159.6" cy="528.6" r="2.05" fill="#000"/>
<circle cx="1143.2" cy="166.3" r="2.05" fill="#0091ff"/>
<circle cx="1162.6" cy="467.3" r="2.05" fill="#000"/>
<circle cx="1163.0" cy="569.5" r="2.05" fill="#000"/>
<circle cx="1140.0" cy="57.4" r="2.05" fill="#000"/>
<circle cx="1146.9" cy="143.2" r="2.05" fill="#0091ff"/>
<circle cx="1198.6" cy="750.6" r="2.05" fill="#000"/>
<circle cx="1151.8" cy="223.5" r="2.05" fill="#0091ff"/>
<circle cx="1169.1" cy="633.5" r="2.05" fill="#000"/>
<circle cx="1174.2" cy="738.4" r="2.05" fill="#000"/>
<circle cx="1148.7" cy="275.3" r="2.05" fill="#000"/>
<circle cx="1152.0" cy="252.1" r="2.05" fill="#000"/>
<circle cx="1149.3" cy="328.4" r="2.05" fill="#000"/>
<circle cx="1162.5" cy="730.2" r="2.05" fill="#000"/>
<circle cx="1159.8" cy="500.0" r="2.05" fill="#000"/>
<circle cx="1168.9" cy="580.4" r="2.05" fill="#000"/>
<circle cx="1149.0" cy="291.6" r="2.05" fill="#000"/>
<circle cx="1160.8" cy="617.1" r="2.05" fill="#000"/>
<circle cx="1166.3" cy="624.0" r="2.05" fill="#000"/>
<circle cx="1162.7" cy="554.5" r="2.05" fill="#000"/>
<circle cx="1146.9" cy="207.2" r="2.05" fill="#000"/>
<circle cx="1144.4" cy="224.9" r="2.05" fill="#0091ff"/>
<circle cx="1163.8" cy="573.6" r="2.05" fill="#000"/>
<circle cx="1161.8" cy="754.7" r="2.05" fill="#000"/>
<circle cx="1163.6" cy="500.0" r="2.05" fill="#000"/>
<circle cx="1171.3" cy="574.9" r="2.05" fill="#000"/>
<circle cx="1163.5" cy="487.8" r="2.05" fill="#0091ff"/>
<circle cx="1154.2" cy="295.7" r="2.05" fill="#000"/>
<circle cx="1153.3" cy="350.2" r="2.05" fill="#000"/>
<circle cx="1164.0" cy="649.8" r="2.05" fill="#0091ff"/>
<circle cx="1151.5" cy="328.4" r="2.05" fill="#000"/>
<circle cx="1161.0" cy="550.4" r="2.05" fill="#0091ff"/>
<circle cx="1161.9" cy="538.1" r="2.05" fill="#0091ff"/>
<circle cx="1125.9" cy="124.1" r="2.05" fill="#0091ff"/>
<circle cx="1151.7" cy="354.3" r="2.05" fill="#000"/>
<circle cx="1147.8" cy="199.0" r="2.05" fill="#0091ff"/>
<circle cx="1149.9" cy="275.3" r="2.05" fill="#000"/>
<circle cx="1159.6" cy="438.7" r="2.05" fill="#000"/>
<circle cx="1151.5" cy="350.2" r="2.05" fill="#000"/>
<circle cx="1168.2" cy="536.8" r="2.05" fill="#000"/>
<circle cx="1133.8" cy="185.4" r="2.05" fill="#0091ff"/>
<circle cx="1149.9" cy="156.8" r="2.05" fill="#000"/>
<circle cx="1158.0" cy="536.8" r="2.05" fill="#0091ff"/>
<circle cx="1165.5" cy="668.9" r="2.05" fill="#000"/>
<circle cx="1159.6" cy="384.2" r="2.05" fill="#000"/>
<circle cx="1150.2" cy="298.4" r="2.05" fill="#000"/>
<circle cx="1149.1" cy="237.1" r="2.05" fill="#0091ff"/>
<circle cx="1146.5" cy="181.3" r="2.05" fill="#0091ff"/>
<circle cx="1168.8" cy="747.9" r="2.05" fill="#0091ff"/>
<circle cx="1179.6" cy="686.6" r="2.05" fill="#000"/>
<circle cx="1146.3" cy="214.0" r="2.05" fill="#0091ff"/>
<circle cx="1161.3" cy="478.2" r="2.05" fill="#000"/>
<circle cx="1112.0" cy="57.4" r="2.05" fill="#0091ff"/>
<circle cx="1159.2" cy="475.5" r="2.05" fill="#000"/>
<circle cx="1159.5" cy="401.9" r="2.05" fill="#0091ff"/>
<circle cx="1164.6" cy="576.3" r="2.05" fill="#000"/>
<circle cx="1136.7" cy="132.3" r="2.05" fill="#0091ff"/>
<circle cx="1149.4" cy="271.2" r="2.05" fill="#000"/>
<circle cx="1158.8" cy="685.2" r="2.05" fill="#0091ff"/>
<circle cx="1166.4" cy="683.9" r="2.05" fill="#000"/>
<circle cx="1118.0" cy="61.4" r="2.05" fill="#0091ff"/>
<circle cx="1151.0" cy="333.8" r="2.05" fill="#000"/>
<circle cx="1169.3" cy="758.8" r="2.05" fill="#000"/>
<circle cx="1168.8" cy="501.4" r="2.05" fill="#000"/>
<circle cx="1130.9" cy="163.6" r="2.05" fill="#0091ff"/>
<circle cx="1162.3" cy="562.7" r="2.05" fill="#0091ff"/>
<circle cx="1161.5" cy="734.3" r="2.05" fill="#000"/>
<circle cx="1166.4" cy="565.4" r="2.05" fill="#000"/>
<circle cx="1160.0" cy="498.6" r="2.05" fill="#000"/>
<circle cx="1158.2" cy="527.2" r="2.05" fill="#000"/>
<circle cx="1163.3" cy="482.3" r="2.05" fill="#000"/>
<circle cx="1163.7" cy="656.6" r="2.05" fill="#000"/>
<circle cx="1164.9" cy="630.8" r="2.05" fill="#0091ff"/>
<circle cx="1168.5" cy="636.2" r="2.05" fill="#0091ff"/>
<circle cx="1144.7" cy="279.4" r="2.05" fill="#000"/>
<circle cx="1149.8" cy="303.9" r="2.05" fill="#0091ff"/>
<circle cx="1153.3" cy="348.8" r="2.05" fill="#0091ff"/>
<circle cx="1161.1" cy="446.9" r="2.05" fill="#000"/>
<circle cx="1161.3" cy="487.8" r="2.05" fill="#000"/>
<circle cx="1150.5" cy="366.5" r="2.05" fill="#000"/>
<circle cx="1126.9" cy="65.5" r="2.05" fill="#0091ff"/>
<circle cx="1151.5" cy="235.8" r="2.05" fill="#000"/>
<circle cx="1171.7" cy="675.7" r="2.05" fill="#000"/>
<circle cx="1164.2" cy="513.6" r="2.05" fill="#000"/>
<circle cx="1161.9" cy="542.2" r="2.05" fill="#000"/>
<circle cx="1128.7" cy="87.3" r="2.05" fill="#000"/>
<circle cx="1152.4" cy="275.3" r="2.05" fill="#000"/>
<circle cx="1170.2" cy="724.7" r="2.05" fill="#000"/>
<circle cx="1166.2" cy="723.4" r="2.05" fill="#000"/>
<circle cx="1159.4" cy="455.1" r="2.05" fill="#000"/>
<circle cx="1161.3" cy="418.3" r="2.05" fill="#0091ff"/>
<circle cx="1166.1" cy="621.2" r="2.05" fill="#000"/>
<circle cx="1159.3" cy="634.8" r="2.05" fill="#0091ff"/>
<circle cx="1147.4" cy="220.8" r="2.05" fill="#000"/>
<circle cx="1175.1" cy="698.9" r="2.05" fill="#000"/>
<circle cx="1150.6" cy="86.0" r="2.05" fill="#0091ff"/>
<circle cx="1151.4" cy="242.6" r="2.05" fill="#0091ff"/>
<circle cx="1123.2" cy="120.0" r="2.05" fill="#000"/>
<circle cx="1149.8" cy="287.5" r="2.05" fill="#0091ff"/>
<circle cx="1153.5" cy="316.1" r="2.05" fill="#000"/>
<circle cx="1149.6" cy="222.2" r="2.05" fill="#000"/>
<circle cx="1151.1" cy="124.1" r="2.05" fill="#000"/>
<circle cx="1160.6" cy="596.7" r="2.05" fill="#000"/>
<circle cx="1161.2" cy="532.7" r="2.05" fill="#000"/>
<circle cx="1158.4" cy="728.8" r="2.05" fill="#000"/>
<circle cx="1162.1" cy="653.9" r="2.05" fill="#000"/>
<circle cx="1152.3" cy="308.0" r="2.05" fill="#0091ff"/>
<circle cx="1150.8" cy="283.4" r="2.05" fill="#000"/>
<circle cx="1160.0" cy="764.2" r="2.05" fill="#0091ff"/>
<circle cx="1158.3" cy="517.7" r="2.05" fill="#000"/>
<circle cx="1148.2" cy="115.9" r="2.05" fill="#0091ff"/>
<circle cx="1161.7" cy="425.1" r="2.05" fill="#000"/>
<circle cx="1169.0" cy="534.1" r="2.05" fill="#000"/>
<circle cx="1161.7" cy="485.0" r="2.05" fill="#000"/>
<circle cx="1150.4" cy="290.3" r="2.05" fill="#000"/>
<circle cx="1160.6" cy="400.6" r="2.05" fill="#000"/>
<circle cx="1172.4" cy="682.5" r="2.05" fill="#000"/>
<circle cx="1154.2" cy="313.4" r="2.05" fill="#000"/>
<circle cx="1161.6" cy="694.8" r="2.05" fill="#000"/>
<circle cx="1172.2" cy="666.2" r="2.05" fill="#000"/>
<circle cx="1159.5" cy="411.5" r="2.05" fill="#000"/>
<circle cx="1161.3" cy="745.2" r="2.05" fill="#000"/>
<circle cx="1159.7" cy="625.3" r="2.05" fill="#000"/>
<circle cx="1161.3" cy="513.6" r="2.05" fill="#000"/>
<circle cx="1149.6" cy="209.9" r="2.05" fill="#000"/>
<circle cx="1160.8" cy="682.5" r="2.05" fill="#000"/>
<circle cx="1163.3" cy="677.1" r="2.05" fill="#0091ff"/>
</g>
<rect x="971.15" y="31.25" width="370.90" height="770.00" fill="none" stroke="#000" stroke-width="6.4"/>
<line x1="951.4" y1="794.20" x2="971.15" y2="794.20" stroke="#000" stroke-width="6.5"/>
<line x1="951.4" y1="726.10" x2="971.15" y2="726.10" stroke="#000" stroke-width="6.5"/>
<line x1="951.4" y1="658.00" x2="971.15" y2="658.00" stroke="#000" stroke-width="6.5"/>
<line x1="951.4" y1="589.90" x2="971.15" y2="589.90" stroke="#000" stroke-width="6.5"/>
<line x1="951.4" y1="521.80" x2="971.15" y2="521.80" stroke="#000" stroke-width="6.5"/>
<line x1="951.4" y1="453.70" x2="971.15" y2="453.70" stroke="#000" stroke-width="6.5"/>
<line x1="951.4" y1="385.60" x2="971.15" y2="385.60" stroke="#000" stroke-width="6.5"/>
<line x1="951.4" y1="317.50" x2="971.15" y2="317.50" stroke="#000" stroke-width="6.5"/>
<line x1="951.4" y1="249.40" x2="971.15" y2="249.40" stroke="#000" stroke-width="6.5"/>
<line x1="951.4" y1="181.30" x2="971.15" y2="181.30" stroke="#000" stroke-width="6.5"/>
<line x1="951.4" y1="113.20" x2="971.15" y2="113.20" stroke="#000" stroke-width="6.5"/>
<line x1="951.4" y1="45.10" x2="971.15" y2="45.10" stroke="#000" stroke-width="6.5"/>
<line x1="971.15" y1="801.25" x2="971.15" y2="821.5" stroke="#000" stroke-width="6.2"/>
<line x1="1032.97" y1="801.25" x2="1032.97" y2="821.5" stroke="#000" stroke-width="6.2"/>
<line x1="1094.78" y1="801.25" x2="1094.78" y2="821.5" stroke="#000" stroke-width="6.2"/>
<line x1="1156.60" y1="801.25" x2="1156.60" y2="821.5" stroke="#000" stroke-width="6.2"/>
<line x1="1218.41" y1="801.25" x2="1218.41" y2="821.5" stroke="#000" stroke-width="6.2"/>
<line x1="1280.23" y1="801.25" x2="1280.23" y2="821.5" stroke="#000" stroke-width="6.2"/>
<line x1="1342.05" y1="801.25" x2="1342.05" y2="821.5" stroke="#000" stroke-width="6.2"/>
<g transform="translate(933.28,803.89) scale(0.9508,1)" fill="#000">
<polygon points="6.69,0.00 11.07,0.00 11.07,-20.71 7.47,-20.71 4.85,-17.86 0.96,-15.71 0.96,-11.80 4.26,-13.30 6.69,-15.01"/>
</g>
<g transform="translate(917.36,735.78) scale(0.9508,1)" fill="#000">
<text font-size="30.10" font-weight="bold">5&#8199;</text>
<polygon points="23.43,0.00 27.81,0.00 27.81,-20.71 24.21,-20.71 21.59,-17.86 17.70,-15.71 17.70,-11.80 21.00,-13.30 23.43,-15.01"/>
</g>
<g transform="translate(901.44,667.94) scale(0.9508,1)" fill="#000">
<text font-size="30.10" font-weight="bold">&#8199;0&#8199;</text>
<polygon points="6.69,0.00 11.07,0.00 11.07,-20.71 7.47,-20.71 4.85,-17.86 0.96,-15.71 0.96,-11.80 4.26,-13.30 6.69,-15.01"/>
<polygon points="40.17,0.00 44.55,0.00 44.55,-20.71 40.95,-20.71 38.33,-17.86 34.44,-15.71 34.44,-11.80 37.74,-13.30 40.17,-15.01"/>
</g>
<g transform="translate(901.44,599.80) scale(0.9508,1)" fill="#000">
<text font-size="30.10" font-weight="bold">&#8199;5&#8199;</text>
<polygon points="6.69,0.00 11.07,0.00 11.07,-20.71 7.47,-20.71 4.85,-17.86 0.96,-15.71 0.96,-11.80 4.26,-13.30 6.69,-15.01"/>
<polygon points="40.17,0.00 44.55,0.00 44.55,-20.71 40.95,-20.71 38.33,-17.86 34.44,-15.71 34.44,-11.80 37.74,-13.30 40.17,-15.01"/>
</g>
<g transform="translate(901.44,531.96) scale(0.9508,1)" fill="#000">
<text font-size="30.10" font-weight="bold">20&#8199;</text>
<polygon points="40.17,0.00 44.55,0.00 44.55,-20.71 40.95,-20.71 38.33,-17.86 34.44,-15.71 34.44,-11.80 37.74,-13.30 40.17,-15.01"/>
</g>
<g transform="translate(901.44,463.97) scale(0.9508,1)" fill="#000">
<text font-size="30.10" font-weight="bold">25&#8199;</text>
<polygon points="40.17,0.00 44.55,0.00 44.55,-20.71 40.95,-20.71 38.33,-17.86 34.44,-15.71 34.44,-11.80 37.74,-13.30 40.17,-15.01"/>
</g>
<g transform="translate(901.44,395.98) scale(0.9508,1)" fill="#000">
<text font-size="30.10" font-weight="bold">30&#8199;</text>
<polygon points="40.17,0.00 44.55,0.00 44.55,-20.71 40.95,-20.71 38.33,-17.86 34.44,-15.71 34.44,-11.80 37.74,-13.30 40.17,-15.01"/>
</g>
<g transform="translate(901.44,327.99) scale(0.9508,1)" fill="#000">
<text font-size="30.10" font-weight="bold">35&#8199;</text>
<polygon points="40.17,0.00 44.55,0.00 44.55,-20.71 40.95,-20.71 38.33,-17.86 34.44,-15.71 34.44,-11.80 37.74,-13.30 40.17,-15.01"/>
</g>
<g transform="translate(901.44,260.00) scale(0.9508,1)" fill="#000">
<text font-size="30.10" font-weight="bold">40&#8199;</text>
<polygon points="40.17,0.00 44.55,0.00 44.55,-20.71 40.95,-20.71 38.33,-17.86 34.44,-15.71 34.44,-11.80 37.74,-13.30 40.17,-15.01"/>
</g>
<g transform="translate(901.44,191.86) scale(0.9508,1)" fill="#000">
<text font-size="30.10" font-weight="bold">45&#8199;</text>
<polygon points="40.17,0.00 44.55,0.00 44.55,-20.71 40.95,-20.71 38.33,-17.86 34.44,-15.71 34.44,-11.80 37.74,-13.30 40.17,-15.01"/>
</g>
<g transform="translate(901.44,124.02) scale(0.9508,1)" fill="#000">
<text font-size="30.10" font-weight="bold">50&#8199;</text>
<polygon points="40.17,0.00 44.55,0.00 44.55,-20.71 40.95,-20.71 38.33,-17.86 34.44,-15.71 34.44,-11.80 37.74,-13.30 40.17,-15.01"/>
</g>
<g transform="translate(901.44,55.88) scale(0.9508,1)" fill="#000">
<text font-size="30.10" font-weight="bold">55&#8199;</text>
<polygon points="40.17,0.00 44.55,0.00 44.55,-20.71 40.95,-20.71 38.33,-17.86 34.44,-15.71 34.44,-11.80 37.74,-13.30 40.17,-15.01"/>
</g>
<text transform="translate(958.14,851.88) scale(0.9661,1)" font-size="30.10" font-weight="bold" fill="#000">-6</text>
<text transform="translate(1019.52,851.88) scale(0.9661,1)" font-size="30.10" font-weight="bold" fill="#000">-4</text>
<text transform="translate(1081.84,852.03) scale(0.9661,1)" font-size="30.10" font-weight="bold" fill="#000">-2</text>
<text transform="translate(1148.53,851.88) scale(0.9661,1)" font-size="30.10" font-weight="bold" fill="#000">0</text>
<text transform="translate(1210.42,852.03) scale(0.9661,1)" font-size="30.10" font-weight="bold" fill="#000">2</text>
<text transform="translate(1272.01,851.88) scale(0.9661,1)" font-size="30.10" font-weight="bold" fill="#000">4</text>
<text transform="translate(1333.98,851.88) scale(0.9661,1)" font-size="30.10" font-weight="bold" fill="#000">6</text>
<text transform="translate(882.10,757.99) rotate(-90) scale(0.9729,1)" font-size="31.80" font-weight="normal" fill="#000">SNVs Ranked by Avg. Log2(Alt/Ref allele activity)</text>
<text transform="translate(984.51,899.80) scale(0.9226,1)" font-size="32.40" font-weight="normal" fill="#000">Log2(Alt/Ref allele activity)</text>
<text transform="translate(1241.92,73.90) scale(0.9514,1)" font-size="32.00" font-weight="normal" fill="#000">n=556</text>
<text transform="translate(1246.24,111.70) scale(0.9470,1)" font-size="32.00" font-weight="normal" fill="#000">SNVs</text>
<g transform="translate(983.62,754.88) scale(0.8983,1)" fill="#0091ff">
<text font-size="21.77" font-weight="normal">Cell line = 2&#8199;0</text>
<polygon points="120.23,-0.00 122.46,-0.00 122.46,-14.98 121.15,-14.98 120.50,-13.99 119.45,-12.98 118.07,-12.03 116.48,-11.23 116.48,-9.41 117.54,-9.82 118.66,-10.38 119.61,-10.99 120.23,-11.50"/>
</g>
<text transform="translate(983.32,786.30) scale(0.9127,1)" font-size="21.60" font-weight="normal" fill="#000">Primary cells = 346</text>
<line x1="233.0" y1="694.9" x2="233.0" y2="1224.4" stroke="#a6a6a6" stroke-width="2.0"/>
<line x1="230.6" y1="1201.0" x2="988.9" y2="1201.0" stroke="#686868" stroke-width="2.0"/>
<line x1="230.1" y1="1063.00" x2="233" y2="1063.00" stroke="#555" stroke-width="1.5"/>
<line x1="230.1" y1="925.30" x2="233" y2="925.30" stroke="#555" stroke-width="1.5"/>
<line x1="230.1" y1="787.60" x2="233" y2="787.60" stroke="#555" stroke-width="1.5"/>
<text transform="translate(213.79,1196.48) scale(1.0200,1)" font-size="24.00" font-weight="normal" fill="#000">0</text>
<g transform="translate(186.62,1058.78) scale(1.0200,1)" fill="#000">
<text font-size="24.00" font-weight="normal">&#8199;00</text>
<polygon points="6.48,-0.00 8.94,-0.00 8.94,-16.51 7.50,-16.51 6.77,-15.43 5.62,-14.31 4.10,-13.26 2.34,-12.38 2.34,-10.38 3.52,-10.82 4.75,-11.44 5.80,-12.11 6.48,-12.68"/>
</g>
<text transform="translate(186.62,921.08) scale(1.0200,1)" font-size="24.00" font-weight="normal" fill="#000">200</text>
<text transform="translate(186.62,783.38) scale(1.0200,1)" font-size="24.00" font-weight="normal" fill="#000">300</text>
<rect x="303.15" y="762.51" width="60.3" height="437.89" fill="#3b3b3b"/>
<rect x="404.02" y="1168.73" width="60.3" height="31.67" fill="#3b3b3b"/>
<rect x="504.89" y="1193.52" width="60.3" height="6.88" fill="#3b3b3b"/>
<rect x="605.76" y="1087.49" width="60.3" height="112.91" fill="#3b3b3b"/>
<rect x="706.63" y="1095.75" width="60.3" height="104.65" fill="#3b3b3b"/>
<rect x="807.50" y="1130.17" width="60.3" height="70.23" fill="#3b3b3b"/>
<rect x="908.37" y="1199.02" width="60.3" height="1.38" fill="#3b3b3b"/>
<g transform="translate(312.83,743.85) scale(0.9689,1)" fill="#000">
<text font-size="25.07" font-weight="normal">3&#8199;8</text>
<polygon points="20.71,-0.00 23.28,-0.00 23.28,-17.25 21.78,-17.25 21.02,-16.12 19.82,-14.95 18.23,-13.86 16.39,-12.94 16.39,-10.84 17.62,-11.31 18.90,-11.95 20.00,-12.65 20.71,-13.24"/>
</g>
<text transform="translate(420.44,1146.25) scale(1.0021,1)" font-size="25.07" font-weight="normal" fill="#000">23</text>
<text transform="translate(526.35,1173.55) scale(1.0710,1)" font-size="24.57" font-weight="normal" fill="#000">5</text>
<text transform="translate(623.78,1065.45) scale(1.0171,1)" font-size="24.51" font-weight="normal" fill="#000">82</text>
<text transform="translate(723.25,1077.45) scale(0.9832,1)" font-size="25.35" font-weight="normal" fill="#000">76</text>
<g transform="translate(824.06,1110.06) scale(1.0749,1)" fill="#000">
<text font-size="24.29" font-weight="normal">5&#8199;</text>
<polygon points="20.06,-0.00 22.55,-0.00 22.55,-16.71 21.10,-16.71 20.36,-15.61 19.20,-14.48 17.66,-13.42 15.88,-12.53 15.88,-10.50 17.06,-10.95 18.31,-11.58 19.38,-12.26 20.06,-12.83"/>
</g>
<g transform="translate(932.54,1179.21) scale(1.0200,1)" fill="#000">
<polygon points="6.48,-0.00 8.94,-0.00 8.94,-16.51 7.50,-16.51 6.77,-15.43 5.62,-14.31 4.10,-13.26 2.34,-12.38 2.34,-10.38 3.52,-10.82 4.75,-11.44 5.80,-12.11 6.48,-12.68"/>
</g>
<g transform="translate(671.71,996.75) scale(0.9621,1)" fill="#006eff">
<text font-size="24.76" font-weight="normal">Cell Line=2&#8199;0 SNVs</text>
<polygon points="131.27,-0.00 133.81,-0.00 133.81,-17.04 132.33,-17.04 131.58,-15.92 130.39,-14.77 128.82,-13.69 127.01,-12.78 127.01,-10.71 128.21,-11.17 129.48,-11.80 130.57,-12.50 131.27,-13.08"/>
</g>
<line x1="603.2" y1="1015.1" x2="966.2" y2="1015.1" stroke="#686868" stroke-width="2.0"/>
<rect x="232.7" y="1226.2" width="760.8" height="68.7" fill="#f7f7f7"/>
<rect x="232.7" y="1365.4" width="760.8" height="69.2" fill="#f7f7f7"/>
<circle cx="333.30" cy="1260.8" r="7.9" fill="#e4e4e4"/>
<circle cx="333.30" cy="1330.3" r="7.9" fill="#e4e4e4"/>
<circle cx="434.17" cy="1330.3" r="7.9" fill="#e4e4e4"/>
<circle cx="535.04" cy="1330.3" r="7.9" fill="#e4e4e4"/>
<circle cx="535.04" cy="1400.1" r="7.9" fill="#e4e4e4"/>
<circle cx="736.78" cy="1260.8" r="7.9" fill="#e4e4e4"/>
<circle cx="837.65" cy="1260.8" r="7.9" fill="#e4e4e4"/>
<circle cx="837.65" cy="1400.1" r="7.9" fill="#e4e4e4"/>
<circle cx="938.52" cy="1400.1" r="7.9" fill="#e4e4e4"/>
<circle cx="333.30" cy="1400.1" r="9.0" fill="#fff"/>
<circle cx="434.17" cy="1260.8" r="9.0" fill="#fff"/>
<circle cx="434.17" cy="1400.1" r="9.0" fill="#fff"/>
<circle cx="535.04" cy="1260.8" r="9.0" fill="#fff"/>
<circle cx="635.91" cy="1260.8" r="9.0" fill="#fff"/>
<circle cx="635.91" cy="1330.3" r="9.0" fill="#fff"/>
<circle cx="635.91" cy="1400.1" r="9.0" fill="#fff"/>
<circle cx="736.78" cy="1330.3" r="9.0" fill="#fff"/>
<circle cx="736.78" cy="1400.1" r="9.0" fill="#fff"/>
<circle cx="837.65" cy="1330.3" r="9.0" fill="#fff"/>
<circle cx="938.52" cy="1260.8" r="9.0" fill="#fff"/>
<circle cx="938.52" cy="1330.3" r="9.0" fill="#fff"/>
<circle cx="333.30" cy="1400.1" r="7.7" fill="#3b3b3b" stroke="#222" stroke-width="0.8"/>
<line x1="434.17" y1="1260.8" x2="434.17" y2="1400.1" stroke="#fff" stroke-width="4.4"/>
<line x1="434.17" y1="1260.8" x2="434.17" y2="1400.1" stroke="#6b6b6b" stroke-width="2.1"/>
<circle cx="434.17" cy="1260.8" r="7.7" fill="#3b3b3b" stroke="#222" stroke-width="0.8"/>
<circle cx="434.17" cy="1400.1" r="7.7" fill="#3b3b3b" stroke="#222" stroke-width="0.8"/>
<circle cx="535.04" cy="1260.8" r="7.7" fill="#3b3b3b" stroke="#222" stroke-width="0.8"/>
<line x1="635.91" y1="1260.8" x2="635.91" y2="1400.1" stroke="#fff" stroke-width="4.4"/>
<line x1="635.91" y1="1260.8" x2="635.91" y2="1400.1" stroke="#6b6b6b" stroke-width="2.1"/>
<circle cx="635.91" cy="1260.8" r="7.7" fill="#3b3b3b" stroke="#222" stroke-width="0.8"/>
<circle cx="635.91" cy="1330.3" r="7.7" fill="#3b3b3b" stroke="#222" stroke-width="0.8"/>
<circle cx="635.91" cy="1400.1" r="7.7" fill="#3b3b3b" stroke="#222" stroke-width="0.8"/>
<line x1="736.78" y1="1330.3" x2="736.78" y2="1400.1" stroke="#fff" stroke-width="4.4"/>
<line x1="736.78" y1="1330.3" x2="736.78" y2="1400.1" stroke="#6b6b6b" stroke-width="2.1"/>
<circle cx="736.78" cy="1330.3" r="7.7" fill="#3b3b3b" stroke="#222" stroke-width="0.8"/>
<circle cx="736.78" cy="1400.1" r="7.7" fill="#3b3b3b" stroke="#222" stroke-width="0.8"/>
<circle cx="837.65" cy="1330.3" r="7.7" fill="#3b3b3b" stroke="#222" stroke-width="0.8"/>
<line x1="938.52" y1="1260.8" x2="938.52" y2="1330.3" stroke="#fff" stroke-width="4.4"/>
<line x1="938.52" y1="1260.8" x2="938.52" y2="1330.3" stroke="#6b6b6b" stroke-width="2.1"/>
<circle cx="938.52" cy="1260.8" r="7.7" fill="#3b3b3b" stroke="#222" stroke-width="0.8"/>
<circle cx="938.52" cy="1330.3" r="7.7" fill="#3b3b3b" stroke="#222" stroke-width="0.8"/>
<text transform="translate(115.32,1242.50) scale(1.0271,1)" font-size="25.30" font-weight="normal" fill="#000">PDX</text>
<g transform="translate(108.19,1273.00) scale(0.9789,1)" fill="#000">
<text font-size="25.30" font-weight="normal">n=&#8199;&#8199;&#8199;</text>
<polygon points="35.68,-0.00 38.27,-0.00 38.27,-17.41 36.75,-17.41 35.99,-16.27 34.78,-15.09 33.17,-13.98 31.32,-13.05 31.32,-10.94 32.55,-11.41 33.85,-12.06 34.96,-12.77 35.68,-13.36"/>
<polygon points="49.75,-0.00 52.34,-0.00 52.34,-17.41 50.82,-17.41 50.06,-16.27 48.85,-15.09 47.24,-13.98 45.39,-13.05 45.39,-10.94 46.62,-11.41 47.92,-12.06 49.03,-12.77 49.75,-13.36"/>
<polygon points="63.82,-0.00 66.41,-0.00 66.41,-17.41 64.89,-17.41 64.13,-16.27 62.92,-15.09 61.31,-13.98 59.46,-13.05 59.46,-10.94 60.69,-11.41 61.99,-12.06 63.10,-12.77 63.82,-13.36"/>
</g>
<text transform="translate(97.72,1311.50) scale(1.0144,1)" font-size="25.30" font-weight="normal" fill="#000">Cell line</text>
<g transform="translate(106.83,1342.40) scale(1.0155,1)" fill="#000">
<text font-size="25.30" font-weight="normal">n=2&#8199;0</text>
<polygon points="49.75,-0.00 52.34,-0.00 52.34,-17.41 50.82,-17.41 50.06,-16.27 48.85,-15.09 47.24,-13.98 45.39,-13.05 45.39,-10.94 46.62,-11.41 47.92,-12.06 49.03,-12.77 49.75,-13.36"/>
</g>
<text transform="translate(57.76,1381.30) scale(1.0079,1)" font-size="25.30" font-weight="normal" fill="#000">Patient Sample</text>
<text transform="translate(107.61,1412.20) scale(1.0291,1)" font-size="25.30" font-weight="normal" fill="#000">n=499</text>
<text transform="translate(125.90,1160.85) rotate(-90) scale(0.9568,1)" font-size="31.40" font-weight="normal" fill="#000">ALL Open Chromatin SNVs (556)</text>
<text transform="translate(161.90,1049.70) rotate(-90) scale(0.9570,1)" font-size="31.40" font-weight="normal" fill="#000">Intersection Size</text>
</svg></body></html>
